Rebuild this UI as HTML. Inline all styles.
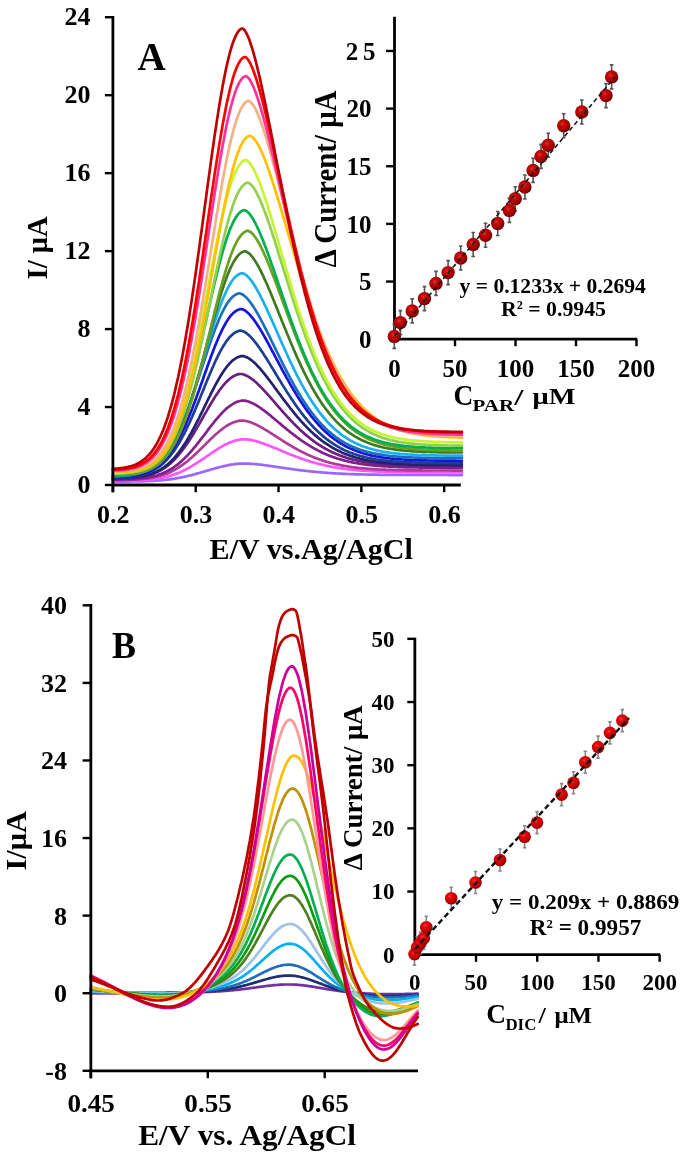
<!DOCTYPE html>
<html><head><meta charset="utf-8"><style>
html,body{margin:0;padding:0;background:#fff;}
svg{display:block;filter:blur(0.55px);}
text{font-family:"Liberation Serif", serif;font-weight:bold;fill:#000;}
</style></head><body>
<svg width="685" height="1156" viewBox="0 0 685 1156">
<defs>
<radialGradient id="sph" cx="0.4" cy="0.36" r="0.64">
<stop offset="0" stop-color="#E23232"/><stop offset="0.3" stop-color="#C40808"/><stop offset="0.75" stop-color="#A00000"/><stop offset="1" stop-color="#680000"/></radialGradient>
<radialGradient id="sph2" cx="0.4" cy="0.36" r="0.64">
<stop offset="0" stop-color="#FF3434"/><stop offset="0.3" stop-color="#E00808"/><stop offset="0.75" stop-color="#C00000"/><stop offset="1" stop-color="#800000"/></radialGradient>
</defs>
<rect width="685" height="1156" fill="#fff"/>
<polyline points="112.9,481.7 114.1,481.7 115.2,481.6 116.4,481.6 117.6,481.6 118.7,481.6 119.9,481.6 121.1,481.6 122.2,481.6 123.4,481.6 124.6,481.6 125.7,481.6 126.9,481.6 128.1,481.6 129.2,481.6 130.4,481.5 131.6,481.5 132.7,481.5 133.9,481.5 135.1,481.5 136.2,481.4 137.4,481.4 138.6,481.4 139.7,481.4 140.9,481.3 142.1,481.3 143.2,481.3 144.4,481.2 145.6,481.2 146.7,481.1 147.9,481.1 149.1,481.0 150.3,481.0 151.4,480.9 152.6,480.9 153.8,480.8 154.9,480.7 156.1,480.7 157.3,480.6 158.4,480.5 159.6,480.4 160.8,480.3 161.9,480.2 163.1,480.1 164.3,480.0 165.4,479.8 166.6,479.7 167.8,479.6 168.9,479.4 170.1,479.3 171.3,479.1 172.4,478.9 173.6,478.8 174.8,478.6 175.9,478.4 177.1,478.2 178.3,478.0 179.4,477.8 180.6,477.5 181.8,477.3 182.9,477.1 184.1,476.8 185.3,476.6 186.4,476.3 187.6,476.0 188.8,475.7 189.9,475.5 191.1,475.2 192.3,474.9 193.4,474.6 194.6,474.3 195.8,473.9 196.9,473.6 198.1,473.3 199.3,473.0 200.4,472.6 201.6,472.3 202.8,472.0 203.9,471.6 205.1,471.3 206.3,470.9 207.4,470.6 208.6,470.2 209.8,469.9 210.9,469.5 212.1,469.2 213.3,468.9 214.4,468.5 215.6,468.2 216.8,467.9 218.0,467.6 219.1,467.3 220.3,467.0 221.5,466.7 222.6,466.4 223.8,466.1 225.0,465.9 226.1,465.6 227.3,465.4 228.5,465.1 229.6,464.9 230.8,464.7 232.0,464.5 233.1,464.4 234.3,464.2 235.5,464.1 236.6,463.9 237.8,463.8 239.0,463.7 240.1,463.6 241.3,463.6 242.5,463.6 243.6,463.6 244.8,463.6 246.0,463.6 247.1,463.6 248.3,463.7 249.5,463.7 250.6,463.8 251.8,463.9 253.0,463.9 254.1,464.0 255.3,464.1 256.5,464.2 257.6,464.4 258.8,464.5 260.0,464.6 261.1,464.7 262.3,464.9 263.5,465.0 264.6,465.2 265.8,465.3 267.0,465.5 268.1,465.7 269.3,465.8 270.5,466.0 271.6,466.1 272.8,466.3 274.0,466.5 275.1,466.7 276.3,466.8 277.5,467.0 278.6,467.2 279.8,467.3 281.0,467.5 282.1,467.7 283.3,467.9 284.5,468.0 285.7,468.2 286.8,468.4 288.0,468.5 289.2,468.7 290.3,468.9 291.5,469.0 292.7,469.2 293.8,469.4 295.0,469.5 296.2,469.7 297.3,469.8 298.5,470.0 299.7,470.1 300.8,470.3 302.0,470.4 303.2,470.5 304.3,470.7 305.5,470.8 306.7,471.0 307.8,471.1 309.0,471.2 310.2,471.3 311.3,471.5 312.5,471.6 313.7,471.7 314.8,471.8 316.0,471.9 317.2,472.0 318.3,472.1 319.5,472.2 320.7,472.3 321.8,472.4 323.0,472.5 324.2,472.6 325.3,472.7 326.5,472.8 327.7,472.9 328.8,473.0 330.0,473.0 331.2,473.1 332.3,473.2 333.5,473.3 334.7,473.3 335.8,473.4 337.0,473.5 338.2,473.5 339.3,473.6 340.5,473.6 341.7,473.7 342.8,473.8 344.0,473.8 345.2,473.9 346.3,473.9 347.5,474.0 348.7,474.0 349.8,474.1 351.0,474.1 352.2,474.1 353.4,474.2 354.5,474.2 355.7,474.3 356.9,474.3 358.0,474.3 359.2,474.4 360.4,474.4 361.5,474.4 362.7,474.4 363.9,474.5 365.0,474.5 366.2,474.5 367.4,474.6 368.5,474.6 369.7,474.6 370.9,474.6 372.0,474.6 373.2,474.7 374.4,474.7 375.5,474.7 376.7,474.7 377.9,474.7 379.0,474.7 380.2,474.8 381.4,474.8 382.5,474.8 383.7,474.8 384.9,474.8 386.0,474.8 387.2,474.8 388.4,474.9 389.5,474.9 390.7,474.9 391.9,474.9 393.0,474.9 394.2,474.9 395.4,474.9 396.5,474.9 397.7,474.9 398.9,474.9 400.0,474.9 401.2,474.9 402.4,475.0 403.5,475.0 404.7,475.0 405.9,475.0 407.0,475.0 408.2,475.0 409.4,475.0 410.5,475.0 411.7,475.0 412.9,475.0 414.0,475.0 415.2,475.0 416.4,475.0 417.5,475.0 418.7,475.0 419.9,475.0 421.1,475.0 422.2,475.0 423.4,475.0 424.6,475.0 425.7,475.0 426.9,475.0 428.1,475.0 429.2,475.0 430.4,475.0 431.6,475.0 432.7,475.0 433.9,475.0 435.1,475.0 436.2,475.0 437.4,475.0 438.6,475.0 439.7,475.0 440.9,475.0 442.1,475.0 443.2,475.0 444.4,475.0 445.6,475.0 446.7,475.0 447.9,475.0 449.1,475.1 450.2,475.1 451.4,475.1 452.6,475.1 453.7,475.1 454.9,475.1 456.1,475.1 457.2,475.1 458.4,475.1 459.6,475.1 460.7,475.1 461.9,475.1" fill="none" stroke="#9966FF" stroke-width="2.7" stroke-linejoin="round" stroke-linecap="round"/>
<polyline points="112.9,480.9 114.1,480.9 115.2,480.8 116.4,480.8 117.6,480.8 118.7,480.8 119.9,480.8 121.1,480.8 122.2,480.8 123.4,480.8 124.6,480.8 125.7,480.7 126.9,480.7 128.1,480.7 129.2,480.7 130.4,480.6 131.6,480.6 132.7,480.6 133.9,480.5 135.1,480.5 136.2,480.5 137.4,480.4 138.6,480.4 139.7,480.3 140.9,480.2 142.1,480.2 143.2,480.1 144.4,480.0 145.6,479.9 146.7,479.9 147.9,479.8 149.1,479.6 150.3,479.5 151.4,479.4 152.6,479.3 153.8,479.1 154.9,479.0 156.1,478.8 157.3,478.6 158.4,478.5 159.6,478.2 160.8,478.0 161.9,477.8 163.1,477.6 164.3,477.3 165.4,477.0 166.6,476.8 167.8,476.4 168.9,476.1 170.1,475.8 171.3,475.4 172.4,475.1 173.6,474.7 174.8,474.3 175.9,473.8 177.1,473.4 178.3,472.9 179.4,472.4 180.6,471.9 181.8,471.4 182.9,470.9 184.1,470.3 185.3,469.7 186.4,469.1 187.6,468.5 188.8,467.9 189.9,467.2 191.1,466.5 192.3,465.9 193.4,465.2 194.6,464.4 195.8,463.7 196.9,463.0 198.1,462.2 199.3,461.4 200.4,460.7 201.6,459.9 202.8,459.1 203.9,458.3 205.1,457.5 206.3,456.7 207.4,455.9 208.6,455.1 209.8,454.3 210.9,453.5 212.1,452.7 213.3,451.9 214.4,451.1 215.6,450.3 216.8,449.6 218.0,448.8 219.1,448.1 220.3,447.4 221.5,446.7 222.6,446.1 223.8,445.4 225.0,444.8 226.1,444.2 227.3,443.7 228.5,443.1 229.6,442.6 230.8,442.2 232.0,441.7 233.1,441.3 234.3,440.9 235.5,440.6 236.6,440.3 237.8,440.0 239.0,439.8 240.1,439.6 241.3,439.4 242.5,439.3 243.6,439.3 244.8,439.3 246.0,439.3 247.1,439.4 248.3,439.6 249.5,439.7 250.6,439.9 251.8,440.1 253.0,440.4 254.1,440.7 255.3,441.0 256.5,441.3 257.6,441.6 258.8,442.0 260.0,442.4 261.1,442.7 262.3,443.1 263.5,443.5 264.6,444.0 265.8,444.4 267.0,444.9 268.1,445.3 269.3,445.8 270.5,446.2 271.6,446.7 272.8,447.2 274.0,447.7 275.1,448.1 276.3,448.6 277.5,449.1 278.6,449.6 279.8,450.1 281.0,450.6 282.1,451.1 283.3,451.6 284.5,452.0 285.7,452.5 286.8,453.0 288.0,453.5 289.2,454.0 290.3,454.4 291.5,454.9 292.7,455.3 293.8,455.8 295.0,456.2 296.2,456.7 297.3,457.1 298.5,457.6 299.7,458.0 300.8,458.4 302.0,458.8 303.2,459.2 304.3,459.6 305.5,460.0 306.7,460.4 307.8,460.7 309.0,461.1 310.2,461.5 311.3,461.8 312.5,462.2 313.7,462.5 314.8,462.8 316.0,463.2 317.2,463.5 318.3,463.8 319.5,464.1 320.7,464.4 321.8,464.7 323.0,464.9 324.2,465.2 325.3,465.5 326.5,465.7 327.7,466.0 328.8,466.2 330.0,466.4 331.2,466.7 332.3,466.9 333.5,467.1 334.7,467.3 335.8,467.5 337.0,467.7 338.2,467.9 339.3,468.1 340.5,468.2 341.7,468.4 342.8,468.6 344.0,468.7 345.2,468.9 346.3,469.0 347.5,469.2 348.7,469.3 349.8,469.5 351.0,469.6 352.2,469.7 353.4,469.8 354.5,469.9 355.7,470.1 356.9,470.2 358.0,470.3 359.2,470.4 360.4,470.5 361.5,470.6 362.7,470.6 363.9,470.7 365.0,470.8 366.2,470.9 367.4,471.0 368.5,471.0 369.7,471.1 370.9,471.2 372.0,471.2 373.2,471.3 374.4,471.4 375.5,471.4 376.7,471.5 377.9,471.5 379.0,471.6 380.2,471.6 381.4,471.7 382.5,471.7 383.7,471.7 384.9,471.8 386.0,471.8 387.2,471.8 388.4,471.9 389.5,471.9 390.7,471.9 391.9,472.0 393.0,472.0 394.2,472.0 395.4,472.1 396.5,472.1 397.7,472.1 398.9,472.1 400.0,472.1 401.2,472.2 402.4,472.2 403.5,472.2 404.7,472.2 405.9,472.2 407.0,472.3 408.2,472.3 409.4,472.3 410.5,472.3 411.7,472.3 412.9,472.3 414.0,472.3 415.2,472.3 416.4,472.4 417.5,472.4 418.7,472.4 419.9,472.4 421.1,472.4 422.2,472.4 423.4,472.4 424.6,472.4 425.7,472.4 426.9,472.4 428.1,472.4 429.2,472.4 430.4,472.4 431.6,472.4 432.7,472.5 433.9,472.5 435.1,472.5 436.2,472.5 437.4,472.5 438.6,472.5 439.7,472.5 440.9,472.5 442.1,472.5 443.2,472.5 444.4,472.5 445.6,472.5 446.7,472.5 447.9,472.5 449.1,472.5 450.2,472.5 451.4,472.5 452.6,472.5 453.7,472.5 454.9,472.5 456.1,472.5 457.2,472.5 458.4,472.5 459.6,472.5 460.7,472.5 461.9,472.5" fill="none" stroke="#FF55FF" stroke-width="2.7" stroke-linejoin="round" stroke-linecap="round"/>
<polyline points="112.9,480.2 114.1,480.2 115.2,480.2 116.4,480.2 117.6,480.2 118.7,480.2 119.9,480.2 121.1,480.1 122.2,480.1 123.4,480.1 124.6,480.1 125.7,480.0 126.9,480.0 128.1,480.0 129.2,479.9 130.4,479.9 131.6,479.8 132.7,479.8 133.9,479.7 135.1,479.7 136.2,479.6 137.4,479.5 138.6,479.4 139.7,479.3 140.9,479.2 142.1,479.1 143.2,479.0 144.4,478.9 145.6,478.7 146.7,478.6 147.9,478.4 149.1,478.3 150.3,478.1 151.4,477.9 152.6,477.7 153.8,477.4 154.9,477.2 156.1,476.9 157.3,476.6 158.4,476.3 159.6,476.0 160.8,475.7 161.9,475.3 163.1,474.9 164.3,474.5 165.4,474.1 166.6,473.7 167.8,473.2 168.9,472.7 170.1,472.2 171.3,471.6 172.4,471.0 173.6,470.4 174.8,469.8 175.9,469.1 177.1,468.4 178.3,467.7 179.4,467.0 180.6,466.2 181.8,465.4 182.9,464.6 184.1,463.7 185.3,462.8 186.4,461.9 187.6,461.0 188.8,460.0 189.9,459.0 191.1,458.0 192.3,457.0 193.4,455.9 194.6,454.9 195.8,453.8 196.9,452.7 198.1,451.6 199.3,450.4 200.4,449.3 201.6,448.1 202.8,447.0 203.9,445.8 205.1,444.7 206.3,443.5 207.4,442.3 208.6,441.2 209.8,440.0 210.9,438.9 212.1,437.8 213.3,436.7 214.4,435.6 215.6,434.5 216.8,433.5 218.0,432.5 219.1,431.5 220.3,430.5 221.5,429.6 222.6,428.7 223.8,427.8 225.0,427.0 226.1,426.2 227.3,425.5 228.5,424.8 229.6,424.2 230.8,423.6 232.0,423.1 233.1,422.6 234.3,422.1 235.5,421.7 236.6,421.4 237.8,421.1 239.0,420.9 240.1,420.7 241.3,420.6 242.5,420.6 243.6,420.6 244.8,420.8 246.0,421.0 247.1,421.3 248.3,421.6 249.5,421.9 250.6,422.3 251.8,422.8 253.0,423.2 254.1,423.7 255.3,424.3 256.5,424.8 257.6,425.4 258.8,426.0 260.0,426.6 261.1,427.3 262.3,427.9 263.5,428.6 264.6,429.3 265.8,430.0 267.0,430.7 268.1,431.4 269.3,432.2 270.5,432.9 271.6,433.6 272.8,434.4 274.0,435.1 275.1,435.9 276.3,436.7 277.5,437.4 278.6,438.2 279.8,438.9 281.0,439.7 282.1,440.4 283.3,441.1 284.5,441.9 285.7,442.6 286.8,443.3 288.0,444.0 289.2,444.8 290.3,445.4 291.5,446.1 292.7,446.8 293.8,447.5 295.0,448.2 296.2,448.8 297.3,449.4 298.5,450.1 299.7,450.7 300.8,451.3 302.0,451.9 303.2,452.5 304.3,453.1 305.5,453.6 306.7,454.2 307.8,454.7 309.0,455.2 310.2,455.8 311.3,456.3 312.5,456.7 313.7,457.2 314.8,457.7 316.0,458.1 317.2,458.6 318.3,459.0 319.5,459.4 320.7,459.8 321.8,460.2 323.0,460.6 324.2,461.0 325.3,461.4 326.5,461.7 327.7,462.0 328.8,462.4 330.0,462.7 331.2,463.0 332.3,463.3 333.5,463.6 334.7,463.9 335.8,464.2 337.0,464.4 338.2,464.7 339.3,464.9 340.5,465.2 341.7,465.4 342.8,465.6 344.0,465.8 345.2,466.0 346.3,466.2 347.5,466.4 348.7,466.6 349.8,466.8 351.0,466.9 352.2,467.1 353.4,467.3 354.5,467.4 355.7,467.6 356.9,467.7 358.0,467.8 359.2,468.0 360.4,468.1 361.5,468.2 362.7,468.3 363.9,468.4 365.0,468.5 366.2,468.6 367.4,468.7 368.5,468.8 369.7,468.9 370.9,469.0 372.0,469.0 373.2,469.1 374.4,469.2 375.5,469.3 376.7,469.3 377.9,469.4 379.0,469.5 380.2,469.5 381.4,469.6 382.5,469.6 383.7,469.7 384.9,469.7 386.0,469.8 387.2,469.8 388.4,469.8 389.5,469.9 390.7,469.9 391.9,470.0 393.0,470.0 394.2,470.0 395.4,470.1 396.5,470.1 397.7,470.1 398.9,470.1 400.0,470.2 401.2,470.2 402.4,470.2 403.5,470.2 404.7,470.2 405.9,470.3 407.0,470.3 408.2,470.3 409.4,470.3 410.5,470.3 411.7,470.3 412.9,470.4 414.0,470.4 415.2,470.4 416.4,470.4 417.5,470.4 418.7,470.4 419.9,470.4 421.1,470.4 422.2,470.4 423.4,470.5 424.6,470.5 425.7,470.5 426.9,470.5 428.1,470.5 429.2,470.5 430.4,470.5 431.6,470.5 432.7,470.5 433.9,470.5 435.1,470.5 436.2,470.5 437.4,470.5 438.6,470.5 439.7,470.5 440.9,470.5 442.1,470.5 443.2,470.5 444.4,470.5 445.6,470.5 446.7,470.5 447.9,470.5 449.1,470.5 450.2,470.5 451.4,470.6 452.6,470.6 453.7,470.6 454.9,470.6 456.1,470.6 457.2,470.6 458.4,470.6 459.6,470.6 460.7,470.6 461.9,470.6" fill="none" stroke="#B03A98" stroke-width="2.7" stroke-linejoin="round" stroke-linecap="round"/>
<polyline points="112.9,479.6 114.1,479.6 115.2,479.6 116.4,479.6 117.6,479.6 118.7,479.6 119.9,479.5 121.1,479.5 122.2,479.5 123.4,479.5 124.6,479.4 125.7,479.4 126.9,479.4 128.1,479.3 129.2,479.3 130.4,479.2 131.6,479.1 132.7,479.1 133.9,479.0 135.1,478.9 136.2,478.8 137.4,478.8 138.6,478.7 139.7,478.5 140.9,478.4 142.1,478.3 143.2,478.1 144.4,478.0 145.6,477.8 146.7,477.6 147.9,477.4 149.1,477.2 150.3,477.0 151.4,476.7 152.6,476.5 153.8,476.2 154.9,475.9 156.1,475.6 157.3,475.2 158.4,474.8 159.6,474.4 160.8,474.0 161.9,473.5 163.1,473.1 164.3,472.6 165.4,472.0 166.6,471.4 167.8,470.8 168.9,470.2 170.1,469.5 171.3,468.8 172.4,468.1 173.6,467.3 174.8,466.5 175.9,465.7 177.1,464.8 178.3,463.9 179.4,462.9 180.6,461.9 181.8,460.9 182.9,459.8 184.1,458.7 185.3,457.6 186.4,456.4 187.6,455.2 188.8,453.9 189.9,452.7 191.1,451.3 192.3,450.0 193.4,448.6 194.6,447.2 195.8,445.8 196.9,444.4 198.1,442.9 199.3,441.4 200.4,439.9 201.6,438.4 202.8,436.9 203.9,435.3 205.1,433.8 206.3,432.3 207.4,430.7 208.6,429.2 209.8,427.7 210.9,426.1 212.1,424.6 213.3,423.2 214.4,421.7 215.6,420.2 216.8,418.8 218.0,417.5 219.1,416.1 220.3,414.8 221.5,413.5 222.6,412.3 223.8,411.1 225.0,410.0 226.1,408.9 227.3,407.9 228.5,407.0 229.6,406.1 230.8,405.3 232.0,404.5 233.1,403.8 234.3,403.1 235.5,402.6 236.6,402.1 237.8,401.6 239.0,401.3 240.1,401.0 241.3,400.7 242.5,400.6 243.6,400.6 244.8,400.7 246.0,400.9 247.1,401.2 248.3,401.5 249.5,401.9 250.6,402.4 251.8,402.9 253.0,403.4 254.1,404.1 255.3,404.7 256.5,405.4 257.6,406.1 258.8,406.9 260.0,407.6 261.1,408.4 262.3,409.3 263.5,410.1 264.6,411.0 265.8,411.9 267.0,412.8 268.1,413.7 269.3,414.7 270.5,415.6 271.6,416.6 272.8,417.6 274.0,418.5 275.1,419.5 276.3,420.5 277.5,421.5 278.6,422.5 279.8,423.4 281.0,424.4 282.1,425.4 283.3,426.4 284.5,427.3 285.7,428.3 286.8,429.3 288.0,430.2 289.2,431.2 290.3,432.1 291.5,433.0 292.7,433.9 293.8,434.8 295.0,435.7 296.2,436.6 297.3,437.5 298.5,438.3 299.7,439.2 300.8,440.0 302.0,440.8 303.2,441.6 304.3,442.4 305.5,443.2 306.7,443.9 307.8,444.7 309.0,445.4 310.2,446.1 311.3,446.8 312.5,447.5 313.7,448.1 314.8,448.8 316.0,449.4 317.2,450.0 318.3,450.6 319.5,451.2 320.7,451.8 321.8,452.4 323.0,452.9 324.2,453.4 325.3,454.0 326.5,454.5 327.7,454.9 328.8,455.4 330.0,455.9 331.2,456.3 332.3,456.8 333.5,457.2 334.7,457.6 335.8,458.0 337.0,458.4 338.2,458.7 339.3,459.1 340.5,459.4 341.7,459.8 342.8,460.1 344.0,460.4 345.2,460.7 346.3,461.0 347.5,461.3 348.7,461.6 349.8,461.8 351.0,462.1 352.2,462.3 353.4,462.6 354.5,462.8 355.7,463.0 356.9,463.2 358.0,463.4 359.2,463.6 360.4,463.8 361.5,464.0 362.7,464.2 363.9,464.3 365.0,464.5 366.2,464.6 367.4,464.8 368.5,464.9 369.7,465.1 370.9,465.2 372.0,465.3 373.2,465.4 374.4,465.6 375.5,465.7 376.7,465.8 377.9,465.9 379.0,466.0 380.2,466.1 381.4,466.1 382.5,466.2 383.7,466.3 384.9,466.4 386.0,466.5 387.2,466.5 388.4,466.6 389.5,466.7 390.7,466.7 391.9,466.8 393.0,466.8 394.2,466.9 395.4,466.9 396.5,467.0 397.7,467.0 398.9,467.1 400.0,467.1 401.2,467.1 402.4,467.2 403.5,467.2 404.7,467.3 405.9,467.3 407.0,467.3 408.2,467.3 409.4,467.4 410.5,467.4 411.7,467.4 412.9,467.4 414.0,467.5 415.2,467.5 416.4,467.5 417.5,467.5 418.7,467.5 419.9,467.6 421.1,467.6 422.2,467.6 423.4,467.6 424.6,467.6 425.7,467.6 426.9,467.6 428.1,467.7 429.2,467.7 430.4,467.7 431.6,467.7 432.7,467.7 433.9,467.7 435.1,467.7 436.2,467.7 437.4,467.7 438.6,467.7 439.7,467.7 440.9,467.8 442.1,467.8 443.2,467.8 444.4,467.8 445.6,467.8 446.7,467.8 447.9,467.8 449.1,467.8 450.2,467.8 451.4,467.8 452.6,467.8 453.7,467.8 454.9,467.8 456.1,467.8 457.2,467.8 458.4,467.8 459.6,467.8 460.7,467.8 461.9,467.8" fill="none" stroke="#82208E" stroke-width="2.7" stroke-linejoin="round" stroke-linecap="round"/>
<polyline points="112.9,479.0 114.1,479.0 115.2,479.0 116.4,478.9 117.6,478.9 118.7,478.9 119.9,478.8 121.1,478.8 122.2,478.7 123.4,478.7 124.6,478.6 125.7,478.6 126.9,478.5 128.1,478.5 129.2,478.4 130.4,478.3 131.6,478.2 132.7,478.1 133.9,478.0 135.1,477.9 136.2,477.7 137.4,477.6 138.6,477.4 139.7,477.2 140.9,477.0 142.1,476.8 143.2,476.6 144.4,476.4 145.6,476.1 146.7,475.8 147.9,475.5 149.1,475.2 150.3,474.8 151.4,474.4 152.6,474.0 153.8,473.6 154.9,473.1 156.1,472.6 157.3,472.1 158.4,471.5 159.6,470.9 160.8,470.3 161.9,469.6 163.1,468.9 164.3,468.1 165.4,467.3 166.6,466.4 167.8,465.5 168.9,464.6 170.1,463.6 171.3,462.6 172.4,461.5 173.6,460.4 174.8,459.2 175.9,457.9 177.1,456.7 178.3,455.3 179.4,454.0 180.6,452.5 181.8,451.0 182.9,449.5 184.1,447.9 185.3,446.3 186.4,444.6 187.6,442.9 188.8,441.2 189.9,439.4 191.1,437.6 192.3,435.7 193.4,433.8 194.6,431.8 195.8,429.9 196.9,427.9 198.1,425.9 199.3,423.9 200.4,421.8 201.6,419.8 202.8,417.7 203.9,415.7 205.1,413.6 206.3,411.6 207.4,409.6 208.6,407.5 209.8,405.5 210.9,403.6 212.1,401.6 213.3,399.7 214.4,397.8 215.6,396.0 216.8,394.2 218.0,392.5 219.1,390.8 220.3,389.2 221.5,387.7 222.6,386.2 223.8,384.8 225.0,383.4 226.1,382.2 227.3,381.0 228.5,379.9 229.6,378.9 230.8,378.0 232.0,377.2 233.1,376.5 234.3,375.8 235.5,375.3 236.6,374.8 237.8,374.4 239.0,374.2 240.1,374.0 241.3,374.0 242.5,374.2 243.6,374.5 244.8,374.9 246.0,375.4 247.1,375.9 248.3,376.6 249.5,377.3 250.6,378.1 251.8,378.9 253.0,379.8 254.1,380.8 255.3,381.8 256.5,382.8 257.6,383.9 258.8,385.0 260.0,386.2 261.1,387.4 262.3,388.6 263.5,389.8 264.6,391.1 265.8,392.3 267.0,393.6 268.1,394.9 269.3,396.2 270.5,397.6 271.6,398.9 272.8,400.2 274.0,401.6 275.1,402.9 276.3,404.3 277.5,405.6 278.6,407.0 279.8,408.3 281.0,409.6 282.1,411.0 283.3,412.3 284.5,413.6 285.7,414.9 286.8,416.2 288.0,417.5 289.2,418.7 290.3,420.0 291.5,421.2 292.7,422.4 293.8,423.6 295.0,424.8 296.2,426.0 297.3,427.1 298.5,428.2 299.7,429.4 300.8,430.4 302.0,431.5 303.2,432.6 304.3,433.6 305.5,434.6 306.7,435.6 307.8,436.6 309.0,437.5 310.2,438.4 311.3,439.4 312.5,440.2 313.7,441.1 314.8,442.0 316.0,442.8 317.2,443.6 318.3,444.4 319.5,445.1 320.7,445.9 321.8,446.6 323.0,447.3 324.2,448.0 325.3,448.7 326.5,449.3 327.7,449.9 328.8,450.5 330.0,451.1 331.2,451.7 332.3,452.3 333.5,452.8 334.7,453.3 335.8,453.8 337.0,454.3 338.2,454.8 339.3,455.3 340.5,455.7 341.7,456.1 342.8,456.5 344.0,456.9 345.2,457.3 346.3,457.7 347.5,458.1 348.7,458.4 349.8,458.7 351.0,459.1 352.2,459.4 353.4,459.7 354.5,460.0 355.7,460.2 356.9,460.5 358.0,460.8 359.2,461.0 360.4,461.2 361.5,461.5 362.7,461.7 363.9,461.9 365.0,462.1 366.2,462.3 367.4,462.5 368.5,462.7 369.7,462.8 370.9,463.0 372.0,463.1 373.2,463.3 374.4,463.4 375.5,463.6 376.7,463.7 377.9,463.8 379.0,464.0 380.2,464.1 381.4,464.2 382.5,464.3 383.7,464.4 384.9,464.5 386.0,464.6 387.2,464.7 388.4,464.7 389.5,464.8 390.7,464.9 391.9,465.0 393.0,465.0 394.2,465.1 395.4,465.2 396.5,465.2 397.7,465.3 398.9,465.3 400.0,465.4 401.2,465.4 402.4,465.5 403.5,465.5 404.7,465.6 405.9,465.6 407.0,465.6 408.2,465.7 409.4,465.7 410.5,465.7 411.7,465.8 412.9,465.8 414.0,465.8 415.2,465.9 416.4,465.9 417.5,465.9 418.7,465.9 419.9,465.9 421.1,466.0 422.2,466.0 423.4,466.0 424.6,466.0 425.7,466.0 426.9,466.0 428.1,466.1 429.2,466.1 430.4,466.1 431.6,466.1 432.7,466.1 433.9,466.1 435.1,466.1 436.2,466.1 437.4,466.2 438.6,466.2 439.7,466.2 440.9,466.2 442.1,466.2 443.2,466.2 444.4,466.2 445.6,466.2 446.7,466.2 447.9,466.2 449.1,466.2 450.2,466.2 451.4,466.2 452.6,466.2 453.7,466.2 454.9,466.2 456.1,466.2 457.2,466.2 458.4,466.2 459.6,466.2 460.7,466.3 461.9,466.3" fill="none" stroke="#6C1E80" stroke-width="2.7" stroke-linejoin="round" stroke-linecap="round"/>
<polyline points="112.9,478.4 114.1,478.4 115.2,478.4 116.4,478.3 117.6,478.3 118.7,478.3 119.9,478.3 121.1,478.2 122.2,478.2 123.4,478.1 124.6,478.1 125.7,478.0 126.9,478.0 128.1,477.9 129.2,477.8 130.4,477.7 131.6,477.6 132.7,477.5 133.9,477.4 135.1,477.3 136.2,477.1 137.4,477.0 138.6,476.8 139.7,476.6 140.9,476.4 142.1,476.2 143.2,476.0 144.4,475.7 145.6,475.5 146.7,475.2 147.9,474.8 149.1,474.5 150.3,474.1 151.4,473.7 152.6,473.3 153.8,472.8 154.9,472.3 156.1,471.8 157.3,471.2 158.4,470.6 159.6,470.0 160.8,469.3 161.9,468.6 163.1,467.8 164.3,467.0 165.4,466.1 166.6,465.2 167.8,464.2 168.9,463.2 170.1,462.1 171.3,461.0 172.4,459.8 173.6,458.6 174.8,457.3 175.9,455.9 177.1,454.5 178.3,453.1 179.4,451.5 180.6,449.9 181.8,448.3 182.9,446.6 184.1,444.8 185.3,443.0 186.4,441.2 187.6,439.2 188.8,437.3 189.9,435.2 191.1,433.2 192.3,431.0 193.4,428.9 194.6,426.7 195.8,424.4 196.9,422.2 198.1,419.8 199.3,417.5 200.4,415.2 201.6,412.8 202.8,410.4 203.9,408.0 205.1,405.6 206.3,403.2 207.4,400.8 208.6,398.4 209.8,396.1 210.9,393.7 212.1,391.4 213.3,389.1 214.4,386.9 215.6,384.7 216.8,382.5 218.0,380.4 219.1,378.4 220.3,376.4 221.5,374.5 222.6,372.7 223.8,370.9 225.0,369.2 226.1,367.7 227.3,366.2 228.5,364.8 229.6,363.4 230.8,362.2 232.0,361.1 233.1,360.1 234.3,359.3 235.5,358.5 236.6,357.8 237.8,357.2 239.0,356.7 240.1,356.4 241.3,356.1 242.5,356.0 243.6,356.1 244.8,356.4 246.0,356.9 247.1,357.4 248.3,358.0 249.5,358.8 250.6,359.6 251.8,360.5 253.0,361.5 254.1,362.5 255.3,363.6 256.5,364.8 257.6,366.0 258.8,367.2 260.0,368.5 261.1,369.9 262.3,371.3 263.5,372.7 264.6,374.1 265.8,375.6 267.0,377.1 268.1,378.6 269.3,380.1 270.5,381.7 271.6,383.2 272.8,384.8 274.0,386.4 275.1,388.0 276.3,389.6 277.5,391.2 278.6,392.8 279.8,394.3 281.0,395.9 282.1,397.5 283.3,399.1 284.5,400.6 285.7,402.2 286.8,403.7 288.0,405.2 289.2,406.8 290.3,408.3 291.5,409.7 292.7,411.2 293.8,412.6 295.0,414.1 296.2,415.5 297.3,416.9 298.5,418.2 299.7,419.6 300.8,420.9 302.0,422.2 303.2,423.5 304.3,424.7 305.5,425.9 306.7,427.2 307.8,428.3 309.0,429.5 310.2,430.6 311.3,431.7 312.5,432.8 313.7,433.9 314.8,434.9 316.0,435.9 317.2,436.9 318.3,437.9 319.5,438.8 320.7,439.7 321.8,440.6 323.0,441.5 324.2,442.3 325.3,443.1 326.5,443.9 327.7,444.7 328.8,445.4 330.0,446.2 331.2,446.9 332.3,447.6 333.5,448.2 334.7,448.9 335.8,449.5 337.0,450.1 338.2,450.7 339.3,451.3 340.5,451.8 341.7,452.4 342.8,452.9 344.0,453.4 345.2,453.9 346.3,454.3 347.5,454.8 348.7,455.2 349.8,455.6 351.0,456.0 352.2,456.4 353.4,456.8 354.5,457.1 355.7,457.5 356.9,457.8 358.0,458.1 359.2,458.4 360.4,458.7 361.5,459.0 362.7,459.3 363.9,459.6 365.0,459.8 366.2,460.1 367.4,460.3 368.5,460.5 369.7,460.7 370.9,460.9 372.0,461.1 373.2,461.3 374.4,461.5 375.5,461.7 376.7,461.8 377.9,462.0 379.0,462.1 380.2,462.3 381.4,462.4 382.5,462.6 383.7,462.7 384.9,462.8 386.0,462.9 387.2,463.0 388.4,463.1 389.5,463.2 390.7,463.3 391.9,463.4 393.0,463.5 394.2,463.6 395.4,463.7 396.5,463.8 397.7,463.8 398.9,463.9 400.0,464.0 401.2,464.0 402.4,464.1 403.5,464.1 404.7,464.2 405.9,464.2 407.0,464.3 408.2,464.3 409.4,464.4 410.5,464.4 411.7,464.5 412.9,464.5 414.0,464.5 415.2,464.6 416.4,464.6 417.5,464.6 418.7,464.6 419.9,464.7 421.1,464.7 422.2,464.7 423.4,464.7 424.6,464.8 425.7,464.8 426.9,464.8 428.1,464.8 429.2,464.8 430.4,464.9 431.6,464.9 432.7,464.9 433.9,464.9 435.1,464.9 436.2,464.9 437.4,464.9 438.6,465.0 439.7,465.0 440.9,465.0 442.1,465.0 443.2,465.0 444.4,465.0 445.6,465.0 446.7,465.0 447.9,465.0 449.1,465.0 450.2,465.0 451.4,465.0 452.6,465.0 453.7,465.0 454.9,465.1 456.1,465.1 457.2,465.1 458.4,465.1 459.6,465.1 460.7,465.1 461.9,465.1" fill="none" stroke="#222270" stroke-width="2.7" stroke-linejoin="round" stroke-linecap="round"/>
<polyline points="112.9,477.8 114.1,477.7 115.2,477.7 116.4,477.7 117.6,477.6 118.7,477.6 119.9,477.5 121.1,477.5 122.2,477.4 123.4,477.3 124.6,477.3 125.7,477.2 126.9,477.1 128.1,477.0 129.2,476.9 130.4,476.8 131.6,476.6 132.7,476.5 133.9,476.3 135.1,476.1 136.2,476.0 137.4,475.7 138.6,475.5 139.7,475.3 140.9,475.0 142.1,474.7 143.2,474.4 144.4,474.0 145.6,473.7 146.7,473.3 147.9,472.8 149.1,472.3 150.3,471.8 151.4,471.3 152.6,470.7 153.8,470.1 154.9,469.4 156.1,468.7 157.3,468.0 158.4,467.2 159.6,466.3 160.8,465.4 161.9,464.4 163.1,463.4 164.3,462.3 165.4,461.2 166.6,460.0 167.8,458.7 168.9,457.4 170.1,456.0 171.3,454.5 172.4,453.0 173.6,451.4 174.8,449.7 175.9,448.0 177.1,446.1 178.3,444.3 179.4,442.3 180.6,440.3 181.8,438.2 182.9,436.0 184.1,433.8 185.3,431.5 186.4,429.1 187.6,426.7 188.8,424.2 189.9,421.7 191.1,419.1 192.3,416.5 193.4,413.8 194.6,411.1 195.8,408.3 196.9,405.5 198.1,402.7 199.3,399.9 200.4,397.0 201.6,394.1 202.8,391.2 203.9,388.4 205.1,385.5 206.3,382.6 207.4,379.7 208.6,376.9 209.8,374.1 210.9,371.4 212.1,368.6 213.3,366.0 214.4,363.4 215.6,360.8 216.8,358.3 218.0,355.9 219.1,353.6 220.3,351.4 221.5,349.2 222.6,347.2 223.8,345.2 225.0,343.4 226.1,341.7 227.3,340.1 228.5,338.6 229.6,337.2 230.8,336.0 232.0,334.9 233.1,333.9 234.3,333.0 235.5,332.3 236.6,331.7 237.8,331.2 239.0,330.9 240.1,330.7 241.3,330.7 242.5,331.0 243.6,331.5 244.8,332.1 246.0,332.9 247.1,333.7 248.3,334.7 249.5,335.8 250.6,336.9 251.8,338.2 253.0,339.5 254.1,340.9 255.3,342.3 256.5,343.8 257.6,345.4 258.8,347.0 260.0,348.7 261.1,350.4 262.3,352.1 263.5,353.9 264.6,355.7 265.8,357.5 267.0,359.4 268.1,361.3 269.3,363.1 270.5,365.1 271.6,367.0 272.8,368.9 274.0,370.8 275.1,372.7 276.3,374.7 277.5,376.6 278.6,378.5 279.8,380.4 281.0,382.3 282.1,384.2 283.3,386.1 284.5,388.0 285.7,389.9 286.8,391.7 288.0,393.5 289.2,395.3 290.3,397.1 291.5,398.9 292.7,400.6 293.8,402.3 295.0,404.0 296.2,405.7 297.3,407.3 298.5,408.9 299.7,410.5 300.8,412.1 302.0,413.6 303.2,415.1 304.3,416.6 305.5,418.0 306.7,419.4 307.8,420.8 309.0,422.2 310.2,423.5 311.3,424.8 312.5,426.0 313.7,427.3 314.8,428.5 316.0,429.7 317.2,430.8 318.3,431.9 319.5,433.0 320.7,434.1 321.8,435.1 323.0,436.1 324.2,437.1 325.3,438.0 326.5,439.0 327.7,439.9 328.8,440.7 330.0,441.6 331.2,442.4 332.3,443.2 333.5,444.0 334.7,444.7 335.8,445.4 337.0,446.1 338.2,446.8 339.3,447.4 340.5,448.1 341.7,448.7 342.8,449.3 344.0,449.9 345.2,450.4 346.3,450.9 347.5,451.4 348.7,451.9 349.8,452.4 351.0,452.9 352.2,453.3 353.4,453.7 354.5,454.2 355.7,454.5 356.9,454.9 358.0,455.3 359.2,455.6 360.4,456.0 361.5,456.3 362.7,456.6 363.9,456.9 365.0,457.2 366.2,457.5 367.4,457.7 368.5,458.0 369.7,458.2 370.9,458.5 372.0,458.7 373.2,458.9 374.4,459.1 375.5,459.3 376.7,459.5 377.9,459.7 379.0,459.8 380.2,460.0 381.4,460.2 382.5,460.3 383.7,460.5 384.9,460.6 386.0,460.7 387.2,460.8 388.4,461.0 389.5,461.1 390.7,461.2 391.9,461.3 393.0,461.4 394.2,461.5 395.4,461.6 396.5,461.6 397.7,461.7 398.9,461.8 400.0,461.9 401.2,461.9 402.4,462.0 403.5,462.1 404.7,462.1 405.9,462.2 407.0,462.2 408.2,462.3 409.4,462.3 410.5,462.4 411.7,462.4 412.9,462.5 414.0,462.5 415.2,462.5 416.4,462.6 417.5,462.6 418.7,462.6 419.9,462.7 421.1,462.7 422.2,462.7 423.4,462.8 424.6,462.8 425.7,462.8 426.9,462.8 428.1,462.8 429.2,462.9 430.4,462.9 431.6,462.9 432.7,462.9 433.9,462.9 435.1,462.9 436.2,463.0 437.4,463.0 438.6,463.0 439.7,463.0 440.9,463.0 442.1,463.0 443.2,463.0 444.4,463.0 445.6,463.0 446.7,463.1 447.9,463.1 449.1,463.1 450.2,463.1 451.4,463.1 452.6,463.1 453.7,463.1 454.9,463.1 456.1,463.1 457.2,463.1 458.4,463.1 459.6,463.1 460.7,463.1 461.9,463.1" fill="none" stroke="#1C3F94" stroke-width="2.7" stroke-linejoin="round" stroke-linecap="round"/>
<polyline points="112.9,477.2 114.1,477.1 115.2,477.1 116.4,477.1 117.6,477.0 118.7,477.0 119.9,476.9 121.1,476.8 122.2,476.8 123.4,476.7 124.6,476.6 125.7,476.5 126.9,476.4 128.1,476.3 129.2,476.2 130.4,476.1 131.6,475.9 132.7,475.8 133.9,475.6 135.1,475.4 136.2,475.2 137.4,474.9 138.6,474.7 139.7,474.4 140.9,474.1 142.1,473.8 143.2,473.4 144.4,473.0 145.6,472.6 146.7,472.2 147.9,471.7 149.1,471.2 150.3,470.6 151.4,470.0 152.6,469.4 153.8,468.7 154.9,467.9 156.1,467.2 157.3,466.3 158.4,465.4 159.6,464.5 160.8,463.4 161.9,462.4 163.1,461.2 164.3,460.0 165.4,458.7 166.6,457.4 167.8,456.0 168.9,454.5 170.1,452.9 171.3,451.3 172.4,449.6 173.6,447.8 174.8,445.9 175.9,443.9 177.1,441.9 178.3,439.8 179.4,437.5 180.6,435.3 181.8,432.9 182.9,430.5 184.1,428.0 185.3,425.4 186.4,422.7 187.6,420.0 188.8,417.2 189.9,414.3 191.1,411.4 192.3,408.4 193.4,405.3 194.6,402.2 195.8,399.1 196.9,395.9 198.1,392.7 199.3,389.5 200.4,386.2 201.6,382.9 202.8,379.6 203.9,376.3 205.1,373.0 206.3,369.7 207.4,366.5 208.6,363.2 209.8,360.0 210.9,356.8 212.1,353.7 213.3,350.6 214.4,347.6 215.6,344.7 216.8,341.8 218.0,339.0 219.1,336.3 220.3,333.7 221.5,331.2 222.6,328.9 223.8,326.6 225.0,324.5 226.1,322.4 227.3,320.5 228.5,318.8 229.6,317.2 230.8,315.7 232.0,314.4 233.1,313.2 234.3,312.2 235.5,311.3 236.6,310.5 237.8,309.9 239.0,309.5 240.1,309.1 241.3,309.1 242.5,309.3 243.6,309.8 244.8,310.4 246.0,311.2 247.1,312.2 248.3,313.2 249.5,314.4 250.6,315.7 251.8,317.1 253.0,318.6 254.1,320.1 255.3,321.7 256.5,323.5 257.6,325.2 258.8,327.0 260.0,328.9 261.1,330.9 262.3,332.8 263.5,334.9 264.6,336.9 265.8,339.0 267.0,341.1 268.1,343.2 269.3,345.4 270.5,347.6 271.6,349.8 272.8,352.0 274.0,354.2 275.1,356.4 276.3,358.6 277.5,360.8 278.6,363.0 279.8,365.2 281.0,367.4 282.1,369.6 283.3,371.7 284.5,373.9 285.7,376.0 286.8,378.1 288.0,380.2 289.2,382.3 290.3,384.3 291.5,386.4 292.7,388.4 293.8,390.3 295.0,392.3 296.2,394.2 297.3,396.1 298.5,398.0 299.7,399.8 300.8,401.6 302.0,403.3 303.2,405.1 304.3,406.8 305.5,408.4 306.7,410.1 307.8,411.7 309.0,413.2 310.2,414.8 311.3,416.3 312.5,417.7 313.7,419.2 314.8,420.5 316.0,421.9 317.2,423.2 318.3,424.5 319.5,425.8 320.7,427.0 321.8,428.2 323.0,429.4 324.2,430.5 325.3,431.6 326.5,432.7 327.7,433.7 328.8,434.7 330.0,435.7 331.2,436.7 332.3,437.6 333.5,438.5 334.7,439.3 335.8,440.2 337.0,441.0 338.2,441.8 339.3,442.5 340.5,443.3 341.7,444.0 342.8,444.6 344.0,445.3 345.2,446.0 346.3,446.6 347.5,447.2 348.7,447.7 349.8,448.3 351.0,448.8 352.2,449.3 353.4,449.8 354.5,450.3 355.7,450.8 356.9,451.2 358.0,451.6 359.2,452.0 360.4,452.4 361.5,452.8 362.7,453.2 363.9,453.5 365.0,453.9 366.2,454.2 367.4,454.5 368.5,454.8 369.7,455.1 370.9,455.3 372.0,455.6 373.2,455.8 374.4,456.1 375.5,456.3 376.7,456.5 377.9,456.7 379.0,456.9 380.2,457.1 381.4,457.3 382.5,457.5 383.7,457.7 384.9,457.8 386.0,458.0 387.2,458.1 388.4,458.2 389.5,458.4 390.7,458.5 391.9,458.6 393.0,458.7 394.2,458.8 395.4,459.0 396.5,459.0 397.7,459.1 398.9,459.2 400.0,459.3 401.2,459.4 402.4,459.5 403.5,459.5 404.7,459.6 405.9,459.7 407.0,459.7 408.2,459.8 409.4,459.9 410.5,459.9 411.7,460.0 412.9,460.0 414.0,460.1 415.2,460.1 416.4,460.1 417.5,460.2 418.7,460.2 419.9,460.3 421.1,460.3 422.2,460.3 423.4,460.3 424.6,460.4 425.7,460.4 426.9,460.4 428.1,460.5 429.2,460.5 430.4,460.5 431.6,460.5 432.7,460.5 433.9,460.6 435.1,460.6 436.2,460.6 437.4,460.6 438.6,460.6 439.7,460.6 440.9,460.6 442.1,460.7 443.2,460.7 444.4,460.7 445.6,460.7 446.7,460.7 447.9,460.7 449.1,460.7 450.2,460.7 451.4,460.7 452.6,460.7 453.7,460.7 454.9,460.7 456.1,460.7 457.2,460.8 458.4,460.8 459.6,460.8 460.7,460.8 461.9,460.8" fill="none" stroke="#1414DC" stroke-width="2.7" stroke-linejoin="round" stroke-linecap="round"/>
<polyline points="112.9,476.5 114.1,476.5 115.2,476.4 116.4,476.4 117.6,476.3 118.7,476.3 119.9,476.2 121.1,476.1 122.2,476.0 123.4,475.9 124.6,475.8 125.7,475.7 126.9,475.6 128.1,475.5 129.2,475.3 130.4,475.1 131.6,474.9 132.7,474.7 133.9,474.5 135.1,474.3 136.2,474.0 137.4,473.7 138.6,473.4 139.7,473.1 140.9,472.7 142.1,472.3 143.2,471.9 144.4,471.4 145.6,470.9 146.7,470.4 147.9,469.8 149.1,469.2 150.3,468.5 151.4,467.8 152.6,467.0 153.8,466.2 154.9,465.3 156.1,464.3 157.3,463.3 158.4,462.3 159.6,461.1 160.8,459.9 161.9,458.7 163.1,457.3 164.3,455.9 165.4,454.4 166.6,452.8 167.8,451.2 168.9,449.4 170.1,447.6 171.3,445.7 172.4,443.7 173.6,441.6 174.8,439.4 175.9,437.2 177.1,434.8 178.3,432.4 179.4,429.9 180.6,427.3 181.8,424.6 182.9,421.8 184.1,419.0 185.3,416.0 186.4,413.0 187.6,409.9 188.8,406.8 189.9,403.6 191.1,400.3 192.3,397.0 193.4,393.6 194.6,390.1 195.8,386.7 196.9,383.1 198.1,379.6 199.3,376.0 200.4,372.4 201.6,368.9 202.8,365.3 203.9,361.7 205.1,358.1 206.3,354.6 207.4,351.0 208.6,347.5 209.8,344.1 210.9,340.7 212.1,337.4 213.3,334.1 214.4,331.0 215.6,327.9 216.8,324.9 218.0,322.0 219.1,319.2 220.3,316.5 221.5,314.0 222.6,311.6 223.8,309.3 225.0,307.2 226.1,305.2 227.3,303.3 228.5,301.6 229.6,300.1 230.8,298.7 232.0,297.5 233.1,296.4 234.3,295.5 235.5,294.7 236.6,294.1 237.8,293.7 239.0,293.4 240.1,293.5 241.3,293.9 242.5,294.5 243.6,295.2 244.8,296.2 246.0,297.2 247.1,298.4 248.3,299.8 249.5,301.2 250.6,302.7 251.8,304.4 253.0,306.1 254.1,307.9 255.3,309.8 256.5,311.7 257.6,313.7 258.8,315.8 260.0,317.9 261.1,320.1 262.3,322.3 263.5,324.6 264.6,326.8 265.8,329.1 267.0,331.5 268.1,333.8 269.3,336.2 270.5,338.6 271.6,341.0 272.8,343.4 274.0,345.8 275.1,348.2 276.3,350.6 277.5,353.0 278.6,355.3 279.8,357.7 281.0,360.1 282.1,362.4 283.3,364.8 284.5,367.1 285.7,369.4 286.8,371.6 288.0,373.9 289.2,376.1 290.3,378.3 291.5,380.4 292.7,382.6 293.8,384.7 295.0,386.7 296.2,388.8 297.3,390.8 298.5,392.8 299.7,394.7 300.8,396.6 302.0,398.5 303.2,400.3 304.3,402.1 305.5,403.9 306.7,405.6 307.8,407.3 309.0,408.9 310.2,410.5 311.3,412.1 312.5,413.6 313.7,415.1 314.8,416.6 316.0,418.0 317.2,419.4 318.3,420.8 319.5,422.1 320.7,423.4 321.8,424.6 323.0,425.8 324.2,427.0 325.3,428.2 326.5,429.3 327.7,430.4 328.8,431.4 330.0,432.4 331.2,433.4 332.3,434.4 333.5,435.3 334.7,436.2 335.8,437.1 337.0,437.9 338.2,438.7 339.3,439.5 340.5,440.3 341.7,441.0 342.8,441.7 344.0,442.4 345.2,443.1 346.3,443.7 347.5,444.3 348.7,444.9 349.8,445.5 351.0,446.0 352.2,446.6 353.4,447.1 354.5,447.6 355.7,448.0 356.9,448.5 358.0,448.9 359.2,449.4 360.4,449.8 361.5,450.1 362.7,450.5 363.9,450.9 365.0,451.2 366.2,451.5 367.4,451.9 368.5,452.2 369.7,452.4 370.9,452.7 372.0,453.0 373.2,453.2 374.4,453.5 375.5,453.7 376.7,453.9 377.9,454.2 379.0,454.4 380.2,454.6 381.4,454.7 382.5,454.9 383.7,455.1 384.9,455.2 386.0,455.4 387.2,455.5 388.4,455.7 389.5,455.8 390.7,456.0 391.9,456.1 393.0,456.2 394.2,456.3 395.4,456.4 396.5,456.5 397.7,456.6 398.9,456.7 400.0,456.8 401.2,456.9 402.4,456.9 403.5,457.0 404.7,457.1 405.9,457.1 407.0,457.2 408.2,457.3 409.4,457.3 410.5,457.4 411.7,457.4 412.9,457.5 414.0,457.5 415.2,457.6 416.4,457.6 417.5,457.6 418.7,457.7 419.9,457.7 421.1,457.8 422.2,457.8 423.4,457.8 424.6,457.8 425.7,457.9 426.9,457.9 428.1,457.9 429.2,457.9 430.4,458.0 431.6,458.0 432.7,458.0 433.9,458.0 435.1,458.0 436.2,458.1 437.4,458.1 438.6,458.1 439.7,458.1 440.9,458.1 442.1,458.1 443.2,458.1 444.4,458.1 445.6,458.1 446.7,458.2 447.9,458.2 449.1,458.2 450.2,458.2 451.4,458.2 452.6,458.2 453.7,458.2 454.9,458.2 456.1,458.2 457.2,458.2 458.4,458.2 459.6,458.2 460.7,458.2 461.9,458.2" fill="none" stroke="#1A6EC0" stroke-width="2.7" stroke-linejoin="round" stroke-linecap="round"/>
<polyline points="112.9,476.0 114.1,475.9 115.2,475.9 116.4,475.9 117.6,475.8 118.7,475.8 119.9,475.7 121.1,475.6 122.2,475.6 123.4,475.5 124.6,475.4 125.7,475.3 126.9,475.2 128.1,475.0 129.2,474.9 130.4,474.8 131.6,474.6 132.7,474.4 133.9,474.2 135.1,474.0 136.2,473.8 137.4,473.5 138.6,473.2 139.7,472.9 140.9,472.6 142.1,472.2 143.2,471.8 144.4,471.4 145.6,470.9 146.7,470.4 147.9,469.9 149.1,469.3 150.3,468.6 151.4,468.0 152.6,467.2 153.8,466.4 154.9,465.6 156.1,464.7 157.3,463.7 158.4,462.7 159.6,461.6 160.8,460.5 161.9,459.2 163.1,457.9 164.3,456.5 165.4,455.1 166.6,453.5 167.8,451.9 168.9,450.2 170.1,448.4 171.3,446.5 172.4,444.5 173.6,442.4 174.8,440.2 175.9,437.9 177.1,435.5 178.3,433.1 179.4,430.5 180.6,427.8 181.8,425.1 182.9,422.2 184.1,419.3 185.3,416.2 186.4,413.1 187.6,409.9 188.8,406.6 189.9,403.2 191.1,399.7 192.3,396.1 193.4,392.5 194.6,388.9 195.8,385.1 196.9,381.3 198.1,377.5 199.3,373.6 200.4,369.7 201.6,365.8 202.8,361.8 203.9,357.8 205.1,353.9 206.3,349.9 207.4,345.9 208.6,342.0 209.8,338.1 210.9,334.2 212.1,330.4 213.3,326.6 214.4,322.9 215.6,319.3 216.8,315.8 218.0,312.3 219.1,309.0 220.3,305.7 221.5,302.6 222.6,299.6 223.8,296.8 225.0,294.1 226.1,291.5 227.3,289.1 228.5,286.8 229.6,284.7 230.8,282.8 232.0,281.0 233.1,279.5 234.3,278.0 235.5,276.8 236.6,275.8 237.8,274.9 239.0,274.2 240.1,273.7 241.3,273.3 242.5,273.3 243.6,273.6 244.8,274.2 246.0,275.0 247.1,276.0 248.3,277.1 249.5,278.4 250.6,279.8 251.8,281.4 253.0,283.1 254.1,284.8 255.3,286.7 256.5,288.7 257.6,290.8 258.8,292.9 260.0,295.1 261.1,297.4 262.3,299.7 263.5,302.1 264.6,304.5 265.8,307.0 267.0,309.5 268.1,312.1 269.3,314.6 270.5,317.2 271.6,319.8 272.8,322.5 274.0,325.1 275.1,327.8 276.3,330.4 277.5,333.1 278.6,335.7 279.8,338.4 281.0,341.0 282.1,343.7 283.3,346.3 284.5,348.9 285.7,351.5 286.8,354.0 288.0,356.6 289.2,359.1 290.3,361.6 291.5,364.1 292.7,366.5 293.8,368.9 295.0,371.3 296.2,373.6 297.3,375.9 298.5,378.2 299.7,380.4 300.8,382.6 302.0,384.8 303.2,386.9 304.3,389.0 305.5,391.0 306.7,393.0 307.8,395.0 309.0,396.9 310.2,398.7 311.3,400.6 312.5,402.4 313.7,404.1 314.8,405.8 316.0,407.5 317.2,409.1 318.3,410.7 319.5,412.3 320.7,413.8 321.8,415.3 323.0,416.7 324.2,418.1 325.3,419.5 326.5,420.8 327.7,422.1 328.8,423.3 330.0,424.5 331.2,425.7 332.3,426.8 333.5,427.9 334.7,429.0 335.8,430.0 337.0,431.0 338.2,432.0 339.3,432.9 340.5,433.9 341.7,434.7 342.8,435.6 344.0,436.4 345.2,437.2 346.3,438.0 347.5,438.7 348.7,439.4 349.8,440.1 351.0,440.8 352.2,441.4 353.4,442.0 354.5,442.6 355.7,443.2 356.9,443.7 358.0,444.3 359.2,444.8 360.4,445.3 361.5,445.7 362.7,446.2 363.9,446.6 365.0,447.0 366.2,447.4 367.4,447.8 368.5,448.2 369.7,448.5 370.9,448.9 372.0,449.2 373.2,449.5 374.4,449.8 375.5,450.1 376.7,450.4 377.9,450.6 379.0,450.9 380.2,451.1 381.4,451.3 382.5,451.6 383.7,451.8 384.9,452.0 386.0,452.2 387.2,452.3 388.4,452.5 389.5,452.7 390.7,452.8 391.9,453.0 393.0,453.1 394.2,453.3 395.4,453.4 396.5,453.5 397.7,453.6 398.9,453.7 400.0,453.9 401.2,454.0 402.4,454.1 403.5,454.1 404.7,454.2 405.9,454.3 407.0,454.4 408.2,454.5 409.4,454.5 410.5,454.6 411.7,454.7 412.9,454.7 414.0,454.8 415.2,454.8 416.4,454.9 417.5,454.9 418.7,455.0 419.9,455.0 421.1,455.1 422.2,455.1 423.4,455.2 424.6,455.2 425.7,455.2 426.9,455.3 428.1,455.3 429.2,455.3 430.4,455.3 431.6,455.4 432.7,455.4 433.9,455.4 435.1,455.4 436.2,455.4 437.4,455.5 438.6,455.5 439.7,455.5 440.9,455.5 442.1,455.5 443.2,455.5 444.4,455.6 445.6,455.6 446.7,455.6 447.9,455.6 449.1,455.6 450.2,455.6 451.4,455.6 452.6,455.6 453.7,455.6 454.9,455.7 456.1,455.7 457.2,455.7 458.4,455.7 459.6,455.7 460.7,455.7 461.9,455.7" fill="none" stroke="#19B0F0" stroke-width="2.7" stroke-linejoin="round" stroke-linecap="round"/>
<polyline points="112.9,475.4 114.1,475.4 115.2,475.4 116.4,475.3 117.6,475.3 118.7,475.2 119.9,475.2 121.1,475.1 122.2,475.1 123.4,475.0 124.6,474.9 125.7,474.8 126.9,474.8 128.1,474.6 129.2,474.5 130.4,474.4 131.6,474.3 132.7,474.1 133.9,473.9 135.1,473.7 136.2,473.5 137.4,473.3 138.6,473.0 139.7,472.8 140.9,472.5 142.1,472.1 143.2,471.8 144.4,471.4 145.6,471.0 146.7,470.5 147.9,470.0 149.1,469.5 150.3,468.9 151.4,468.3 152.6,467.6 153.8,466.8 154.9,466.1 156.1,465.2 157.3,464.3 158.4,463.3 159.6,462.3 160.8,461.2 161.9,460.0 163.1,458.8 164.3,457.5 165.4,456.1 166.6,454.6 167.8,453.0 168.9,451.3 170.1,449.5 171.3,447.7 172.4,445.7 173.6,443.7 174.8,441.5 175.9,439.2 177.1,436.9 178.3,434.4 179.4,431.8 180.6,429.1 181.8,426.4 182.9,423.5 184.1,420.4 185.3,417.3 186.4,414.1 187.6,410.8 188.8,407.4 189.9,403.9 191.1,400.2 192.3,396.5 193.4,392.7 194.6,388.9 195.8,384.9 196.9,380.9 198.1,376.8 199.3,372.6 200.4,368.4 201.6,364.1 202.8,359.8 203.9,355.5 205.1,351.1 206.3,346.7 207.4,342.3 208.6,337.9 209.8,333.6 210.9,329.2 212.1,324.9 213.3,320.6 214.4,316.3 215.6,312.1 216.8,308.0 218.0,304.0 219.1,300.0 220.3,296.2 221.5,292.4 222.6,288.8 223.8,285.3 225.0,281.9 226.1,278.7 227.3,275.6 228.5,272.7 229.6,270.0 230.8,267.4 232.0,265.0 233.1,262.8 234.3,260.7 235.5,258.9 236.6,257.3 237.8,255.8 239.0,254.6 240.1,253.5 241.3,252.7 242.5,252.0 243.6,251.5 244.8,251.2 246.0,251.5 247.1,252.0 248.3,252.8 249.5,253.8 250.6,254.9 251.8,256.3 253.0,257.8 254.1,259.4 255.3,261.2 256.5,263.1 257.6,265.1 258.8,267.2 260.0,269.4 261.1,271.7 262.3,274.1 263.5,276.6 264.6,279.1 265.8,281.7 267.0,284.3 268.1,287.0 269.3,289.8 270.5,292.5 271.6,295.3 272.8,298.2 274.0,301.1 275.1,303.9 276.3,306.8 277.5,309.7 278.6,312.7 279.8,315.6 281.0,318.5 282.1,321.4 283.3,324.3 284.5,327.2 285.7,330.1 286.8,333.0 288.0,335.8 289.2,338.7 290.3,341.5 291.5,344.2 292.7,347.0 293.8,349.7 295.0,352.4 296.2,355.1 297.3,357.7 298.5,360.3 299.7,362.8 300.8,365.4 302.0,367.8 303.2,370.3 304.3,372.7 305.5,375.0 306.7,377.3 307.8,379.6 309.0,381.8 310.2,384.0 311.3,386.2 312.5,388.3 313.7,390.3 314.8,392.3 316.0,394.3 317.2,396.2 318.3,398.0 319.5,399.9 320.7,401.7 321.8,403.4 323.0,405.1 324.2,406.7 325.3,408.3 326.5,409.9 327.7,411.4 328.8,412.9 330.0,414.3 331.2,415.7 332.3,417.1 333.5,418.4 334.7,419.7 335.8,420.9 337.0,422.1 338.2,423.3 339.3,424.4 340.5,425.5 341.7,426.6 342.8,427.6 344.0,428.6 345.2,429.6 346.3,430.5 347.5,431.4 348.7,432.3 349.8,433.1 351.0,433.9 352.2,434.7 353.4,435.5 354.5,436.2 355.7,436.9 356.9,437.5 358.0,438.2 359.2,438.8 360.4,439.4 361.5,440.0 362.7,440.6 363.9,441.1 365.0,441.6 366.2,442.1 367.4,442.6 368.5,443.0 369.7,443.5 370.9,443.9 372.0,444.3 373.2,444.7 374.4,445.1 375.5,445.4 376.7,445.8 377.9,446.1 379.0,446.4 380.2,446.7 381.4,447.0 382.5,447.3 383.7,447.5 384.9,447.8 386.0,448.0 387.2,448.2 388.4,448.5 389.5,448.7 390.7,448.9 391.9,449.0 393.0,449.2 394.2,449.4 395.4,449.6 396.5,449.7 397.7,449.9 398.9,450.0 400.0,450.2 401.2,450.3 402.4,450.4 403.5,450.5 404.7,450.6 405.9,450.7 407.0,450.8 408.2,450.9 409.4,451.0 410.5,451.1 411.7,451.2 412.9,451.3 414.0,451.4 415.2,451.4 416.4,451.5 417.5,451.6 418.7,451.6 419.9,451.7 421.1,451.7 422.2,451.8 423.4,451.8 424.6,451.9 425.7,451.9 426.9,452.0 428.1,452.0 429.2,452.0 430.4,452.1 431.6,452.1 432.7,452.1 433.9,452.2 435.1,452.2 436.2,452.2 437.4,452.2 438.6,452.3 439.7,452.3 440.9,452.3 442.1,452.3 443.2,452.4 444.4,452.4 445.6,452.4 446.7,452.4 447.9,452.4 449.1,452.4 450.2,452.4 451.4,452.5 452.6,452.5 453.7,452.5 454.9,452.5 456.1,452.5 457.2,452.5 458.4,452.5 459.6,452.5 460.7,452.5 461.9,452.5" fill="none" stroke="#3F7A1E" stroke-width="2.7" stroke-linejoin="round" stroke-linecap="round"/>
<polyline points="112.9,474.9 114.1,474.9 115.2,474.8 116.4,474.8 117.6,474.8 118.7,474.7 119.9,474.7 121.1,474.7 122.2,474.6 123.4,474.5 124.6,474.5 125.7,474.4 126.9,474.3 128.1,474.2 129.2,474.1 130.4,474.0 131.6,473.9 132.7,473.8 133.9,473.6 135.1,473.4 136.2,473.3 137.4,473.1 138.6,472.8 139.7,472.6 140.9,472.3 142.1,472.1 143.2,471.7 144.4,471.4 145.6,471.0 146.7,470.6 147.9,470.2 149.1,469.7 150.3,469.1 151.4,468.6 152.6,468.0 153.8,467.3 154.9,466.6 156.1,465.8 157.3,465.0 158.4,464.1 159.6,463.1 160.8,462.1 161.9,461.0 163.1,459.8 164.3,458.6 165.4,457.3 166.6,455.9 167.8,454.4 168.9,452.8 170.1,451.1 171.3,449.3 172.4,447.4 173.6,445.4 174.8,443.4 175.9,441.2 177.1,438.9 178.3,436.4 179.4,433.9 180.6,431.3 181.8,428.5 182.9,425.6 184.1,422.6 185.3,419.5 186.4,416.3 187.6,413.0 188.8,409.5 189.9,405.9 191.1,402.2 192.3,398.5 193.4,394.6 194.6,390.6 195.8,386.5 196.9,382.3 198.1,378.0 199.3,373.6 200.4,369.2 201.6,364.7 202.8,360.1 203.9,355.5 205.1,350.8 206.3,346.1 207.4,341.4 208.6,336.6 209.8,331.8 210.9,327.0 212.1,322.3 213.3,317.5 214.4,312.8 215.6,308.1 216.8,303.4 218.0,298.8 219.1,294.3 220.3,289.9 221.5,285.5 222.6,281.3 223.8,277.2 225.0,273.2 226.1,269.3 227.3,265.6 228.5,262.0 229.6,258.6 230.8,255.4 232.0,252.3 233.1,249.4 234.3,246.7 235.5,244.3 236.6,242.0 237.8,239.9 239.0,238.0 240.1,236.4 241.3,234.9 242.5,233.7 243.6,232.7 244.8,231.9 246.0,231.3 247.1,230.8 248.3,230.9 249.5,231.4 250.6,232.1 251.8,233.1 253.0,234.3 254.1,235.7 255.3,237.3 256.5,239.0 257.6,240.9 258.8,242.9 260.0,245.1 261.1,247.3 262.3,249.7 263.5,252.2 264.6,254.8 265.8,257.4 267.0,260.1 268.1,262.9 269.3,265.8 270.5,268.7 271.6,271.7 272.8,274.7 274.0,277.8 275.1,280.8 276.3,284.0 277.5,287.1 278.6,290.3 279.8,293.4 281.0,296.6 282.1,299.8 283.3,303.0 284.5,306.2 285.7,309.3 286.8,312.5 288.0,315.7 289.2,318.8 290.3,321.9 291.5,325.0 292.7,328.1 293.8,331.1 295.0,334.2 296.2,337.2 297.3,340.1 298.5,343.0 299.7,345.9 300.8,348.8 302.0,351.6 303.2,354.3 304.3,357.0 305.5,359.7 306.7,362.4 307.8,364.9 309.0,367.5 310.2,370.0 311.3,372.4 312.5,374.8 313.7,377.2 314.8,379.5 316.0,381.7 317.2,383.9 318.3,386.1 319.5,388.2 320.7,390.3 321.8,392.3 323.0,394.3 324.2,396.2 325.3,398.0 326.5,399.9 327.7,401.6 328.8,403.4 330.0,405.0 331.2,406.7 332.3,408.3 333.5,409.8 334.7,411.3 335.8,412.8 337.0,414.2 338.2,415.5 339.3,416.9 340.5,418.2 341.7,419.4 342.8,420.6 344.0,421.8 345.2,422.9 346.3,424.0 347.5,425.1 348.7,426.1 349.8,427.1 351.0,428.1 352.2,429.0 353.4,429.9 354.5,430.8 355.7,431.6 356.9,432.4 358.0,433.2 359.2,433.9 360.4,434.6 361.5,435.3 362.7,436.0 363.9,436.6 365.0,437.3 366.2,437.9 367.4,438.4 368.5,439.0 369.7,439.5 370.9,440.0 372.0,440.5 373.2,441.0 374.4,441.4 375.5,441.8 376.7,442.2 377.9,442.6 379.0,443.0 380.2,443.4 381.4,443.7 382.5,444.1 383.7,444.4 384.9,444.7 386.0,445.0 387.2,445.3 388.4,445.5 389.5,445.8 390.7,446.0 391.9,446.3 393.0,446.5 394.2,446.7 395.4,446.9 396.5,447.1 397.7,447.3 398.9,447.4 400.0,447.6 401.2,447.8 402.4,447.9 403.5,448.1 404.7,448.2 405.9,448.3 407.0,448.5 408.2,448.6 409.4,448.7 410.5,448.8 411.7,448.9 412.9,449.0 414.0,449.1 415.2,449.2 416.4,449.3 417.5,449.3 418.7,449.4 419.9,449.5 421.1,449.6 422.2,449.6 423.4,449.7 424.6,449.7 425.7,449.8 426.9,449.8 428.1,449.9 429.2,449.9 430.4,450.0 431.6,450.0 432.7,450.1 433.9,450.1 435.1,450.1 436.2,450.2 437.4,450.2 438.6,450.2 439.7,450.3 440.9,450.3 442.1,450.3 443.2,450.3 444.4,450.3 445.6,450.4 446.7,450.4 447.9,450.4 449.1,450.4 450.2,450.4 451.4,450.5 452.6,450.5 453.7,450.5 454.9,450.5 456.1,450.5 457.2,450.5 458.4,450.5 459.6,450.5 460.7,450.6 461.9,450.6" fill="none" stroke="#6AA121" stroke-width="2.7" stroke-linejoin="round" stroke-linecap="round"/>
<polyline points="112.9,474.2 114.1,474.2 115.2,474.1 116.4,474.1 117.6,474.0 118.7,474.0 119.9,473.9 121.1,473.8 122.2,473.8 123.4,473.7 124.6,473.6 125.7,473.5 126.9,473.4 128.1,473.2 129.2,473.1 130.4,472.9 131.6,472.7 132.7,472.5 133.9,472.3 135.1,472.1 136.2,471.8 137.4,471.5 138.6,471.2 139.7,470.9 140.9,470.5 142.1,470.1 143.2,469.7 144.4,469.2 145.6,468.6 146.7,468.1 147.9,467.5 149.1,466.8 150.3,466.1 151.4,465.3 152.6,464.5 153.8,463.6 154.9,462.6 156.1,461.6 157.3,460.5 158.4,459.3 159.6,458.0 160.8,456.7 161.9,455.2 163.1,453.7 164.3,452.1 165.4,450.4 166.6,448.5 167.8,446.6 168.9,444.6 170.1,442.4 171.3,440.2 172.4,437.8 173.6,435.3 174.8,432.7 175.9,429.9 177.1,427.1 178.3,424.1 179.4,421.0 180.6,417.7 181.8,414.4 182.9,410.9 184.1,407.3 185.3,403.5 186.4,399.7 187.6,395.7 188.8,391.6 189.9,387.4 191.1,383.0 192.3,378.6 193.4,374.1 194.6,369.4 195.8,364.7 196.9,359.9 198.1,355.0 199.3,350.1 200.4,345.1 201.6,340.0 202.8,334.9 203.9,329.8 205.1,324.6 206.3,319.4 207.4,314.3 208.6,309.1 209.8,303.9 210.9,298.8 212.1,293.7 213.3,288.7 214.4,283.7 215.6,278.9 216.8,274.1 218.0,269.4 219.1,264.8 220.3,260.3 221.5,256.0 222.6,251.8 223.8,247.8 225.0,243.9 226.1,240.2 227.3,236.7 228.5,233.4 229.6,230.3 230.8,227.4 232.0,224.7 233.1,222.2 234.3,220.0 235.5,218.0 236.6,216.2 237.8,214.6 239.0,213.3 240.1,212.2 241.3,211.3 242.5,210.6 243.6,210.2 244.8,210.3 246.0,210.7 247.1,211.5 248.3,212.6 249.5,213.9 250.6,215.4 251.8,217.1 253.0,219.0 254.1,221.0 255.3,223.2 256.5,225.5 257.6,227.9 258.8,230.5 260.0,233.1 261.1,235.9 262.3,238.8 263.5,241.7 264.6,244.7 265.8,247.8 267.0,250.9 268.1,254.1 269.3,257.4 270.5,260.7 271.6,264.0 272.8,267.3 274.0,270.7 275.1,274.1 276.3,277.5 277.5,281.0 278.6,284.4 279.8,287.8 281.0,291.3 282.1,294.7 283.3,298.1 284.5,301.5 285.7,304.9 286.8,308.3 288.0,311.6 289.2,314.9 290.3,318.2 291.5,321.5 292.7,324.7 293.8,327.9 295.0,331.1 296.2,334.2 297.3,337.3 298.5,340.3 299.7,343.3 300.8,346.2 302.0,349.1 303.2,352.0 304.3,354.8 305.5,357.5 306.7,360.2 307.8,362.9 309.0,365.5 310.2,368.0 311.3,370.5 312.5,373.0 313.7,375.4 314.8,377.7 316.0,380.0 317.2,382.2 318.3,384.4 319.5,386.6 320.7,388.6 321.8,390.7 323.0,392.6 324.2,394.6 325.3,396.5 326.5,398.3 327.7,400.1 328.8,401.8 330.0,403.5 331.2,405.1 332.3,406.7 333.5,408.2 334.7,409.7 335.8,411.2 337.0,412.6 338.2,414.0 339.3,415.3 340.5,416.6 341.7,417.8 342.8,419.0 344.0,420.2 345.2,421.3 346.3,422.4 347.5,423.4 348.7,424.4 349.8,425.4 351.0,426.4 352.2,427.3 353.4,428.1 354.5,429.0 355.7,429.8 356.9,430.6 358.0,431.4 359.2,432.1 360.4,432.8 361.5,433.5 362.7,434.1 363.9,434.8 365.0,435.4 366.2,435.9 367.4,436.5 368.5,437.0 369.7,437.5 370.9,438.0 372.0,438.5 373.2,439.0 374.4,439.4 375.5,439.8 376.7,440.2 377.9,440.6 379.0,441.0 380.2,441.3 381.4,441.7 382.5,442.0 383.7,442.3 384.9,442.6 386.0,442.9 387.2,443.1 388.4,443.4 389.5,443.6 390.7,443.9 391.9,444.1 393.0,444.3 394.2,444.5 395.4,444.7 396.5,444.9 397.7,445.1 398.9,445.2 400.0,445.4 401.2,445.6 402.4,445.7 403.5,445.8 404.7,446.0 405.9,446.1 407.0,446.2 408.2,446.3 409.4,446.4 410.5,446.5 411.7,446.6 412.9,446.7 414.0,446.8 415.2,446.9 416.4,447.0 417.5,447.1 418.7,447.1 419.9,447.2 421.1,447.3 422.2,447.3 423.4,447.4 424.6,447.4 425.7,447.5 426.9,447.5 428.1,447.6 429.2,447.6 430.4,447.7 431.6,447.7 432.7,447.8 433.9,447.8 435.1,447.8 436.2,447.9 437.4,447.9 438.6,447.9 439.7,447.9 440.9,448.0 442.1,448.0 443.2,448.0 444.4,448.0 445.6,448.0 446.7,448.1 447.9,448.1 449.1,448.1 450.2,448.1 451.4,448.1 452.6,448.1 453.7,448.2 454.9,448.2 456.1,448.2 457.2,448.2 458.4,448.2 459.6,448.2 460.7,448.2 461.9,448.2" fill="none" stroke="#00B050" stroke-width="2.7" stroke-linejoin="round" stroke-linecap="round"/>
<polyline points="112.9,473.7 114.1,473.7 115.2,473.6 116.4,473.6 117.6,473.6 118.7,473.5 119.9,473.5 121.1,473.4 122.2,473.3 123.4,473.3 124.6,473.2 125.7,473.1 126.9,473.0 128.1,472.9 129.2,472.8 130.4,472.7 131.6,472.5 132.7,472.3 133.9,472.2 135.1,472.0 136.2,471.8 137.4,471.5 138.6,471.3 139.7,471.0 140.9,470.6 142.1,470.3 143.2,469.9 144.4,469.5 145.6,469.1 146.7,468.6 147.9,468.0 149.1,467.5 150.3,466.8 151.4,466.2 152.6,465.4 153.8,464.6 154.9,463.8 156.1,462.8 157.3,461.9 158.4,460.8 159.6,459.7 160.8,458.4 161.9,457.1 163.1,455.7 164.3,454.2 165.4,452.7 166.6,451.0 167.8,449.2 168.9,447.3 170.1,445.3 171.3,443.1 172.4,440.9 173.6,438.5 174.8,436.0 175.9,433.4 177.1,430.7 178.3,427.8 179.4,424.7 180.6,421.6 181.8,418.3 182.9,414.9 184.1,411.3 185.3,407.6 186.4,403.7 187.6,399.7 188.8,395.6 189.9,391.3 191.1,386.9 192.3,382.4 193.4,377.8 194.6,373.0 195.8,368.1 196.9,363.1 198.1,358.0 199.3,352.8 200.4,347.5 201.6,342.1 202.8,336.7 203.9,331.2 205.1,325.6 206.3,320.0 207.4,314.3 208.6,308.6 209.8,302.9 210.9,297.2 212.1,291.5 213.3,285.8 214.4,280.2 215.6,274.6 216.8,269.0 218.0,263.6 219.1,258.2 220.3,252.9 221.5,247.7 222.6,242.7 223.8,237.8 225.0,233.0 226.1,228.4 227.3,224.0 228.5,219.7 229.6,215.7 230.8,211.8 232.0,208.2 233.1,204.7 234.3,201.6 235.5,198.6 236.6,195.9 237.8,193.4 239.0,191.2 240.1,189.3 241.3,187.5 242.5,186.1 243.6,184.9 244.8,183.9 246.0,183.2 247.1,182.7 248.3,182.8 249.5,183.4 250.6,184.3 251.8,185.5 253.0,186.9 254.1,188.6 255.3,190.4 256.5,192.5 257.6,194.8 258.8,197.2 260.0,199.7 261.1,202.4 262.3,205.3 263.5,208.2 264.6,211.3 265.8,214.4 267.0,217.7 268.1,221.0 269.3,224.4 270.5,227.9 271.6,231.4 272.8,235.0 274.0,238.6 275.1,242.3 276.3,246.0 277.5,249.7 278.6,253.5 279.8,257.3 281.0,261.1 282.1,264.8 283.3,268.6 284.5,272.4 285.7,276.2 286.8,280.0 288.0,283.7 289.2,287.5 290.3,291.2 291.5,294.9 292.7,298.6 293.8,302.2 295.0,305.8 296.2,309.4 297.3,312.9 298.5,316.4 299.7,319.8 300.8,323.2 302.0,326.6 303.2,329.9 304.3,333.1 305.5,336.3 306.7,339.4 307.8,342.5 309.0,345.6 310.2,348.6 311.3,351.5 312.5,354.4 313.7,357.2 314.8,359.9 316.0,362.6 317.2,365.3 318.3,367.9 319.5,370.4 320.7,372.9 321.8,375.3 323.0,377.6 324.2,379.9 325.3,382.2 326.5,384.3 327.7,386.5 328.8,388.5 330.0,390.6 331.2,392.5 332.3,394.4 333.5,396.3 334.7,398.1 335.8,399.8 337.0,401.5 338.2,403.2 339.3,404.8 340.5,406.4 341.7,407.9 342.8,409.3 344.0,410.7 345.2,412.1 346.3,413.4 347.5,414.7 348.7,415.9 349.8,417.1 351.0,418.3 352.2,419.4 353.4,420.5 354.5,421.5 355.7,422.6 356.9,423.5 358.0,424.5 359.2,425.4 360.4,426.2 361.5,427.1 362.7,427.9 363.9,428.7 365.0,429.4 366.2,430.1 367.4,430.8 368.5,431.5 369.7,432.1 370.9,432.7 372.0,433.3 373.2,433.9 374.4,434.4 375.5,435.0 376.7,435.5 377.9,435.9 379.0,436.4 380.2,436.8 381.4,437.3 382.5,437.7 383.7,438.1 384.9,438.4 386.0,438.8 387.2,439.1 388.4,439.5 389.5,439.8 390.7,440.1 391.9,440.3 393.0,440.6 394.2,440.9 395.4,441.1 396.5,441.4 397.7,441.6 398.9,441.8 400.0,442.0 401.2,442.2 402.4,442.4 403.5,442.6 404.7,442.7 405.9,442.9 407.0,443.1 408.2,443.2 409.4,443.3 410.5,443.5 411.7,443.6 412.9,443.7 414.0,443.8 415.2,443.9 416.4,444.0 417.5,444.1 418.7,444.2 419.9,444.3 421.1,444.4 422.2,444.5 423.4,444.6 424.6,444.6 425.7,444.7 426.9,444.8 428.1,444.8 429.2,444.9 430.4,444.9 431.6,445.0 432.7,445.0 433.9,445.1 435.1,445.1 436.2,445.2 437.4,445.2 438.6,445.2 439.7,445.3 440.9,445.3 442.1,445.3 443.2,445.4 444.4,445.4 445.6,445.4 446.7,445.4 447.9,445.5 449.1,445.5 450.2,445.5 451.4,445.5 452.6,445.5 453.7,445.6 454.9,445.6 456.1,445.6 457.2,445.6 458.4,445.6 459.6,445.6 460.7,445.6 461.9,445.7" fill="none" stroke="#92D050" stroke-width="2.7" stroke-linejoin="round" stroke-linecap="round"/>
<polyline points="112.9,473.0 114.1,473.0 115.2,472.9 116.4,472.9 117.6,472.8 118.7,472.8 119.9,472.7 121.1,472.7 122.2,472.6 123.4,472.5 124.6,472.4 125.7,472.3 126.9,472.1 128.1,472.0 129.2,471.8 130.4,471.7 131.6,471.5 132.7,471.3 133.9,471.0 135.1,470.8 136.2,470.5 137.4,470.2 138.6,469.9 139.7,469.5 140.9,469.1 142.1,468.7 143.2,468.2 144.4,467.7 145.6,467.1 146.7,466.5 147.9,465.8 149.1,465.1 150.3,464.3 151.4,463.5 152.6,462.6 153.8,461.6 154.9,460.5 156.1,459.4 157.3,458.2 158.4,456.9 159.6,455.5 160.8,454.0 161.9,452.4 163.1,450.7 164.3,448.9 165.4,447.0 166.6,445.0 167.8,442.9 168.9,440.6 170.1,438.2 171.3,435.7 172.4,433.0 173.6,430.2 174.8,427.3 175.9,424.2 177.1,421.0 178.3,417.6 179.4,414.1 180.6,410.4 181.8,406.6 182.9,402.6 184.1,398.5 185.3,394.2 186.4,389.8 187.6,385.3 188.8,380.6 189.9,375.7 191.1,370.7 192.3,365.6 193.4,360.4 194.6,355.0 195.8,349.6 196.9,344.0 198.1,338.3 199.3,332.5 200.4,326.7 201.6,320.8 202.8,314.8 203.9,308.7 205.1,302.6 206.3,296.5 207.4,290.4 208.6,284.3 209.8,278.1 210.9,272.0 212.1,265.9 213.3,259.9 214.4,253.9 215.6,248.0 216.8,242.2 218.0,236.5 219.1,231.0 220.3,225.5 221.5,220.2 222.6,215.0 223.8,210.1 225.0,205.2 226.1,200.6 227.3,196.2 228.5,192.1 229.6,188.1 230.8,184.4 232.0,180.9 233.1,177.7 234.3,174.7 235.5,172.0 236.6,169.6 237.8,167.4 239.0,165.6 240.1,164.0 241.3,162.6 242.5,161.5 243.6,160.7 244.8,160.2 246.0,160.1 247.1,160.6 248.3,161.5 249.5,162.7 250.6,164.2 251.8,166.0 253.0,167.9 254.1,170.1 255.3,172.5 256.5,175.0 257.6,177.7 258.8,180.5 260.0,183.5 261.1,186.7 262.3,189.9 263.5,193.2 264.6,196.7 265.8,200.2 267.0,203.8 268.1,207.5 269.3,211.3 270.5,215.1 271.6,219.0 272.8,222.9 274.0,226.8 275.1,230.8 276.3,234.8 277.5,238.9 278.6,242.9 279.8,246.9 281.0,251.0 282.1,255.1 283.3,259.1 284.5,263.1 285.7,267.2 286.8,271.2 288.0,275.1 289.2,279.1 290.3,283.0 291.5,286.9 292.7,290.8 293.8,294.6 295.0,298.4 296.2,302.1 297.3,305.8 298.5,309.5 299.7,313.1 300.8,316.6 302.0,320.1 303.2,323.6 304.3,326.9 305.5,330.3 306.7,333.5 307.8,336.8 309.0,339.9 310.2,343.0 311.3,346.0 312.5,349.0 313.7,351.9 314.8,354.8 316.0,357.6 317.2,360.3 318.3,363.0 319.5,365.6 320.7,368.1 321.8,370.6 323.0,373.0 324.2,375.4 325.3,377.7 326.5,379.9 327.7,382.1 328.8,384.2 330.0,386.3 331.2,388.3 332.3,390.3 333.5,392.2 334.7,394.0 335.8,395.8 337.0,397.5 338.2,399.2 339.3,400.9 340.5,402.5 341.7,404.0 342.8,405.5 344.0,406.9 345.2,408.3 346.3,409.7 347.5,411.0 348.7,412.2 349.8,413.5 351.0,414.6 352.2,415.8 353.4,416.9 354.5,417.9 355.7,419.0 356.9,419.9 358.0,420.9 359.2,421.8 360.4,422.7 361.5,423.6 362.7,424.4 363.9,425.2 365.0,425.9 366.2,426.6 367.4,427.4 368.5,428.0 369.7,428.7 370.9,429.3 372.0,429.9 373.2,430.5 374.4,431.0 375.5,431.5 376.7,432.1 377.9,432.5 379.0,433.0 380.2,433.5 381.4,433.9 382.5,434.3 383.7,434.7 384.9,435.1 386.0,435.4 387.2,435.8 388.4,436.1 389.5,436.4 390.7,436.7 391.9,437.0 393.0,437.3 394.2,437.5 395.4,437.8 396.5,438.0 397.7,438.2 398.9,438.5 400.0,438.7 401.2,438.9 402.4,439.1 403.5,439.2 404.7,439.4 405.9,439.6 407.0,439.7 408.2,439.9 409.4,440.0 410.5,440.1 411.7,440.3 412.9,440.4 414.0,440.5 415.2,440.6 416.4,440.7 417.5,440.8 418.7,440.9 419.9,441.0 421.1,441.1 422.2,441.2 423.4,441.2 424.6,441.3 425.7,441.4 426.9,441.4 428.1,441.5 429.2,441.5 430.4,441.6 431.6,441.7 432.7,441.7 433.9,441.8 435.1,441.8 436.2,441.8 437.4,441.9 438.6,441.9 439.7,441.9 440.9,442.0 442.1,442.0 443.2,442.0 444.4,442.1 445.6,442.1 446.7,442.1 447.9,442.1 449.1,442.2 450.2,442.2 451.4,442.2 452.6,442.2 453.7,442.2 454.9,442.3 456.1,442.3 457.2,442.3 458.4,442.3 459.6,442.3 460.7,442.3 461.9,442.3" fill="none" stroke="#C8F532" stroke-width="2.7" stroke-linejoin="round" stroke-linecap="round"/>
<polyline points="112.9,472.3 114.1,472.3 115.2,472.3 116.4,472.2 117.6,472.2 118.7,472.2 119.9,472.1 121.1,472.1 122.2,472.0 123.4,471.9 124.6,471.9 125.7,471.8 126.9,471.7 128.1,471.6 129.2,471.5 130.4,471.3 131.6,471.2 132.7,471.0 133.9,470.8 135.1,470.7 136.2,470.4 137.4,470.2 138.6,469.9 139.7,469.7 140.9,469.3 142.1,469.0 143.2,468.6 144.4,468.2 145.6,467.7 146.7,467.3 147.9,466.7 149.1,466.1 150.3,465.5 151.4,464.8 152.6,464.1 153.8,463.2 154.9,462.4 156.1,461.4 157.3,460.4 158.4,459.3 159.6,458.1 160.8,456.9 161.9,455.5 163.1,454.1 164.3,452.5 165.4,450.8 166.6,449.1 167.8,447.2 168.9,445.2 170.1,443.1 171.3,440.8 172.4,438.5 173.6,436.0 174.8,433.3 175.9,430.5 177.1,427.6 178.3,424.5 179.4,421.2 180.6,417.8 181.8,414.3 182.9,410.6 184.1,406.7 185.3,402.7 186.4,398.5 187.6,394.1 188.8,389.6 189.9,385.0 191.1,380.1 192.3,375.1 193.4,370.0 194.6,364.7 195.8,359.3 196.9,353.7 198.1,348.0 199.3,342.2 200.4,336.3 201.6,330.2 202.8,324.1 203.9,317.8 205.1,311.5 206.3,305.1 207.4,298.6 208.6,292.1 209.8,285.5 210.9,278.9 212.1,272.4 213.3,265.8 214.4,259.2 215.6,252.6 216.8,246.1 218.0,239.7 219.1,233.3 220.3,227.0 221.5,220.8 222.6,214.8 223.8,208.9 225.0,203.1 226.1,197.5 227.3,192.0 228.5,186.8 229.6,181.7 230.8,176.9 232.0,172.3 233.1,167.9 234.3,163.8 235.5,159.9 236.6,156.3 237.8,153.0 239.0,150.0 240.1,147.2 241.3,144.8 242.5,142.6 243.6,140.7 244.8,139.2 246.0,137.9 247.1,136.9 248.3,136.1 249.5,135.8 250.6,136.0 251.8,136.6 253.0,137.6 254.1,138.8 255.3,140.3 256.5,142.0 257.6,143.9 258.8,146.1 260.0,148.3 261.1,150.8 262.3,153.4 263.5,156.2 264.6,159.1 265.8,162.1 267.0,165.2 268.1,168.5 269.3,171.8 270.5,175.2 271.6,178.7 272.8,182.3 274.0,186.0 275.1,189.7 276.3,193.5 277.5,197.3 278.6,201.2 279.8,205.1 281.0,209.0 282.1,213.0 283.3,216.9 284.5,220.9 285.7,225.0 286.8,229.0 288.0,233.0 289.2,237.0 290.3,241.0 291.5,245.1 292.7,249.0 293.8,253.0 295.0,257.0 296.2,260.9 297.3,264.8 298.5,268.7 299.7,272.6 300.8,276.4 302.0,280.2 303.2,283.9 304.3,287.6 305.5,291.3 306.7,294.9 307.8,298.5 309.0,302.1 310.2,305.5 311.3,309.0 312.5,312.4 313.7,315.7 314.8,319.0 316.0,322.2 317.2,325.4 318.3,328.5 319.5,331.6 320.7,334.6 321.8,337.5 323.0,340.4 324.2,343.3 325.3,346.1 326.5,348.8 327.7,351.5 328.8,354.1 330.0,356.7 331.2,359.2 332.3,361.6 333.5,364.0 334.7,366.3 335.8,368.6 337.0,370.9 338.2,373.0 339.3,375.2 340.5,377.2 341.7,379.2 342.8,381.2 344.0,383.1 345.2,385.0 346.3,386.8 347.5,388.6 348.7,390.3 349.8,391.9 351.0,393.6 352.2,395.1 353.4,396.7 354.5,398.2 355.7,399.6 356.9,401.0 358.0,402.4 359.2,403.7 360.4,405.0 361.5,406.2 362.7,407.4 363.9,408.5 365.0,409.7 366.2,410.8 367.4,411.8 368.5,412.8 369.7,413.8 370.9,414.8 372.0,415.7 373.2,416.6 374.4,417.4 375.5,418.3 376.7,419.1 377.9,419.8 379.0,420.6 380.2,421.3 381.4,422.0 382.5,422.7 383.7,423.3 384.9,423.9 386.0,424.5 387.2,425.1 388.4,425.7 389.5,426.2 390.7,426.7 391.9,427.2 393.0,427.7 394.2,428.1 395.4,428.6 396.5,429.0 397.7,429.4 398.9,429.8 400.0,430.2 401.2,430.5 402.4,430.9 403.5,431.2 404.7,431.5 405.9,431.8 407.0,432.1 408.2,432.4 409.4,432.7 410.5,432.9 411.7,433.2 412.9,433.4 414.0,433.6 415.2,433.8 416.4,434.1 417.5,434.3 418.7,434.4 419.9,434.6 421.1,434.8 422.2,435.0 423.4,435.1 424.6,435.3 425.7,435.4 426.9,435.6 428.1,435.7 429.2,435.8 430.4,435.9 431.6,436.0 432.7,436.2 433.9,436.3 435.1,436.4 436.2,436.4 437.4,436.5 438.6,436.6 439.7,436.7 440.9,436.8 442.1,436.9 443.2,436.9 444.4,437.0 445.6,437.1 446.7,437.1 447.9,437.2 449.1,437.2 450.2,437.3 451.4,437.3 452.6,437.4 453.7,437.4 454.9,437.5 456.1,437.5 457.2,437.5 458.4,437.6 459.6,437.6 460.7,437.7 461.9,437.7" fill="none" stroke="#FFC000" stroke-width="2.7" stroke-linejoin="round" stroke-linecap="round"/>
<polyline points="112.9,471.5 114.1,471.5 115.2,471.4 116.4,471.4 117.6,471.3 118.7,471.3 119.9,471.2 121.1,471.2 122.2,471.1 123.4,471.0 124.6,470.9 125.7,470.8 126.9,470.7 128.1,470.6 129.2,470.4 130.4,470.3 131.6,470.1 132.7,469.9 133.9,469.7 135.1,469.4 136.2,469.2 137.4,468.9 138.6,468.6 139.7,468.2 140.9,467.8 142.1,467.4 143.2,467.0 144.4,466.5 145.6,465.9 146.7,465.3 147.9,464.7 149.1,464.0 150.3,463.2 151.4,462.4 152.6,461.5 153.8,460.5 154.9,459.5 156.1,458.3 157.3,457.1 158.4,455.8 159.6,454.4 160.8,452.9 161.9,451.3 163.1,449.6 164.3,447.8 165.4,445.8 166.6,443.8 167.8,441.6 168.9,439.2 170.1,436.7 171.3,434.1 172.4,431.3 173.6,428.4 174.8,425.3 175.9,422.1 177.1,418.6 178.3,415.1 179.4,411.3 180.6,407.4 181.8,403.3 182.9,399.0 184.1,394.6 185.3,389.9 186.4,385.1 187.6,380.1 188.8,375.0 189.9,369.6 191.1,364.1 192.3,358.4 193.4,352.6 194.6,346.6 195.8,340.5 196.9,334.2 198.1,327.8 199.3,321.2 200.4,314.5 201.6,307.7 202.8,300.8 203.9,293.8 205.1,286.8 206.3,279.6 207.4,272.4 208.6,265.2 209.8,257.9 210.9,250.7 212.1,243.4 213.3,236.2 214.4,228.9 215.6,221.8 216.8,214.7 218.0,207.7 219.1,200.7 220.3,193.9 221.5,187.3 222.6,180.8 223.8,174.4 225.0,168.2 226.1,162.2 227.3,156.5 228.5,150.9 229.6,145.6 230.8,140.6 232.0,135.8 233.1,131.3 234.3,127.1 235.5,123.1 236.6,119.5 237.8,116.2 239.0,113.2 240.1,110.5 241.3,108.2 242.5,106.2 243.6,104.5 244.8,103.1 246.0,102.0 247.1,101.2 248.3,100.9 249.5,101.2 250.6,102.1 251.8,103.3 253.0,104.8 254.1,106.6 255.3,108.7 256.5,111.1 257.6,113.7 258.8,116.4 260.0,119.4 261.1,122.6 262.3,125.9 263.5,129.3 264.6,133.0 265.8,136.7 267.0,140.6 268.1,144.5 269.3,148.6 270.5,152.8 271.6,157.0 272.8,161.3 274.0,165.7 275.1,170.2 276.3,174.7 277.5,179.2 278.6,183.8 279.8,188.4 281.0,193.0 282.1,197.6 283.3,202.3 284.5,207.0 285.7,211.6 286.8,216.3 288.0,220.9 289.2,225.6 290.3,230.2 291.5,234.8 292.7,239.4 293.8,243.9 295.0,248.4 296.2,252.9 297.3,257.3 298.5,261.7 299.7,266.1 300.8,270.4 302.0,274.6 303.2,278.8 304.3,282.9 305.5,287.0 306.7,291.0 307.8,295.0 309.0,298.9 310.2,302.7 311.3,306.5 312.5,310.2 313.7,313.8 314.8,317.4 316.0,320.9 317.2,324.4 318.3,327.7 319.5,331.1 320.7,334.3 321.8,337.5 323.0,340.6 324.2,343.6 325.3,346.6 326.5,349.5 327.7,352.3 328.8,355.0 330.0,357.7 331.2,360.4 332.3,362.9 333.5,365.4 334.7,367.9 335.8,370.2 337.0,372.5 338.2,374.8 339.3,377.0 340.5,379.1 341.7,381.1 342.8,383.1 344.0,385.1 345.2,387.0 346.3,388.8 347.5,390.6 348.7,392.3 349.8,394.0 351.0,395.6 352.2,397.2 353.4,398.7 354.5,400.1 355.7,401.6 356.9,402.9 358.0,404.3 359.2,405.6 360.4,406.8 361.5,408.0 362.7,409.2 363.9,410.3 365.0,411.4 366.2,412.4 367.4,413.4 368.5,414.4 369.7,415.3 370.9,416.2 372.0,417.1 373.2,417.9 374.4,418.7 375.5,419.5 376.7,420.2 377.9,420.9 379.0,421.6 380.2,422.3 381.4,422.9 382.5,423.5 383.7,424.1 384.9,424.7 386.0,425.2 387.2,425.8 388.4,426.3 389.5,426.7 390.7,427.2 391.9,427.6 393.0,428.0 394.2,428.5 395.4,428.8 396.5,429.2 397.7,429.6 398.9,429.9 400.0,430.2 401.2,430.5 402.4,430.8 403.5,431.1 404.7,431.4 405.9,431.6 407.0,431.9 408.2,432.1 409.4,432.4 410.5,432.6 411.7,432.8 412.9,433.0 414.0,433.2 415.2,433.3 416.4,433.5 417.5,433.7 418.7,433.8 419.9,434.0 421.1,434.1 422.2,434.2 423.4,434.4 424.6,434.5 425.7,434.6 426.9,434.7 428.1,434.8 429.2,434.9 430.4,435.0 431.6,435.1 432.7,435.2 433.9,435.3 435.1,435.3 436.2,435.4 437.4,435.5 438.6,435.5 439.7,435.6 440.9,435.7 442.1,435.7 443.2,435.8 444.4,435.8 445.6,435.9 446.7,435.9 447.9,436.0 449.1,436.0 450.2,436.0 451.4,436.1 452.6,436.1 453.7,436.1 454.9,436.2 456.1,436.2 457.2,436.2 458.4,436.2 459.6,436.3 460.7,436.3 461.9,436.3" fill="none" stroke="#F4B183" stroke-width="2.7" stroke-linejoin="round" stroke-linecap="round"/>
<polyline points="112.9,470.6 114.1,470.6 115.2,470.5 116.4,470.5 117.6,470.4 118.7,470.3 119.9,470.2 121.1,470.2 122.2,470.1 123.4,469.9 124.6,469.8 125.7,469.7 126.9,469.5 128.1,469.3 129.2,469.1 130.4,468.9 131.6,468.7 132.7,468.4 133.9,468.2 135.1,467.8 136.2,467.5 137.4,467.1 138.6,466.7 139.7,466.2 140.9,465.7 142.1,465.2 143.2,464.6 144.4,463.9 145.6,463.2 146.7,462.5 147.9,461.6 149.1,460.7 150.3,459.7 151.4,458.7 152.6,457.6 153.8,456.3 154.9,455.0 156.1,453.6 157.3,452.1 158.4,450.4 159.6,448.7 160.8,446.8 161.9,444.9 163.1,442.7 164.3,440.5 165.4,438.1 166.6,435.6 167.8,432.9 168.9,430.0 170.1,427.0 171.3,423.8 172.4,420.5 173.6,417.0 174.8,413.3 175.9,409.4 177.1,405.4 178.3,401.1 179.4,396.7 180.6,392.1 181.8,387.3 182.9,382.3 184.1,377.1 185.3,371.8 186.4,366.2 187.6,360.5 188.8,354.5 189.9,348.4 191.1,342.2 192.3,335.7 193.4,329.1 194.6,322.4 195.8,315.5 196.9,308.5 198.1,301.3 199.3,294.1 200.4,286.7 201.6,279.2 202.8,271.7 203.9,264.0 205.1,256.4 206.3,248.7 207.4,240.9 208.6,233.2 209.8,225.4 210.9,217.7 212.1,210.1 213.3,202.5 214.4,194.9 215.6,187.5 216.8,180.1 218.0,172.9 219.1,165.9 220.3,159.0 221.5,152.3 222.6,145.8 223.8,139.5 225.0,133.4 226.1,127.6 227.3,122.0 228.5,116.8 229.6,111.8 230.8,107.0 232.0,102.7 233.1,98.6 234.3,94.8 235.5,91.4 236.6,88.3 237.8,85.6 239.0,83.2 240.1,81.2 241.3,79.5 242.5,78.1 243.6,77.1 244.8,76.4 246.0,76.2 247.1,76.8 248.3,77.9 249.5,79.4 250.6,81.3 251.8,83.5 253.0,85.9 254.1,88.6 255.3,91.6 256.5,94.8 257.6,98.2 258.8,101.8 260.0,105.5 261.1,109.5 262.3,113.5 263.5,117.7 264.6,122.1 265.8,126.5 267.0,131.1 268.1,135.7 269.3,140.5 270.5,145.3 271.6,150.2 272.8,155.1 274.0,160.1 275.1,165.1 276.3,170.2 277.5,175.3 278.6,180.4 279.8,185.5 281.0,190.6 282.1,195.7 283.3,200.8 284.5,205.9 285.7,211.0 286.8,216.1 288.0,221.1 289.2,226.1 290.3,231.1 291.5,236.0 292.7,240.9 293.8,245.8 295.0,250.6 296.2,255.3 297.3,260.0 298.5,264.6 299.7,269.2 300.8,273.7 302.0,278.1 303.2,282.5 304.3,286.8 305.5,291.0 306.7,295.2 307.8,299.2 309.0,303.3 310.2,307.2 311.3,311.1 312.5,314.8 313.7,318.5 314.8,322.2 316.0,325.7 317.2,329.2 318.3,332.6 319.5,335.9 320.7,339.2 321.8,342.3 323.0,345.4 324.2,348.4 325.3,351.4 326.5,354.2 327.7,357.0 328.8,359.8 330.0,362.4 331.2,365.0 332.3,367.5 333.5,369.9 334.7,372.3 335.8,374.6 337.0,376.8 338.2,379.0 339.3,381.1 340.5,383.1 341.7,385.1 342.8,387.0 344.0,388.8 345.2,390.6 346.3,392.3 347.5,394.0 348.7,395.7 349.8,397.2 351.0,398.7 352.2,400.2 353.4,401.6 354.5,403.0 355.7,404.3 356.9,405.6 358.0,406.8 359.2,408.0 360.4,409.1 361.5,410.2 362.7,411.3 363.9,412.3 365.0,413.3 366.2,414.2 367.4,415.1 368.5,416.0 369.7,416.8 370.9,417.7 372.0,418.4 373.2,419.2 374.4,419.9 375.5,420.6 376.7,421.2 377.9,421.9 379.0,422.5 380.2,423.0 381.4,423.6 382.5,424.1 383.7,424.6 384.9,425.1 386.0,425.6 387.2,426.0 388.4,426.5 389.5,426.9 390.7,427.3 391.9,427.6 393.0,428.0 394.2,428.3 395.4,428.7 396.5,429.0 397.7,429.3 398.9,429.6 400.0,429.8 401.2,430.1 402.4,430.3 403.5,430.6 404.7,430.8 405.9,431.0 407.0,431.2 408.2,431.4 409.4,431.6 410.5,431.8 411.7,431.9 412.9,432.1 414.0,432.2 415.2,432.4 416.4,432.5 417.5,432.6 418.7,432.8 419.9,432.9 421.1,433.0 422.2,433.1 423.4,433.2 424.6,433.3 425.7,433.4 426.9,433.5 428.1,433.5 429.2,433.6 430.4,433.7 431.6,433.8 432.7,433.8 433.9,433.9 435.1,434.0 436.2,434.0 437.4,434.1 438.6,434.1 439.7,434.2 440.9,434.2 442.1,434.2 443.2,434.3 444.4,434.3 445.6,434.4 446.7,434.4 447.9,434.4 449.1,434.4 450.2,434.5 451.4,434.5 452.6,434.5 453.7,434.5 454.9,434.6 456.1,434.6 457.2,434.6 458.4,434.6 459.6,434.6 460.7,434.7 461.9,434.7" fill="none" stroke="#FF3399" stroke-width="2.7" stroke-linejoin="round" stroke-linecap="round"/>
<polyline points="112.9,469.8 114.1,469.7 115.2,469.7 116.4,469.6 117.6,469.5 118.7,469.5 119.9,469.4 121.1,469.3 122.2,469.1 123.4,469.0 124.6,468.9 125.7,468.7 126.9,468.5 128.1,468.3 129.2,468.1 130.4,467.9 131.6,467.6 132.7,467.3 133.9,467.0 135.1,466.7 136.2,466.3 137.4,465.8 138.6,465.4 139.7,464.9 140.9,464.3 142.1,463.7 143.2,463.0 144.4,462.3 145.6,461.5 146.7,460.7 147.9,459.7 149.1,458.7 150.3,457.7 151.4,456.5 152.6,455.2 153.8,453.9 154.9,452.4 156.1,450.9 157.3,449.2 158.4,447.4 159.6,445.5 160.8,443.5 161.9,441.3 163.1,439.0 164.3,436.5 165.4,433.9 166.6,431.1 167.8,428.2 168.9,425.1 170.1,421.8 171.3,418.4 172.4,414.7 173.6,410.9 174.8,406.9 175.9,402.7 177.1,398.4 178.3,393.8 179.4,389.0 180.6,384.0 181.8,378.9 182.9,373.5 184.1,367.9 185.3,362.2 186.4,356.2 187.6,350.1 188.8,343.7 189.9,337.2 191.1,330.5 192.3,323.7 193.4,316.7 194.6,309.5 195.8,302.2 196.9,294.7 198.1,287.1 199.3,279.5 200.4,271.7 201.6,263.8 202.8,255.8 203.9,247.8 205.1,239.7 206.3,231.6 207.4,223.5 208.6,215.4 209.8,207.4 210.9,199.3 212.1,191.3 213.3,183.4 214.4,175.6 215.6,167.9 216.8,160.3 218.0,152.9 219.1,145.6 220.3,138.6 221.5,131.7 222.6,125.0 223.8,118.6 225.0,112.4 226.1,106.5 227.3,100.9 228.5,95.6 229.6,90.6 230.8,85.9 232.0,81.5 233.1,77.5 234.3,73.9 235.5,70.5 236.6,67.6 237.8,65.0 239.0,62.7 240.1,60.9 241.3,59.3 242.5,58.2 243.6,57.3 244.8,57.0 246.0,57.4 247.1,58.5 248.3,60.0 249.5,61.9 250.6,64.1 251.8,66.7 253.0,69.6 254.1,72.7 255.3,76.0 256.5,79.6 257.6,83.4 258.8,87.4 260.0,91.5 261.1,95.9 262.3,100.3 263.5,104.9 264.6,109.7 265.8,114.5 267.0,119.5 268.1,124.5 269.3,129.6 270.5,134.8 271.6,140.0 272.8,145.3 274.0,150.7 275.1,156.1 276.3,161.5 277.5,166.9 278.6,172.3 279.8,177.8 281.0,183.2 282.1,188.6 283.3,194.1 284.5,199.5 285.7,204.8 286.8,210.2 288.0,215.5 289.2,220.8 290.3,226.0 291.5,231.2 292.7,236.3 293.8,241.4 295.0,246.4 296.2,251.3 297.3,256.2 298.5,261.0 299.7,265.8 300.8,270.5 302.0,275.1 303.2,279.6 304.3,284.1 305.5,288.5 306.7,292.8 307.8,297.0 309.0,301.1 310.2,305.2 311.3,309.2 312.5,313.0 313.7,316.9 314.8,320.6 316.0,324.2 317.2,327.8 318.3,331.3 319.5,334.7 320.7,338.0 321.8,341.2 323.0,344.4 324.2,347.4 325.3,350.4 326.5,353.3 327.7,356.1 328.8,358.9 330.0,361.6 331.2,364.2 332.3,366.7 333.5,369.1 334.7,371.5 335.8,373.8 337.0,376.1 338.2,378.2 339.3,380.3 340.5,382.4 341.7,384.4 342.8,386.3 344.0,388.1 345.2,389.9 346.3,391.6 347.5,393.3 348.7,394.9 349.8,396.5 351.0,398.0 352.2,399.4 353.4,400.8 354.5,402.2 355.7,403.5 356.9,404.7 358.0,405.9 359.2,407.1 360.4,408.2 361.5,409.3 362.7,410.3 363.9,411.3 365.0,412.3 366.2,413.2 367.4,414.1 368.5,414.9 369.7,415.7 370.9,416.5 372.0,417.2 373.2,418.0 374.4,418.7 375.5,419.3 376.7,420.0 377.9,420.6 379.0,421.1 380.2,421.7 381.4,422.2 382.5,422.7 383.7,423.2 384.9,423.7 386.0,424.1 387.2,424.6 388.4,425.0 389.5,425.4 390.7,425.7 391.9,426.1 393.0,426.4 394.2,426.7 395.4,427.0 396.5,427.3 397.7,427.6 398.9,427.9 400.0,428.1 401.2,428.4 402.4,428.6 403.5,428.8 404.7,429.0 405.9,429.2 407.0,429.4 408.2,429.6 409.4,429.8 410.5,429.9 411.7,430.1 412.9,430.2 414.0,430.4 415.2,430.5 416.4,430.6 417.5,430.7 418.7,430.9 419.9,431.0 421.1,431.1 422.2,431.2 423.4,431.3 424.6,431.3 425.7,431.4 426.9,431.5 428.1,431.6 429.2,431.6 430.4,431.7 431.6,431.8 432.7,431.8 433.9,431.9 435.1,431.9 436.2,432.0 437.4,432.0 438.6,432.1 439.7,432.1 440.9,432.2 442.1,432.2 443.2,432.2 444.4,432.3 445.6,432.3 446.7,432.3 447.9,432.3 449.1,432.4 450.2,432.4 451.4,432.4 452.6,432.4 453.7,432.5 454.9,432.5 456.1,432.5 457.2,432.5 458.4,432.5 459.6,432.5 460.7,432.6 461.9,432.6" fill="none" stroke="#FF0000" stroke-width="2.7" stroke-linejoin="round" stroke-linecap="round"/>
<polyline points="112.9,468.9 114.1,468.8 115.2,468.7 116.4,468.6 117.6,468.5 118.7,468.4 119.9,468.3 121.1,468.1 122.2,468.0 123.4,467.8 124.6,467.6 125.7,467.4 126.9,467.2 128.1,466.9 129.2,466.6 130.4,466.3 131.6,466.0 132.7,465.6 133.9,465.2 135.1,464.7 136.2,464.2 137.4,463.6 138.6,463.0 139.7,462.4 140.9,461.6 142.1,460.9 143.2,460.0 144.4,459.1 145.6,458.1 146.7,457.0 147.9,455.8 149.1,454.6 150.3,453.2 151.4,451.8 152.6,450.2 153.8,448.5 154.9,446.7 156.1,444.8 157.3,442.7 158.4,440.5 159.6,438.1 160.8,435.6 161.9,433.0 163.1,430.2 164.3,427.2 165.4,424.0 166.6,420.7 167.8,417.1 168.9,413.4 170.1,409.5 171.3,405.4 172.4,401.1 173.6,396.6 174.8,391.9 175.9,386.9 177.1,381.8 178.3,376.5 179.4,370.9 180.6,365.1 181.8,359.1 182.9,352.9 184.1,346.6 185.3,340.0 186.4,333.2 187.6,326.2 188.8,319.0 189.9,311.6 191.1,304.1 192.3,296.4 193.4,288.6 194.6,280.6 195.8,272.5 196.9,264.2 198.1,255.9 199.3,247.4 200.4,238.9 201.6,230.4 202.8,221.7 203.9,213.1 205.1,204.4 206.3,195.8 207.4,187.2 208.6,178.6 209.8,170.1 210.9,161.6 212.1,153.3 213.3,145.1 214.4,137.1 215.6,129.2 216.8,121.4 218.0,113.9 219.1,106.6 220.3,99.6 221.5,92.8 222.6,86.3 223.8,80.0 225.0,74.1 226.1,68.5 227.3,63.2 228.5,58.3 229.6,53.7 230.8,49.5 232.0,45.7 233.1,42.2 234.3,39.1 235.5,36.4 236.6,34.1 237.8,32.2 239.0,30.7 240.1,29.5 241.3,28.7 242.5,28.5 243.6,29.2 244.8,30.5 246.0,32.4 247.1,34.7 248.3,37.3 249.5,40.3 250.6,43.6 251.8,47.2 253.0,51.1 254.1,55.2 255.3,59.6 256.5,64.1 257.6,68.9 258.8,73.8 260.0,78.9 261.1,84.1 262.3,89.5 263.5,95.0 264.6,100.5 265.8,106.2 267.0,112.0 268.1,117.8 269.3,123.7 270.5,129.6 271.6,135.6 272.8,141.6 274.0,147.6 275.1,153.7 276.3,159.7 277.5,165.7 278.6,171.8 279.8,177.8 281.0,183.8 282.1,189.7 283.3,195.6 284.5,201.5 285.7,207.3 286.8,213.1 288.0,218.8 289.2,224.5 290.3,230.1 291.5,235.6 292.7,241.0 293.8,246.4 295.0,251.7 296.2,256.9 297.3,262.1 298.5,267.1 299.7,272.1 300.8,276.9 302.0,281.7 303.2,286.4 304.3,291.0 305.5,295.5 306.7,299.9 307.8,304.2 309.0,308.4 310.2,312.5 311.3,316.5 312.5,320.5 313.7,324.3 314.8,328.0 316.0,331.7 317.2,335.2 318.3,338.7 319.5,342.0 320.7,345.3 321.8,348.5 323.0,351.6 324.2,354.6 325.3,357.5 326.5,360.3 327.7,363.1 328.8,365.7 330.0,368.3 331.2,370.8 332.3,373.2 333.5,375.6 334.7,377.8 335.8,380.0 337.0,382.1 338.2,384.2 339.3,386.2 340.5,388.1 341.7,389.9 342.8,391.7 344.0,393.4 345.2,395.1 346.3,396.7 347.5,398.2 348.7,399.7 349.8,401.1 351.0,402.5 352.2,403.8 353.4,405.0 354.5,406.3 355.7,407.4 356.9,408.5 358.0,409.6 359.2,410.7 360.4,411.6 361.5,412.6 362.7,413.5 363.9,414.4 365.0,415.2 366.2,416.0 367.4,416.8 368.5,417.5 369.7,418.2 370.9,418.9 372.0,419.6 373.2,420.2 374.4,420.8 375.5,421.3 376.7,421.9 377.9,422.4 379.0,422.9 380.2,423.3 381.4,423.8 382.5,424.2 383.7,424.6 384.9,425.0 386.0,425.3 387.2,425.7 388.4,426.0 389.5,426.3 390.7,426.6 391.9,426.9 393.0,427.2 394.2,427.5 395.4,427.7 396.5,427.9 397.7,428.2 398.9,428.4 400.0,428.6 401.2,428.8 402.4,428.9 403.5,429.1 404.7,429.3 405.9,429.4 407.0,429.6 408.2,429.7 409.4,429.8 410.5,430.0 411.7,430.1 412.9,430.2 414.0,430.3 415.2,430.4 416.4,430.5 417.5,430.6 418.7,430.7 419.9,430.7 421.1,430.8 422.2,430.9 423.4,430.9 424.6,431.0 425.7,431.1 426.9,431.1 428.1,431.2 429.2,431.2 430.4,431.3 431.6,431.3 432.7,431.4 433.9,431.4 435.1,431.4 436.2,431.5 437.4,431.5 438.6,431.5 439.7,431.6 440.9,431.6 442.1,431.6 443.2,431.6 444.4,431.7 445.6,431.7 446.7,431.7 447.9,431.7 449.1,431.7 450.2,431.8 451.4,431.8 452.6,431.8 453.7,431.8 454.9,431.8 456.1,431.8 457.2,431.8 458.4,431.8 459.6,431.9 460.7,431.9 461.9,431.9" fill="none" stroke="#C00000" stroke-width="2.7" stroke-linejoin="round" stroke-linecap="round"/>
<line x1="112.9" y1="15.9" x2="112.9" y2="492.2" stroke="#000" stroke-width="2.8"/>
<line x1="111.6" y1="485" x2="460.8" y2="485" stroke="#000" stroke-width="2.8"/>
<line x1="104.9" y1="485" x2="112.9" y2="485" stroke="#000" stroke-width="2.4"/>
<text x="90.6" y="493.1" font-size="26" text-anchor="end">0</text>
<line x1="104.9" y1="407.04" x2="112.9" y2="407.04" stroke="#000" stroke-width="2.4"/>
<text x="90.6" y="415.14" font-size="26" text-anchor="end">4</text>
<line x1="104.9" y1="329.08" x2="112.9" y2="329.08" stroke="#000" stroke-width="2.4"/>
<text x="90.6" y="337.18" font-size="26" text-anchor="end">8</text>
<line x1="104.9" y1="251.12" x2="112.9" y2="251.12" stroke="#000" stroke-width="2.4"/>
<text x="90.6" y="259.22" font-size="26" text-anchor="end">12</text>
<line x1="104.9" y1="173.16" x2="112.9" y2="173.16" stroke="#000" stroke-width="2.4"/>
<text x="90.6" y="181.26" font-size="26" text-anchor="end">16</text>
<line x1="104.9" y1="95.2" x2="112.9" y2="95.2" stroke="#000" stroke-width="2.4"/>
<text x="90.6" y="103.3" font-size="26" text-anchor="end">20</text>
<line x1="104.9" y1="17.24" x2="112.9" y2="17.24" stroke="#000" stroke-width="2.4"/>
<text x="90.6" y="25.34" font-size="26" text-anchor="end">24</text>
<line x1="112.9" y1="485" x2="112.9" y2="492.2" stroke="#000" stroke-width="2.4"/>
<text x="113.2" y="522.6" font-size="26" text-anchor="middle">0.2</text>
<line x1="195.72" y1="485" x2="195.72" y2="492.2" stroke="#000" stroke-width="2.4"/>
<text x="196.02" y="522.6" font-size="26" text-anchor="middle">0.3</text>
<line x1="278.54" y1="485" x2="278.54" y2="492.2" stroke="#000" stroke-width="2.4"/>
<text x="278.84" y="522.6" font-size="26" text-anchor="middle">0.4</text>
<line x1="361.36" y1="485" x2="361.36" y2="492.2" stroke="#000" stroke-width="2.4"/>
<text x="361.66" y="522.6" font-size="26" text-anchor="middle">0.5</text>
<line x1="444.18" y1="485" x2="444.18" y2="492.2" stroke="#000" stroke-width="2.4"/>
<text x="444.48" y="522.6" font-size="26" text-anchor="middle">0.6</text>
<text x="209.6" y="558.7" font-size="29" textLength="203.3" lengthAdjust="spacingAndGlyphs">E/V vs.Ag/AgCl</text>
<text x="47.4" y="279.4" font-size="29" textLength="63" lengthAdjust="spacingAndGlyphs" transform="rotate(-90 47.4 279.4)">I/ μA</text>
<text x="137.4" y="69.6" font-size="39.5" textLength="28.2" lengthAdjust="spacingAndGlyphs">A</text>
<line x1="394.5" y1="16.8" x2="394.5" y2="340.4" stroke="#000" stroke-width="2.8"/>
<line x1="393.2" y1="339.2" x2="637.2" y2="339.2" stroke="#000" stroke-width="2.8"/>
<text x="371.4" y="347.8" font-size="25" text-anchor="end">0</text>
<line x1="386.1" y1="281.55" x2="394.5" y2="281.55" stroke="#000" stroke-width="2.4"/>
<text x="371.4" y="290.15" font-size="25" text-anchor="end">5</text>
<line x1="386.1" y1="223.9" x2="394.5" y2="223.9" stroke="#000" stroke-width="2.4"/>
<text x="371.4" y="232.5" font-size="25" text-anchor="end">10</text>
<line x1="386.1" y1="166.25" x2="394.5" y2="166.25" stroke="#000" stroke-width="2.4"/>
<text x="371.4" y="174.85" font-size="25" text-anchor="end">15</text>
<line x1="386.1" y1="108.6" x2="394.5" y2="108.6" stroke="#000" stroke-width="2.4"/>
<text x="371.4" y="117.2" font-size="25" text-anchor="end">20</text>
<line x1="386.1" y1="50.95" x2="394.5" y2="50.95" stroke="#000" stroke-width="2.4"/>
<text x="358.2" y="59.55" font-size="25" text-anchor="end">2</text>
<text x="375.6" y="59.55" font-size="25" text-anchor="end">5</text>
<text x="394.5" y="376.8" font-size="25" text-anchor="middle">0</text>
<line x1="455" y1="339.2" x2="455" y2="346.2" stroke="#000" stroke-width="2.4"/>
<text x="455" y="376.8" font-size="25" text-anchor="middle">50</text>
<line x1="515.5" y1="339.2" x2="515.5" y2="346.2" stroke="#000" stroke-width="2.4"/>
<text x="515.5" y="376.8" font-size="25" text-anchor="middle">100</text>
<line x1="576" y1="339.2" x2="576" y2="346.2" stroke="#000" stroke-width="2.4"/>
<text x="576" y="376.8" font-size="25" text-anchor="middle">150</text>
<line x1="636.5" y1="339.2" x2="636.5" y2="346.2" stroke="#000" stroke-width="2.4"/>
<text x="636.5" y="376.8" font-size="25" text-anchor="middle">200</text>
<path d="M394.3 324.4V348.4M392.5 324.4h3.6M392.5 348.4h3.6" stroke="#555" stroke-width="1.6" fill="none"/>
<path d="M400.4 310.6V334.6M398.6 310.6h3.6M398.6 334.6h3.6" stroke="#555" stroke-width="1.6" fill="none"/>
<path d="M412.2 298.9V322.9M410.4 298.9h3.6M410.4 322.9h3.6" stroke="#555" stroke-width="1.6" fill="none"/>
<path d="M424.5 286.6V310.6M422.7 286.6h3.6M422.7 310.6h3.6" stroke="#555" stroke-width="1.6" fill="none"/>
<path d="M436.0 271.4V295.4M434.2 271.4h3.6M434.2 295.4h3.6" stroke="#555" stroke-width="1.6" fill="none"/>
<path d="M448.1 260.6V284.6M446.3 260.6h3.6M446.3 284.6h3.6" stroke="#555" stroke-width="1.6" fill="none"/>
<path d="M460.7 246.0V270.0M458.9 246.0h3.6M458.9 270.0h3.6" stroke="#555" stroke-width="1.6" fill="none"/>
<path d="M473.2 232.5V256.5M471.4 232.5h3.6M471.4 256.5h3.6" stroke="#555" stroke-width="1.6" fill="none"/>
<path d="M485.5 223.2V247.2M483.7 223.2h3.6M483.7 247.2h3.6" stroke="#555" stroke-width="1.6" fill="none"/>
<path d="M497.7 211.5V235.5M495.9 211.5h3.6M495.9 235.5h3.6" stroke="#555" stroke-width="1.6" fill="none"/>
<path d="M509.4 198.4V222.4M507.6 198.4h3.6M507.6 222.4h3.6" stroke="#555" stroke-width="1.6" fill="none"/>
<path d="M515.3 186.7V210.7M513.5 186.7h3.6M513.5 210.7h3.6" stroke="#555" stroke-width="1.6" fill="none"/>
<path d="M524.9 175.0V199.0M523.1 175.0h3.6M523.1 199.0h3.6" stroke="#555" stroke-width="1.6" fill="none"/>
<path d="M533.1 158.4V182.4M531.3 158.4h3.6M531.3 182.4h3.6" stroke="#555" stroke-width="1.6" fill="none"/>
<path d="M541.0 144.4V168.4M539.2 144.4h3.6M539.2 168.4h3.6" stroke="#555" stroke-width="1.6" fill="none"/>
<path d="M548.2 133.3V157.3M546.4 133.3h3.6M546.4 157.3h3.6" stroke="#555" stroke-width="1.6" fill="none"/>
<path d="M563.7 113.7V137.7M561.9 113.7h3.6M561.9 137.7h3.6" stroke="#555" stroke-width="1.6" fill="none"/>
<path d="M581.8 100.0V124.0M580.0 100.0h3.6M580.0 124.0h3.6" stroke="#555" stroke-width="1.6" fill="none"/>
<path d="M606.0 83.6V107.6M604.2 83.6h3.6M604.2 107.6h3.6" stroke="#555" stroke-width="1.6" fill="none"/>
<path d="M611.6 64.9V88.9M609.8 64.9h3.6M609.8 88.9h3.6" stroke="#555" stroke-width="1.6" fill="none"/>
<circle cx="394.3" cy="336.4" r="6.7" fill="url(#sph)"/>
<circle cx="400.4" cy="322.6" r="6.7" fill="url(#sph)"/>
<circle cx="412.2" cy="310.9" r="6.7" fill="url(#sph)"/>
<circle cx="424.5" cy="298.6" r="6.7" fill="url(#sph)"/>
<circle cx="436.0" cy="283.4" r="6.7" fill="url(#sph)"/>
<circle cx="448.1" cy="272.6" r="6.7" fill="url(#sph)"/>
<circle cx="460.7" cy="258.0" r="6.7" fill="url(#sph)"/>
<circle cx="473.2" cy="244.5" r="6.7" fill="url(#sph)"/>
<circle cx="485.5" cy="235.2" r="6.7" fill="url(#sph)"/>
<circle cx="497.7" cy="223.5" r="6.7" fill="url(#sph)"/>
<circle cx="509.4" cy="210.4" r="6.7" fill="url(#sph)"/>
<circle cx="515.3" cy="198.7" r="6.7" fill="url(#sph)"/>
<circle cx="524.9" cy="187.0" r="6.7" fill="url(#sph)"/>
<circle cx="533.1" cy="170.4" r="6.7" fill="url(#sph)"/>
<circle cx="541.0" cy="156.4" r="6.7" fill="url(#sph)"/>
<circle cx="548.2" cy="145.3" r="6.7" fill="url(#sph)"/>
<circle cx="563.7" cy="125.7" r="6.7" fill="url(#sph)"/>
<circle cx="581.8" cy="112.0" r="6.7" fill="url(#sph)"/>
<circle cx="606.0" cy="95.6" r="6.7" fill="url(#sph)"/>
<circle cx="611.6" cy="76.9" r="6.7" fill="url(#sph)"/>
<line x1="394.5" y1="336.09" x2="614.72" y2="77.35" stroke="#1a1a1a" stroke-width="1.6" stroke-dasharray="4.5 3"/>
<text x="459.6" y="292.6" font-size="20.5" textLength="186.2" lengthAdjust="spacingAndGlyphs">y = 0.1233x + 0.2694</text>
<text x="501" y="315.6" font-size="20.5" textLength="105" lengthAdjust="spacingAndGlyphs">R<tspan font-size="19" dy="-1.5">²</tspan><tspan dy="1.5"> = 0.9945</tspan></text>
<text x="453.4" y="405.2" font-size="28.5" textLength="19.8" lengthAdjust="spacingAndGlyphs">C</text>
<text x="472.6" y="411.4" font-size="17.5" textLength="41.6" lengthAdjust="spacingAndGlyphs">PAR</text>
<text x="514.2" y="404.6" font-size="22.5" textLength="9.2" lengthAdjust="spacingAndGlyphs">/</text>
<text x="532.6" y="404.4" font-size="22.5" textLength="43" lengthAdjust="spacingAndGlyphs">μM</text>
<text x="335.6" y="267.5" font-size="30.5" textLength="177" lengthAdjust="spacingAndGlyphs" transform="rotate(-90 335.6 267.5)">Δ Current/ μA</text>
<polyline points="90.8,993.0 91.7,993.0 92.5,993.0 93.3,993.1 94.1,993.1 94.9,993.1 95.8,993.1 96.6,993.1 97.4,993.1 98.2,993.1 99.0,993.1 99.9,993.1 100.7,993.1 101.5,993.1 102.3,993.1 103.1,993.1 104.0,993.1 104.8,993.1 105.6,993.1 106.4,993.1 107.2,993.1 108.1,993.1 108.9,993.1 109.7,993.1 110.5,993.1 111.3,993.1 112.1,993.1 113.0,993.1 113.8,993.1 114.6,993.1 115.4,993.1 116.2,993.1 117.1,993.1 117.9,993.1 118.7,993.1 119.5,993.1 120.3,993.1 121.2,993.1 122.0,993.1 122.8,993.1 123.6,993.1 124.4,993.1 125.3,993.1 126.1,993.1 126.9,993.1 127.7,993.1 128.5,993.1 129.3,993.1 130.2,993.1 131.0,993.1 131.8,993.1 132.6,993.1 133.4,993.1 134.3,993.1 135.1,993.1 135.9,993.1 136.7,993.1 137.5,993.1 138.4,993.1 139.2,993.1 140.0,993.1 140.8,993.1 141.6,993.1 142.5,993.1 143.3,993.1 144.1,993.1 144.9,993.1 145.7,993.1 146.5,993.1 147.4,993.1 148.2,993.1 149.0,993.1 149.8,993.1 150.6,993.1 151.5,993.1 152.3,993.1 153.1,993.1 153.9,993.1 154.7,993.0 155.6,993.0 156.4,993.0 157.2,993.0 158.0,993.0 158.8,993.0 159.7,993.0 160.5,993.0 161.3,993.0 162.1,993.0 162.9,993.0 163.7,993.0 164.6,993.0 165.4,993.0 166.2,992.9 167.0,992.9 167.8,992.9 168.7,992.9 169.5,992.9 170.3,992.9 171.1,992.9 171.9,992.9 172.8,992.9 173.6,992.9 174.4,992.8 175.2,992.8 176.0,992.8 176.9,992.8 177.7,992.8 178.5,992.8 179.3,992.8 180.1,992.7 181.0,992.7 181.8,992.7 182.6,992.7 183.4,992.7 184.2,992.7 185.0,992.7 185.9,992.6 186.7,992.6 187.5,992.6 188.3,992.6 189.1,992.6 190.0,992.5 190.8,992.5 191.6,992.5 192.4,992.5 193.2,992.5 194.1,992.4 194.9,992.4 195.7,992.4 196.5,992.4 197.3,992.3 198.2,992.3 199.0,992.3 199.8,992.3 200.6,992.2 201.4,992.2 202.2,992.2 203.1,992.1 203.9,992.1 204.7,992.1 205.5,992.0 206.3,992.0 207.2,992.0 208.0,991.9 208.8,991.9 209.6,991.9 210.4,991.8 211.3,991.8 212.1,991.7 212.9,991.7 213.7,991.7 214.5,991.6 215.4,991.6 216.2,991.5 217.0,991.5 217.8,991.4 218.6,991.4 219.4,991.3 220.3,991.3 221.1,991.2 221.9,991.1 222.7,991.1 223.5,991.0 224.4,991.0 225.2,990.9 226.0,990.8 226.8,990.8 227.6,990.7 228.5,990.6 229.3,990.6 230.1,990.5 230.9,990.4 231.7,990.3 232.6,990.3 233.4,990.2 234.2,990.1 235.0,990.0 235.8,989.9 236.6,989.8 237.5,989.8 238.3,989.7 239.1,989.6 239.9,989.5 240.7,989.4 241.6,989.3 242.4,989.2 243.2,989.1 244.0,989.0 244.8,988.9 245.7,988.8 246.5,988.7 247.3,988.6 248.1,988.5 248.9,988.4 249.8,988.2 250.6,988.1 251.4,988.0 252.2,987.9 253.0,987.8 253.9,987.7 254.7,987.6 255.5,987.5 256.3,987.4 257.1,987.2 257.9,987.1 258.8,987.0 259.6,986.9 260.4,986.8 261.2,986.7 262.0,986.6 262.9,986.5 263.7,986.4 264.5,986.3 265.3,986.1 266.1,986.0 267.0,985.9 267.8,985.8 268.6,985.8 269.4,985.7 270.2,985.6 271.1,985.5 271.9,985.4 272.7,985.3 273.5,985.2 274.3,985.2 275.1,985.1 276.0,985.0 276.8,985.0 277.6,984.9 278.4,984.8 279.2,984.8 280.1,984.7 280.9,984.7 281.7,984.6 282.5,984.6 283.3,984.6 284.2,984.5 285.0,984.5 285.8,984.5 286.6,984.5 287.4,984.5 288.3,984.5 289.1,984.5 289.9,984.5 290.7,984.5 291.5,984.5 292.3,984.5 293.2,984.6 294.0,984.6 294.8,984.6 295.6,984.7 296.4,984.7 297.3,984.8 298.1,984.9 298.9,984.9 299.7,985.0 300.5,985.1 301.4,985.2 302.2,985.2 303.0,985.3 303.8,985.4 304.6,985.5 305.5,985.6 306.3,985.7 307.1,985.8 307.9,986.0 308.7,986.1 309.5,986.2 310.4,986.3 311.2,986.4 312.0,986.6 312.8,986.7 313.6,986.8 314.5,987.0 315.3,987.1 316.1,987.2 316.9,987.4 317.7,987.5 318.6,987.7 319.4,987.8 320.2,987.9 321.0,988.1 321.8,988.2 322.7,988.4 323.5,988.5 324.3,988.6 325.1,988.8 325.9,988.9 326.7,989.1 327.6,989.2 328.4,989.3 329.2,989.5 330.0,989.6 330.8,989.7 331.7,989.9 332.5,990.0 333.3,990.1 334.1,990.2 334.9,990.4 335.8,990.5 336.6,990.6 337.4,990.7 338.2,990.8 339.0,991.0 339.9,991.1 340.7,991.2 341.5,991.3 342.3,991.4 343.1,991.5 344.0,991.6 344.8,991.7 345.6,991.8 346.4,991.9 347.2,992.0 348.0,992.0 348.9,992.1 349.7,992.2 350.5,992.3 351.3,992.4 352.1,992.5 353.0,992.5 353.8,992.6 354.6,992.7 355.4,992.8 356.2,992.8 357.1,992.9 357.9,993.0 358.7,993.0 359.5,993.1 360.3,993.1 361.2,993.2 362.0,993.2 362.8,993.3 363.6,993.3 364.4,993.4 365.2,993.4 366.1,993.5 366.9,993.5 367.7,993.6 368.5,993.6 369.3,993.7 370.2,993.7 371.0,993.7 371.8,993.8 372.6,993.8 373.4,993.8 374.3,993.8 375.1,993.9 375.9,993.9 376.7,993.9 377.5,993.9 378.4,994.0 379.2,994.0 380.0,994.0 380.8,994.0 381.6,994.0 382.4,994.0 383.3,994.1 384.1,994.1 384.9,994.1 385.7,994.1 386.5,994.1 387.4,994.1 388.2,994.1 389.0,994.1 389.8,994.1 390.6,994.1 391.5,994.1 392.3,994.1 393.1,994.1 393.9,994.1 394.7,994.1 395.6,994.1 396.4,994.1 397.2,994.1 398.0,994.1 398.8,994.0 399.6,994.0 400.5,994.0 401.3,994.0 402.1,994.0 402.9,994.0 403.7,994.0 404.6,994.0 405.4,993.9 406.2,993.9 407.0,993.9 407.8,993.9 408.7,993.9 409.5,993.9 410.3,993.9 411.1,993.8 411.9,993.8 412.8,993.8 413.6,993.8 414.4,993.8 415.2,993.8 416.0,993.7 416.9,993.7 417.7,993.7" fill="none" stroke="#7030A0" stroke-width="2.7" stroke-linejoin="round" stroke-linecap="round"/>
<polyline points="90.8,992.8 91.7,992.8 92.5,992.8 93.3,992.8 94.1,992.9 94.9,992.9 95.8,992.9 96.6,992.9 97.4,992.9 98.2,992.9 99.0,992.9 99.9,992.9 100.7,992.9 101.5,992.9 102.3,992.9 103.1,992.9 104.0,992.9 104.8,992.9 105.6,992.9 106.4,992.9 107.2,993.0 108.1,993.0 108.9,993.0 109.7,993.0 110.5,993.0 111.3,993.0 112.1,993.0 113.0,993.0 113.8,993.0 114.6,993.0 115.4,993.0 116.2,993.0 117.1,993.0 117.9,993.0 118.7,993.0 119.5,993.0 120.3,993.0 121.2,993.1 122.0,993.1 122.8,993.1 123.6,993.1 124.4,993.1 125.3,993.1 126.1,993.1 126.9,993.1 127.7,993.1 128.5,993.1 129.3,993.1 130.2,993.1 131.0,993.1 131.8,993.1 132.6,993.1 133.4,993.1 134.3,993.1 135.1,993.1 135.9,993.1 136.7,993.1 137.5,993.1 138.4,993.1 139.2,993.1 140.0,993.1 140.8,993.1 141.6,993.1 142.5,993.1 143.3,993.1 144.1,993.1 144.9,993.1 145.7,993.1 146.5,993.1 147.4,993.1 148.2,993.1 149.0,993.1 149.8,993.1 150.6,993.1 151.5,993.1 152.3,993.1 153.1,993.1 153.9,993.1 154.7,993.1 155.6,993.1 156.4,993.1 157.2,993.1 158.0,993.1 158.8,993.1 159.7,993.0 160.5,993.0 161.3,993.0 162.1,993.0 162.9,993.0 163.7,993.0 164.6,993.0 165.4,993.0 166.2,993.0 167.0,992.9 167.8,992.9 168.7,992.9 169.5,992.9 170.3,992.9 171.1,992.9 171.9,992.9 172.8,992.8 173.6,992.8 174.4,992.8 175.2,992.8 176.0,992.8 176.9,992.7 177.7,992.7 178.5,992.7 179.3,992.7 180.1,992.6 181.0,992.6 181.8,992.6 182.6,992.6 183.4,992.5 184.2,992.5 185.0,992.5 185.9,992.5 186.7,992.4 187.5,992.4 188.3,992.4 189.1,992.3 190.0,992.3 190.8,992.3 191.6,992.2 192.4,992.2 193.2,992.1 194.1,992.1 194.9,992.1 195.7,992.0 196.5,992.0 197.3,991.9 198.2,991.9 199.0,991.8 199.8,991.8 200.6,991.7 201.4,991.7 202.2,991.6 203.1,991.6 203.9,991.5 204.7,991.5 205.5,991.4 206.3,991.3 207.2,991.3 208.0,991.2 208.8,991.2 209.6,991.1 210.4,991.0 211.3,991.0 212.1,990.9 212.9,990.8 213.7,990.7 214.5,990.6 215.4,990.6 216.2,990.5 217.0,990.4 217.8,990.3 218.6,990.2 219.4,990.1 220.3,990.0 221.1,989.9 221.9,989.8 222.7,989.7 223.5,989.6 224.4,989.5 225.2,989.4 226.0,989.2 226.8,989.1 227.6,989.0 228.5,988.9 229.3,988.7 230.1,988.6 230.9,988.4 231.7,988.3 232.6,988.2 233.4,988.0 234.2,987.8 235.0,987.7 235.8,987.5 236.6,987.3 237.5,987.2 238.3,987.0 239.1,986.8 239.9,986.6 240.7,986.4 241.6,986.2 242.4,986.0 243.2,985.8 244.0,985.6 244.8,985.4 245.7,985.2 246.5,985.0 247.3,984.8 248.1,984.5 248.9,984.3 249.8,984.1 250.6,983.8 251.4,983.6 252.2,983.4 253.0,983.1 253.9,982.9 254.7,982.6 255.5,982.4 256.3,982.2 257.1,981.9 257.9,981.7 258.8,981.4 259.6,981.2 260.4,980.9 261.2,980.7 262.0,980.4 262.9,980.2 263.7,979.9 264.5,979.7 265.3,979.5 266.1,979.2 267.0,979.0 267.8,978.8 268.6,978.6 269.4,978.3 270.2,978.1 271.1,977.9 271.9,977.7 272.7,977.5 273.5,977.4 274.3,977.2 275.1,977.0 276.0,976.8 276.8,976.7 277.6,976.5 278.4,976.4 279.2,976.3 280.1,976.2 280.9,976.1 281.7,976.0 282.5,975.9 283.3,975.8 284.2,975.7 285.0,975.7 285.8,975.6 286.6,975.6 287.4,975.6 288.3,975.6 289.1,975.6 289.9,975.6 290.7,975.6 291.5,975.6 292.3,975.7 293.2,975.8 294.0,975.8 294.8,975.9 295.6,976.0 296.4,976.2 297.3,976.3 298.1,976.5 298.9,976.6 299.7,976.8 300.5,977.0 301.4,977.2 302.2,977.4 303.0,977.6 303.8,977.8 304.6,978.0 305.5,978.3 306.3,978.5 307.1,978.8 307.9,979.1 308.7,979.3 309.5,979.6 310.4,979.9 311.2,980.2 312.0,980.5 312.8,980.8 313.6,981.1 314.5,981.4 315.3,981.7 316.1,982.0 316.9,982.3 317.7,982.6 318.6,982.9 319.4,983.2 320.2,983.5 321.0,983.8 321.8,984.1 322.7,984.5 323.5,984.8 324.3,985.1 325.1,985.4 325.9,985.7 326.7,985.9 327.6,986.2 328.4,986.5 329.2,986.8 330.0,987.1 330.8,987.4 331.7,987.6 332.5,987.9 333.3,988.2 334.1,988.4 334.9,988.7 335.8,988.9 336.6,989.1 337.4,989.4 338.2,989.6 339.0,989.8 339.9,990.1 340.7,990.3 341.5,990.5 342.3,990.7 343.1,990.9 344.0,991.1 344.8,991.3 345.6,991.5 346.4,991.7 347.2,991.8 348.0,992.0 348.9,992.2 349.7,992.3 350.5,992.5 351.3,992.7 352.1,992.8 353.0,993.0 353.8,993.1 354.6,993.3 355.4,993.4 356.2,993.5 357.1,993.7 357.9,993.8 358.7,993.9 359.5,994.0 360.3,994.1 361.2,994.2 362.0,994.4 362.8,994.5 363.6,994.6 364.4,994.7 365.2,994.8 366.1,994.8 366.9,994.9 367.7,995.0 368.5,995.1 369.3,995.2 370.2,995.3 371.0,995.3 371.8,995.4 372.6,995.5 373.4,995.5 374.3,995.6 375.1,995.6 375.9,995.7 376.7,995.7 377.5,995.8 378.4,995.8 379.2,995.8 380.0,995.9 380.8,995.9 381.6,995.9 382.4,996.0 383.3,996.0 384.1,996.0 384.9,996.0 385.7,996.0 386.5,996.0 387.4,996.0 388.2,996.0 389.0,996.0 389.8,996.0 390.6,996.0 391.5,996.0 392.3,996.0 393.1,996.0 393.9,995.9 394.7,995.9 395.6,995.9 396.4,995.9 397.2,995.8 398.0,995.8 398.8,995.8 399.6,995.7 400.5,995.7 401.3,995.7 402.1,995.6 402.9,995.6 403.7,995.6 404.6,995.5 405.4,995.5 406.2,995.4 407.0,995.4 407.8,995.3 408.7,995.3 409.5,995.2 410.3,995.2 411.1,995.1 411.9,995.1 412.8,995.1 413.6,995.0 414.4,995.0 415.2,994.9 416.0,994.9 416.9,994.8 417.7,994.8" fill="none" stroke="#1F3070" stroke-width="2.7" stroke-linejoin="round" stroke-linecap="round"/>
<polyline points="90.8,992.5 91.7,992.5 92.5,992.5 93.3,992.5 94.1,992.5 94.9,992.5 95.8,992.5 96.6,992.6 97.4,992.6 98.2,992.6 99.0,992.6 99.9,992.6 100.7,992.6 101.5,992.6 102.3,992.6 103.1,992.7 104.0,992.7 104.8,992.7 105.6,992.7 106.4,992.7 107.2,992.7 108.1,992.7 108.9,992.8 109.7,992.8 110.5,992.8 111.3,992.8 112.1,992.8 113.0,992.8 113.8,992.8 114.6,992.8 115.4,992.9 116.2,992.9 117.1,992.9 117.9,992.9 118.7,992.9 119.5,992.9 120.3,992.9 121.2,992.9 122.0,993.0 122.8,993.0 123.6,993.0 124.4,993.0 125.3,993.0 126.1,993.0 126.9,993.0 127.7,993.0 128.5,993.1 129.3,993.1 130.2,993.1 131.0,993.1 131.8,993.1 132.6,993.1 133.4,993.1 134.3,993.1 135.1,993.1 135.9,993.1 136.7,993.1 137.5,993.2 138.4,993.2 139.2,993.2 140.0,993.2 140.8,993.2 141.6,993.2 142.5,993.2 143.3,993.2 144.1,993.2 144.9,993.2 145.7,993.2 146.5,993.2 147.4,993.2 148.2,993.2 149.0,993.2 149.8,993.2 150.6,993.2 151.5,993.2 152.3,993.2 153.1,993.2 153.9,993.2 154.7,993.2 155.6,993.2 156.4,993.2 157.2,993.2 158.0,993.2 158.8,993.2 159.7,993.2 160.5,993.1 161.3,993.1 162.1,993.1 162.9,993.1 163.7,993.1 164.6,993.1 165.4,993.1 166.2,993.1 167.0,993.0 167.8,993.0 168.7,993.0 169.5,993.0 170.3,993.0 171.1,992.9 171.9,992.9 172.8,992.9 173.6,992.9 174.4,992.9 175.2,992.8 176.0,992.8 176.9,992.8 177.7,992.7 178.5,992.7 179.3,992.7 180.1,992.6 181.0,992.6 181.8,992.6 182.6,992.5 183.4,992.5 184.2,992.4 185.0,992.4 185.9,992.4 186.7,992.3 187.5,992.3 188.3,992.2 189.1,992.2 190.0,992.1 190.8,992.1 191.6,992.0 192.4,991.9 193.2,991.9 194.1,991.8 194.9,991.8 195.7,991.7 196.5,991.6 197.3,991.6 198.2,991.5 199.0,991.4 199.8,991.4 200.6,991.3 201.4,991.2 202.2,991.1 203.1,991.1 203.9,991.0 204.7,990.9 205.5,990.8 206.3,990.7 207.2,990.6 208.0,990.5 208.8,990.4 209.6,990.3 210.4,990.2 211.3,990.1 212.1,990.0 212.9,989.9 213.7,989.8 214.5,989.6 215.4,989.5 216.2,989.4 217.0,989.2 217.8,989.1 218.6,989.0 219.4,988.8 220.3,988.7 221.1,988.5 221.9,988.4 222.7,988.2 223.5,988.0 224.4,987.9 225.2,987.7 226.0,987.5 226.8,987.3 227.6,987.1 228.5,986.9 229.3,986.7 230.1,986.5 230.9,986.3 231.7,986.0 232.6,985.8 233.4,985.6 234.2,985.3 235.0,985.1 235.8,984.8 236.6,984.5 237.5,984.3 238.3,984.0 239.1,983.7 239.9,983.4 240.7,983.1 241.6,982.8 242.4,982.5 243.2,982.1 244.0,981.8 244.8,981.5 245.7,981.1 246.5,980.8 247.3,980.4 248.1,980.0 248.9,979.7 249.8,979.3 250.6,978.9 251.4,978.5 252.2,978.1 253.0,977.7 253.9,977.3 254.7,976.9 255.5,976.5 256.3,976.1 257.1,975.7 257.9,975.2 258.8,974.8 259.6,974.4 260.4,974.0 261.2,973.6 262.0,973.2 262.9,972.7 263.7,972.3 264.5,971.9 265.3,971.5 266.1,971.1 267.0,970.7 267.8,970.3 268.6,970.0 269.4,969.6 270.2,969.2 271.1,968.9 271.9,968.5 272.7,968.2 273.5,967.9 274.3,967.5 275.1,967.3 276.0,967.0 276.8,966.7 277.6,966.4 278.4,966.2 279.2,966.0 280.1,965.8 280.9,965.6 281.7,965.4 282.5,965.3 283.3,965.1 284.2,965.0 285.0,964.9 285.8,964.8 286.6,964.8 287.4,964.7 288.3,964.7 289.1,964.7 289.9,964.7 290.7,964.8 291.5,964.8 292.3,964.9 293.2,965.1 294.0,965.2 294.8,965.4 295.6,965.6 296.4,965.8 297.3,966.0 298.1,966.3 298.9,966.6 299.7,966.9 300.5,967.2 301.4,967.5 302.2,967.9 303.0,968.2 303.8,968.6 304.6,969.0 305.5,969.5 306.3,969.9 307.1,970.3 307.9,970.8 308.7,971.3 309.5,971.7 310.4,972.2 311.2,972.7 312.0,973.2 312.8,973.7 313.6,974.2 314.5,974.8 315.3,975.3 316.1,975.8 316.9,976.3 317.7,976.8 318.6,977.4 319.4,977.9 320.2,978.4 321.0,978.9 321.8,979.4 322.7,979.9 323.5,980.4 324.3,980.9 325.1,981.4 325.9,981.9 326.7,982.4 327.6,982.8 328.4,983.3 329.2,983.8 330.0,984.2 330.8,984.6 331.7,985.1 332.5,985.5 333.3,985.9 334.1,986.3 334.9,986.7 335.8,987.1 336.6,987.4 337.4,987.8 338.2,988.2 339.0,988.5 339.9,988.9 340.7,989.2 341.5,989.5 342.3,989.8 343.1,990.1 344.0,990.4 344.8,990.7 345.6,991.0 346.4,991.2 347.2,991.5 348.0,991.8 348.9,992.0 349.7,992.3 350.5,992.5 351.3,992.7 352.1,992.9 353.0,993.1 353.8,993.4 354.6,993.6 355.4,993.8 356.2,993.9 357.1,994.1 357.9,994.3 358.7,994.5 359.5,994.7 360.3,994.8 361.2,995.0 362.0,995.1 362.8,995.3 363.6,995.4 364.4,995.6 365.2,995.7 366.1,995.8 366.9,995.9 367.7,996.1 368.5,996.2 369.3,996.3 370.2,996.4 371.0,996.5 371.8,996.6 372.6,996.7 373.4,996.8 374.3,996.8 375.1,996.9 375.9,997.0 376.7,997.1 377.5,997.1 378.4,997.2 379.2,997.2 380.0,997.3 380.8,997.3 381.6,997.3 382.4,997.4 383.3,997.4 384.1,997.4 384.9,997.4 385.7,997.4 386.5,997.4 387.4,997.4 388.2,997.4 389.0,997.4 389.8,997.4 390.6,997.4 391.5,997.4 392.3,997.3 393.1,997.3 393.9,997.3 394.7,997.3 395.6,997.2 396.4,997.2 397.2,997.1 398.0,997.1 398.8,997.1 399.6,997.0 400.5,997.0 401.3,996.9 402.1,996.8 402.9,996.8 403.7,996.7 404.6,996.7 405.4,996.6 406.2,996.5 407.0,996.5 407.8,996.4 408.7,996.3 409.5,996.3 410.3,996.2 411.1,996.1 411.9,996.0 412.8,996.0 413.6,995.9 414.4,995.8 415.2,995.7 416.0,995.7 416.9,995.6 417.7,995.5" fill="none" stroke="#1F6FB8" stroke-width="2.7" stroke-linejoin="round" stroke-linecap="round"/>
<polyline points="90.8,991.7 91.7,991.8 92.5,991.8 93.3,991.8 94.1,991.8 94.9,991.9 95.8,991.9 96.6,991.9 97.4,991.9 98.2,992.0 99.0,992.0 99.9,992.0 100.7,992.1 101.5,992.1 102.3,992.1 103.1,992.1 104.0,992.2 104.8,992.2 105.6,992.2 106.4,992.2 107.2,992.3 108.1,992.3 108.9,992.3 109.7,992.4 110.5,992.4 111.3,992.4 112.1,992.4 113.0,992.5 113.8,992.5 114.6,992.5 115.4,992.6 116.2,992.6 117.1,992.6 117.9,992.6 118.7,992.7 119.5,992.7 120.3,992.7 121.2,992.7 122.0,992.8 122.8,992.8 123.6,992.8 124.4,992.8 125.3,992.9 126.1,992.9 126.9,992.9 127.7,992.9 128.5,993.0 129.3,993.0 130.2,993.0 131.0,993.0 131.8,993.1 132.6,993.1 133.4,993.1 134.3,993.1 135.1,993.2 135.9,993.2 136.7,993.2 137.5,993.2 138.4,993.2 139.2,993.3 140.0,993.3 140.8,993.3 141.6,993.3 142.5,993.3 143.3,993.3 144.1,993.3 144.9,993.4 145.7,993.4 146.5,993.4 147.4,993.4 148.2,993.4 149.0,993.4 149.8,993.4 150.6,993.4 151.5,993.4 152.3,993.4 153.1,993.4 153.9,993.4 154.7,993.5 155.6,993.5 156.4,993.4 157.2,993.4 158.0,993.4 158.8,993.4 159.7,993.4 160.5,993.4 161.3,993.4 162.1,993.4 162.9,993.4 163.7,993.4 164.6,993.4 165.4,993.4 166.2,993.3 167.0,993.3 167.8,993.3 168.7,993.3 169.5,993.2 170.3,993.2 171.1,993.2 171.9,993.2 172.8,993.1 173.6,993.1 174.4,993.1 175.2,993.0 176.0,993.0 176.9,992.9 177.7,992.9 178.5,992.8 179.3,992.8 180.1,992.7 181.0,992.7 181.8,992.6 182.6,992.6 183.4,992.5 184.2,992.5 185.0,992.4 185.9,992.3 186.7,992.3 187.5,992.2 188.3,992.1 189.1,992.0 190.0,992.0 190.8,991.9 191.6,991.8 192.4,991.7 193.2,991.6 194.1,991.5 194.9,991.4 195.7,991.3 196.5,991.2 197.3,991.1 198.2,991.0 199.0,990.9 199.8,990.8 200.6,990.7 201.4,990.6 202.2,990.4 203.1,990.3 203.9,990.2 204.7,990.0 205.5,989.9 206.3,989.8 207.2,989.6 208.0,989.5 208.8,989.3 209.6,989.1 210.4,989.0 211.3,988.8 212.1,988.6 212.9,988.5 213.7,988.3 214.5,988.1 215.4,987.9 216.2,987.7 217.0,987.5 217.8,987.3 218.6,987.1 219.4,986.8 220.3,986.6 221.1,986.3 221.9,986.1 222.7,985.8 223.5,985.6 224.4,985.3 225.2,985.0 226.0,984.7 226.8,984.4 227.6,984.1 228.5,983.8 229.3,983.5 230.1,983.2 230.9,982.8 231.7,982.4 232.6,982.1 233.4,981.7 234.2,981.3 235.0,980.9 235.8,980.5 236.6,980.0 237.5,979.6 238.3,979.1 239.1,978.7 239.9,978.2 240.7,977.7 241.6,977.2 242.4,976.7 243.2,976.1 244.0,975.6 244.8,975.0 245.7,974.4 246.5,973.8 247.3,973.2 248.1,972.6 248.9,972.0 249.8,971.4 250.6,970.7 251.4,970.0 252.2,969.4 253.0,968.7 253.9,968.0 254.7,967.3 255.5,966.5 256.3,965.8 257.1,965.1 257.9,964.4 258.8,963.6 259.6,962.9 260.4,962.1 261.2,961.4 262.0,960.6 262.9,959.9 263.7,959.1 264.5,958.4 265.3,957.6 266.1,956.9 267.0,956.1 267.8,955.4 268.6,954.7 269.4,954.0 270.2,953.3 271.1,952.6 271.9,951.9 272.7,951.3 273.5,950.7 274.3,950.1 275.1,949.5 276.0,948.9 276.8,948.4 277.6,947.8 278.4,947.3 279.2,946.9 280.1,946.4 280.9,946.0 281.7,945.7 282.5,945.3 283.3,945.0 284.2,944.7 285.0,944.5 285.8,944.3 286.6,944.1 287.4,943.9 288.3,943.8 289.1,943.8 289.9,943.7 290.7,943.8 291.5,943.8 292.3,943.9 293.2,944.1 294.0,944.3 294.8,944.5 295.6,944.8 296.4,945.1 297.3,945.5 298.1,945.9 298.9,946.3 299.7,946.8 300.5,947.4 301.4,947.9 302.2,948.5 303.0,949.2 303.8,949.8 304.6,950.5 305.5,951.3 306.3,952.0 307.1,952.8 307.9,953.6 308.7,954.4 309.5,955.3 310.4,956.2 311.2,957.0 312.0,957.9 312.8,958.8 313.6,959.7 314.5,960.7 315.3,961.6 316.1,962.5 316.9,963.5 317.7,964.4 318.6,965.3 319.4,966.3 320.2,967.2 321.0,968.1 321.8,969.0 322.7,970.0 323.5,970.9 324.3,971.7 325.1,972.6 325.9,973.5 326.7,974.3 327.6,975.2 328.4,976.0 329.2,976.8 330.0,977.6 330.8,978.4 331.7,979.2 332.5,979.9 333.3,980.6 334.1,981.4 334.9,982.1 335.8,982.7 336.6,983.4 337.4,984.0 338.2,984.7 339.0,985.3 339.9,985.9 340.7,986.4 341.5,987.0 342.3,987.5 343.1,988.0 344.0,988.6 344.8,989.0 345.6,989.5 346.4,990.0 347.2,990.4 348.0,990.9 348.9,991.3 349.7,991.7 350.5,992.1 351.3,992.5 352.1,992.8 353.0,993.2 353.8,993.6 354.6,993.9 355.4,994.2 356.2,994.5 357.1,994.8 357.9,995.1 358.7,995.4 359.5,995.7 360.3,996.0 361.2,996.2 362.0,996.5 362.8,996.7 363.6,997.0 364.4,997.2 365.2,997.4 366.1,997.6 366.9,997.8 367.7,998.0 368.5,998.2 369.3,998.4 370.2,998.6 371.0,998.7 371.8,998.9 372.6,999.0 373.4,999.2 374.3,999.3 375.1,999.4 375.9,999.5 376.7,999.6 377.5,999.7 378.4,999.8 379.2,999.9 380.0,1000.0 380.8,1000.0 381.6,1000.1 382.4,1000.1 383.3,1000.2 384.1,1000.2 384.9,1000.2 385.7,1000.2 386.5,1000.2 387.4,1000.2 388.2,1000.2 389.0,1000.2 389.8,1000.2 390.6,1000.2 391.5,1000.1 392.3,1000.1 393.1,1000.1 393.9,1000.0 394.7,1000.0 395.6,999.9 396.4,999.8 397.2,999.8 398.0,999.7 398.8,999.6 399.6,999.5 400.5,999.4 401.3,999.3 402.1,999.2 402.9,999.1 403.7,999.0 404.6,998.9 405.4,998.8 406.2,998.7 407.0,998.6 407.8,998.5 408.7,998.4 409.5,998.3 410.3,998.1 411.1,998.0 411.9,997.9 412.8,997.8 413.6,997.7 414.4,997.5 415.2,997.4 416.0,997.3 416.9,997.2 417.7,997.1" fill="none" stroke="#00B0F0" stroke-width="2.7" stroke-linejoin="round" stroke-linecap="round"/>
<polyline points="90.8,991.0 91.7,991.0 92.5,991.1 93.3,991.1 94.1,991.2 94.9,991.2 95.8,991.2 96.6,991.3 97.4,991.3 98.2,991.4 99.0,991.4 99.9,991.4 100.7,991.5 101.5,991.5 102.3,991.6 103.1,991.6 104.0,991.7 104.8,991.7 105.6,991.7 106.4,991.8 107.2,991.8 108.1,991.9 108.9,991.9 109.7,991.9 110.5,992.0 111.3,992.0 112.1,992.1 113.0,992.1 113.8,992.2 114.6,992.2 115.4,992.2 116.2,992.3 117.1,992.3 117.9,992.4 118.7,992.4 119.5,992.4 120.3,992.5 121.2,992.5 122.0,992.6 122.8,992.6 123.6,992.6 124.4,992.7 125.3,992.7 126.1,992.8 126.9,992.8 127.7,992.8 128.5,992.9 129.3,992.9 130.2,993.0 131.0,993.0 131.8,993.0 132.6,993.1 133.4,993.1 134.3,993.1 135.1,993.2 135.9,993.2 136.7,993.2 137.5,993.3 138.4,993.3 139.2,993.3 140.0,993.3 140.8,993.4 141.6,993.4 142.5,993.4 143.3,993.4 144.1,993.5 144.9,993.5 145.7,993.5 146.5,993.5 147.4,993.6 148.2,993.6 149.0,993.6 149.8,993.6 150.6,993.6 151.5,993.6 152.3,993.6 153.1,993.6 153.9,993.7 154.7,993.7 155.6,993.7 156.4,993.7 157.2,993.7 158.0,993.7 158.8,993.7 159.7,993.7 160.5,993.6 161.3,993.6 162.1,993.6 162.9,993.6 163.7,993.6 164.6,993.6 165.4,993.6 166.2,993.5 167.0,993.5 167.8,993.5 168.7,993.5 169.5,993.4 170.3,993.4 171.1,993.4 171.9,993.3 172.8,993.3 173.6,993.2 174.4,993.2 175.2,993.1 176.0,993.1 176.9,993.0 177.7,993.0 178.5,992.9 179.3,992.8 180.1,992.8 181.0,992.7 181.8,992.6 182.6,992.5 183.4,992.5 184.2,992.4 185.0,992.3 185.9,992.2 186.7,992.1 187.5,992.0 188.3,991.9 189.1,991.8 190.0,991.7 190.8,991.6 191.6,991.5 192.4,991.4 193.2,991.2 194.1,991.1 194.9,991.0 195.7,990.8 196.5,990.7 197.3,990.5 198.2,990.4 199.0,990.2 199.8,990.1 200.6,989.9 201.4,989.8 202.2,989.6 203.1,989.4 203.9,989.2 204.7,989.0 205.5,988.9 206.3,988.7 207.2,988.5 208.0,988.2 208.8,988.0 209.6,987.8 210.4,987.6 211.3,987.3 212.1,987.1 212.9,986.9 213.7,986.6 214.5,986.3 215.4,986.1 216.2,985.8 217.0,985.5 217.8,985.2 218.6,984.9 219.4,984.6 220.3,984.3 221.1,983.9 221.9,983.6 222.7,983.2 223.5,982.9 224.4,982.5 225.2,982.1 226.0,981.7 226.8,981.3 227.6,980.9 228.5,980.4 229.3,980.0 230.1,979.5 230.9,979.0 231.7,978.5 232.6,978.0 233.4,977.5 234.2,976.9 235.0,976.4 235.8,975.8 236.6,975.2 237.5,974.6 238.3,973.9 239.1,973.3 239.9,972.6 240.7,971.9 241.6,971.2 242.4,970.5 243.2,969.7 244.0,969.0 244.8,968.2 245.7,967.4 246.5,966.5 247.3,965.7 248.1,964.8 248.9,964.0 249.8,963.1 250.6,962.1 251.4,961.2 252.2,960.3 253.0,959.3 253.9,958.3 254.7,957.3 255.5,956.3 256.3,955.3 257.1,954.3 257.9,953.2 258.8,952.2 259.6,951.1 260.4,950.1 261.2,949.0 262.0,947.9 262.9,946.9 263.7,945.8 264.5,944.7 265.3,943.7 266.1,942.6 267.0,941.6 267.8,940.6 268.6,939.5 269.4,938.5 270.2,937.6 271.1,936.6 271.9,935.6 272.7,934.7 273.5,933.8 274.3,933.0 275.1,932.1 276.0,931.3 276.8,930.5 277.6,929.8 278.4,929.1 279.2,928.4 280.1,927.8 280.9,927.2 281.7,926.7 282.5,926.2 283.3,925.8 284.2,925.4 285.0,925.0 285.8,924.7 286.6,924.5 287.4,924.3 288.3,924.1 289.1,924.0 289.9,924.0 290.7,924.0 291.5,924.1 292.3,924.2 293.2,924.4 294.0,924.7 294.8,925.0 295.6,925.4 296.4,925.9 297.3,926.4 298.1,927.0 298.9,927.7 299.7,928.4 300.5,929.1 301.4,929.9 302.2,930.8 303.0,931.7 303.8,932.7 304.6,933.7 305.5,934.7 306.3,935.8 307.1,936.9 307.9,938.0 308.7,939.2 309.5,940.4 310.4,941.6 311.2,942.9 312.0,944.1 312.8,945.4 313.6,946.7 314.5,948.0 315.3,949.3 316.1,950.6 316.9,952.0 317.7,953.3 318.6,954.6 319.4,955.9 320.2,957.2 321.0,958.5 321.8,959.8 322.7,961.1 323.5,962.4 324.3,963.6 325.1,964.9 325.9,966.1 326.7,967.3 327.6,968.5 328.4,969.7 329.2,970.8 330.0,971.9 330.8,973.0 331.7,974.1 332.5,975.1 333.3,976.1 334.1,977.1 334.9,978.1 335.8,979.0 336.6,980.0 337.4,980.9 338.2,981.7 339.0,982.6 339.9,983.4 340.7,984.2 341.5,985.0 342.3,985.7 343.1,986.4 344.0,987.2 344.8,987.8 345.6,988.5 346.4,989.1 347.2,989.8 348.0,990.4 348.9,991.0 349.7,991.5 350.5,992.1 351.3,992.6 352.1,993.1 353.0,993.6 353.8,994.1 354.6,994.6 355.4,995.0 356.2,995.5 357.1,995.9 357.9,996.3 358.7,996.7 359.5,997.1 360.3,997.5 361.2,997.9 362.0,998.2 362.8,998.6 363.6,998.9 364.4,999.2 365.2,999.5 366.1,999.8 366.9,1000.1 367.7,1000.4 368.5,1000.7 369.3,1000.9 370.2,1001.2 371.0,1001.4 371.8,1001.6 372.6,1001.8 373.4,1002.0 374.3,1002.2 375.1,1002.4 375.9,1002.5 376.7,1002.7 377.5,1002.8 378.4,1003.0 379.2,1003.1 380.0,1003.2 380.8,1003.3 381.6,1003.3 382.4,1003.4 383.3,1003.5 384.1,1003.5 384.9,1003.5 385.7,1003.5 386.5,1003.5 387.4,1003.5 388.2,1003.5 389.0,1003.5 389.8,1003.5 390.6,1003.4 391.5,1003.4 392.3,1003.3 393.1,1003.3 393.9,1003.2 394.7,1003.1 395.6,1003.0 396.4,1002.9 397.2,1002.8 398.0,1002.7 398.8,1002.6 399.6,1002.5 400.5,1002.3 401.3,1002.2 402.1,1002.1 402.9,1001.9 403.7,1001.8 404.6,1001.6 405.4,1001.5 406.2,1001.3 407.0,1001.1 407.8,1001.0 408.7,1000.8 409.5,1000.6 410.3,1000.5 411.1,1000.3 411.9,1000.1 412.8,999.9 413.6,999.7 414.4,999.6 415.2,999.4 416.0,999.2 416.9,999.0 417.7,998.8" fill="none" stroke="#9DC3E6" stroke-width="2.7" stroke-linejoin="round" stroke-linecap="round"/>
<polyline points="90.8,989.7 91.7,989.7 92.5,989.8 93.3,989.9 94.1,989.9 94.9,990.0 95.8,990.1 96.6,990.2 97.4,990.2 98.2,990.3 99.0,990.4 99.9,990.4 100.7,990.5 101.5,990.6 102.3,990.7 103.1,990.7 104.0,990.8 104.8,990.9 105.6,991.0 106.4,991.0 107.2,991.1 108.1,991.2 108.9,991.3 109.7,991.3 110.5,991.4 111.3,991.5 112.1,991.6 113.0,991.6 113.8,991.7 114.6,991.8 115.4,991.9 116.2,991.9 117.1,992.0 117.9,992.1 118.7,992.2 119.5,992.2 120.3,992.3 121.2,992.4 122.0,992.5 122.8,992.5 123.6,992.6 124.4,992.7 125.3,992.8 126.1,992.8 126.9,992.9 127.7,993.0 128.5,993.1 129.3,993.1 130.2,993.2 131.0,993.3 131.8,993.3 132.6,993.4 133.4,993.5 134.3,993.5 135.1,993.6 135.9,993.7 136.7,993.7 137.5,993.8 138.4,993.8 139.2,993.9 140.0,994.0 140.8,994.0 141.6,994.1 142.5,994.1 143.3,994.2 144.1,994.2 144.9,994.3 145.7,994.3 146.5,994.4 147.4,994.4 148.2,994.4 149.0,994.5 149.8,994.5 150.6,994.6 151.5,994.6 152.3,994.6 153.1,994.7 153.9,994.7 154.7,994.7 155.6,994.7 156.4,994.7 157.2,994.8 158.0,994.8 158.8,994.8 159.7,994.8 160.5,994.8 161.3,994.8 162.1,994.8 162.9,994.8 163.7,994.8 164.6,994.8 165.4,994.8 166.2,994.7 167.0,994.7 167.8,994.7 168.7,994.7 169.5,994.6 170.3,994.6 171.1,994.6 171.9,994.5 172.8,994.5 173.6,994.4 174.4,994.4 175.2,994.3 176.0,994.2 176.9,994.2 177.7,994.1 178.5,994.0 179.3,993.9 180.1,993.9 181.0,993.8 181.8,993.7 182.6,993.6 183.4,993.5 184.2,993.4 185.0,993.2 185.9,993.1 186.7,993.0 187.5,992.9 188.3,992.7 189.1,992.6 190.0,992.4 190.8,992.3 191.6,992.1 192.4,992.0 193.2,991.8 194.1,991.6 194.9,991.4 195.7,991.3 196.5,991.1 197.3,990.9 198.2,990.7 199.0,990.5 199.8,990.2 200.6,990.0 201.4,989.8 202.2,989.5 203.1,989.3 203.9,989.1 204.7,988.8 205.5,988.5 206.3,988.3 207.2,988.0 208.0,987.7 208.8,987.4 209.6,987.1 210.4,986.8 211.3,986.4 212.1,986.1 212.9,985.8 213.7,985.4 214.5,985.0 215.4,984.7 216.2,984.3 217.0,983.9 217.8,983.5 218.6,983.1 219.4,982.6 220.3,982.2 221.1,981.7 221.9,981.2 222.7,980.8 223.5,980.3 224.4,979.7 225.2,979.2 226.0,978.6 226.8,978.1 227.6,977.5 228.5,976.9 229.3,976.3 230.1,975.6 230.9,974.9 231.7,974.3 232.6,973.5 233.4,972.8 234.2,972.0 235.0,971.3 235.8,970.5 236.6,969.6 237.5,968.8 238.3,967.9 239.1,967.0 239.9,966.0 240.7,965.1 241.6,964.1 242.4,963.1 243.2,962.0 244.0,960.9 244.8,959.8 245.7,958.7 246.5,957.5 247.3,956.3 248.1,955.1 248.9,953.9 249.8,952.6 250.6,951.3 251.4,949.9 252.2,948.6 253.0,947.2 253.9,945.8 254.7,944.4 255.5,942.9 256.3,941.5 257.1,940.0 257.9,938.5 258.8,937.0 259.6,935.4 260.4,933.9 261.2,932.3 262.0,930.8 262.9,929.2 263.7,927.7 264.5,926.1 265.3,924.6 266.1,923.0 267.0,921.5 267.8,920.0 268.6,918.5 269.4,917.0 270.2,915.5 271.1,914.1 271.9,912.7 272.7,911.3 273.5,910.0 274.3,908.7 275.1,907.5 276.0,906.3 276.8,905.1 277.6,904.0 278.4,903.0 279.2,902.0 280.1,901.0 280.9,900.2 281.7,899.4 282.5,898.6 283.3,897.9 284.2,897.3 285.0,896.8 285.8,896.4 286.6,896.0 287.4,895.7 288.3,895.5 289.1,895.3 289.9,895.3 290.7,895.3 291.5,895.4 292.3,895.6 293.2,895.9 294.0,896.3 294.8,896.9 295.6,897.5 296.4,898.2 297.3,899.0 298.1,899.8 298.9,900.8 299.7,901.9 300.5,903.0 301.4,904.2 302.2,905.5 303.0,906.8 303.8,908.3 304.6,909.7 305.5,911.3 306.3,912.9 307.1,914.5 307.9,916.2 308.7,918.0 309.5,919.8 310.4,921.6 311.2,923.4 312.0,925.3 312.8,927.2 313.6,929.1 314.5,931.0 315.3,933.0 316.1,934.9 316.9,936.8 317.7,938.8 318.6,940.7 319.4,942.7 320.2,944.6 321.0,946.5 321.8,948.4 322.7,950.2 323.5,952.1 324.3,953.9 325.1,955.7 325.9,957.5 326.7,959.2 327.6,960.9 328.4,962.6 329.2,964.3 330.0,965.9 330.8,967.5 331.7,969.0 332.5,970.5 333.3,972.0 334.1,973.4 334.9,974.8 335.8,976.2 336.6,977.5 337.4,978.8 338.2,980.1 339.0,981.3 339.9,982.5 340.7,983.6 341.5,984.8 342.3,985.9 343.1,986.9 344.0,988.0 344.8,989.0 345.6,989.9 346.4,990.9 347.2,991.8 348.0,992.7 348.9,993.6 349.7,994.4 350.5,995.3 351.3,996.1 352.1,996.8 353.0,997.6 353.8,998.3 354.6,999.0 355.4,999.7 356.2,1000.4 357.1,1001.1 357.9,1001.7 358.7,1002.3 359.5,1002.9 360.3,1003.5 361.2,1004.1 362.0,1004.6 362.8,1005.1 363.6,1005.7 364.4,1006.1 365.2,1006.6 366.1,1007.1 366.9,1007.5 367.7,1007.9 368.5,1008.3 369.3,1008.7 370.2,1009.1 371.0,1009.4 371.8,1009.7 372.6,1010.0 373.4,1010.3 374.3,1010.6 375.1,1010.8 375.9,1011.0 376.7,1011.2 377.5,1011.4 378.4,1011.6 379.2,1011.7 380.0,1011.8 380.8,1011.9 381.6,1012.0 382.4,1012.0 383.3,1012.1 384.1,1012.1 384.9,1012.1 385.7,1012.0 386.5,1012.0 387.4,1011.9 388.2,1011.9 389.0,1011.8 389.8,1011.7 390.6,1011.6 391.5,1011.4 392.3,1011.3 393.1,1011.1 393.9,1010.9 394.7,1010.8 395.6,1010.6 396.4,1010.3 397.2,1010.1 398.0,1009.9 398.8,1009.6 399.6,1009.4 400.5,1009.1 401.3,1008.9 402.1,1008.6 402.9,1008.3 403.7,1008.0 404.6,1007.7 405.4,1007.4 406.2,1007.1 407.0,1006.8 407.8,1006.5 408.7,1006.1 409.5,1005.8 410.3,1005.5 411.1,1005.2 411.9,1004.8 412.8,1004.5 413.6,1004.2 414.4,1003.9 415.2,1003.5 416.0,1003.2 416.9,1002.9 417.7,1002.6" fill="none" stroke="#4F7F1F" stroke-width="2.7" stroke-linejoin="round" stroke-linecap="round"/>
<polyline points="90.8,989.4 91.7,989.5 92.5,989.6 93.3,989.7 94.1,989.7 94.9,989.8 95.8,989.9 96.6,990.0 97.4,990.1 98.2,990.1 99.0,990.2 99.9,990.3 100.7,990.4 101.5,990.5 102.3,990.6 103.1,990.6 104.0,990.7 104.8,990.8 105.6,990.9 106.4,991.0 107.2,991.1 108.1,991.2 108.9,991.2 109.7,991.3 110.5,991.4 111.3,991.5 112.1,991.6 113.0,991.7 113.8,991.8 114.6,991.9 115.4,991.9 116.2,992.0 117.1,992.1 117.9,992.2 118.7,992.3 119.5,992.4 120.3,992.5 121.2,992.6 122.0,992.6 122.8,992.7 123.6,992.8 124.4,992.9 125.3,993.0 126.1,993.1 126.9,993.1 127.7,993.2 128.5,993.3 129.3,993.4 130.2,993.5 131.0,993.6 131.8,993.6 132.6,993.7 133.4,993.8 134.3,993.9 135.1,993.9 135.9,994.0 136.7,994.1 137.5,994.1 138.4,994.2 139.2,994.3 140.0,994.4 140.8,994.4 141.6,994.5 142.5,994.5 143.3,994.6 144.1,994.7 144.9,994.7 145.7,994.8 146.5,994.8 147.4,994.9 148.2,994.9 149.0,995.0 149.8,995.0 150.6,995.0 151.5,995.1 152.3,995.1 153.1,995.1 153.9,995.2 154.7,995.2 155.6,995.2 156.4,995.2 157.2,995.3 158.0,995.3 158.8,995.3 159.7,995.3 160.5,995.3 161.3,995.3 162.1,995.3 162.9,995.3 163.7,995.3 164.6,995.2 165.4,995.2 166.2,995.2 167.0,995.2 167.8,995.1 168.7,995.1 169.5,995.1 170.3,995.0 171.1,995.0 171.9,994.9 172.8,994.9 173.6,994.8 174.4,994.7 175.2,994.7 176.0,994.6 176.9,994.5 177.7,994.4 178.5,994.3 179.3,994.2 180.1,994.1 181.0,994.0 181.8,993.9 182.6,993.8 183.4,993.6 184.2,993.5 185.0,993.4 185.9,993.2 186.7,993.1 187.5,992.9 188.3,992.8 189.1,992.6 190.0,992.4 190.8,992.2 191.6,992.0 192.4,991.8 193.2,991.6 194.1,991.4 194.9,991.2 195.7,991.0 196.5,990.8 197.3,990.5 198.2,990.3 199.0,990.0 199.8,989.8 200.6,989.5 201.4,989.2 202.2,988.9 203.1,988.6 203.9,988.3 204.7,988.0 205.5,987.7 206.3,987.4 207.2,987.0 208.0,986.7 208.8,986.3 209.6,986.0 210.4,985.6 211.3,985.2 212.1,984.8 212.9,984.4 213.7,984.0 214.5,983.5 215.4,983.1 216.2,982.6 217.0,982.1 217.8,981.6 218.6,981.1 219.4,980.6 220.3,980.1 221.1,979.5 221.9,979.0 222.7,978.4 223.5,977.8 224.4,977.2 225.2,976.5 226.0,975.8 226.8,975.2 227.6,974.5 228.5,973.7 229.3,973.0 230.1,972.2 230.9,971.4 231.7,970.6 232.6,969.7 233.4,968.8 234.2,967.9 235.0,967.0 235.8,966.0 236.6,965.0 237.5,964.0 238.3,963.0 239.1,961.9 239.9,960.7 240.7,959.6 241.6,958.4 242.4,957.2 243.2,955.9 244.0,954.6 244.8,953.3 245.7,951.9 246.5,950.5 247.3,949.1 248.1,947.6 248.9,946.1 249.8,944.6 250.6,943.0 251.4,941.4 252.2,939.8 253.0,938.1 253.9,936.5 254.7,934.8 255.5,933.0 256.3,931.3 257.1,929.5 257.9,927.7 258.8,925.9 259.6,924.0 260.4,922.2 261.2,920.3 262.0,918.5 262.9,916.6 263.7,914.7 264.5,912.9 265.3,911.0 266.1,909.2 267.0,907.3 267.8,905.5 268.6,903.7 269.4,901.9 270.2,900.2 271.1,898.5 271.9,896.8 272.7,895.1 273.5,893.6 274.3,892.0 275.1,890.5 276.0,889.1 276.8,887.7 277.6,886.3 278.4,885.1 279.2,883.9 280.1,882.8 280.9,881.7 281.7,880.8 282.5,879.9 283.3,879.1 284.2,878.4 285.0,877.7 285.8,877.2 286.6,876.7 287.4,876.4 288.3,876.1 289.1,875.9 289.9,875.9 290.7,875.9 291.5,876.0 292.3,876.3 293.2,876.7 294.0,877.2 294.8,877.8 295.6,878.5 296.4,879.3 297.3,880.3 298.1,881.4 298.9,882.5 299.7,883.8 300.5,885.1 301.4,886.6 302.2,888.1 303.0,889.8 303.8,891.5 304.6,893.2 305.5,895.1 306.3,897.0 307.1,899.0 307.9,901.0 308.7,903.1 309.5,905.3 310.4,907.5 311.2,909.7 312.0,911.9 312.8,914.2 313.6,916.5 314.5,918.8 315.3,921.1 316.1,923.4 316.9,925.8 317.7,928.1 318.6,930.4 319.4,932.7 320.2,935.1 321.0,937.3 321.8,939.6 322.7,941.9 323.5,944.1 324.3,946.3 325.1,948.4 325.9,950.6 326.7,952.6 327.6,954.7 328.4,956.7 329.2,958.7 330.0,960.6 330.8,962.5 331.7,964.4 332.5,966.2 333.3,968.0 334.1,969.7 334.9,971.4 335.8,973.0 336.6,974.6 337.4,976.2 338.2,977.7 339.0,979.2 339.9,980.6 340.7,982.0 341.5,983.3 342.3,984.7 343.1,985.9 344.0,987.2 344.8,988.4 345.6,989.5 346.4,990.7 347.2,991.8 348.0,992.8 348.9,993.9 349.7,994.9 350.5,995.9 351.3,996.8 352.1,997.7 353.0,998.6 353.8,999.5 354.6,1000.3 355.4,1001.2 356.2,1002.0 357.1,1002.7 357.9,1003.5 358.7,1004.2 359.5,1004.9 360.3,1005.6 361.2,1006.2 362.0,1006.8 362.8,1007.5 363.6,1008.0 364.4,1008.6 365.2,1009.1 366.1,1009.7 366.9,1010.1 367.7,1010.6 368.5,1011.1 369.3,1011.5 370.2,1011.9 371.0,1012.3 371.8,1012.6 372.6,1012.9 373.4,1013.2 374.3,1013.5 375.1,1013.8 375.9,1014.0 376.7,1014.2 377.5,1014.4 378.4,1014.5 379.2,1014.6 380.0,1014.7 380.8,1014.8 381.6,1014.9 382.4,1014.9 383.3,1014.9 384.1,1014.9 384.9,1014.8 385.7,1014.8 386.5,1014.7 387.4,1014.6 388.2,1014.5 389.0,1014.4 389.8,1014.2 390.6,1014.1 391.5,1013.9 392.3,1013.7 393.1,1013.5 393.9,1013.3 394.7,1013.1 395.6,1012.8 396.4,1012.6 397.2,1012.3 398.0,1012.0 398.8,1011.7 399.6,1011.4 400.5,1011.1 401.3,1010.8 402.1,1010.4 402.9,1010.1 403.7,1009.7 404.6,1009.4 405.4,1009.0 406.2,1008.7 407.0,1008.3 407.8,1007.9 408.7,1007.6 409.5,1007.2 410.3,1006.8 411.1,1006.4 411.9,1006.1 412.8,1005.7 413.6,1005.3 414.4,1004.9 415.2,1004.6 416.0,1004.2 416.9,1003.8 417.7,1003.5" fill="none" stroke="#109A10" stroke-width="2.7" stroke-linejoin="round" stroke-linecap="round"/>
<polyline points="90.8,989.2 91.7,989.3 92.5,989.3 93.3,989.4 94.1,989.5 94.9,989.6 95.8,989.7 96.6,989.8 97.4,989.9 98.2,990.0 99.0,990.1 99.9,990.2 100.7,990.3 101.5,990.4 102.3,990.5 103.1,990.6 104.0,990.7 104.8,990.7 105.6,990.8 106.4,990.9 107.2,991.0 108.1,991.1 108.9,991.2 109.7,991.3 110.5,991.4 111.3,991.5 112.1,991.6 113.0,991.7 113.8,991.8 114.6,991.9 115.4,992.0 116.2,992.1 117.1,992.2 117.9,992.3 118.7,992.4 119.5,992.5 120.3,992.6 121.2,992.7 122.0,992.8 122.8,992.9 123.6,993.0 124.4,993.1 125.3,993.2 126.1,993.3 126.9,993.4 127.7,993.5 128.5,993.6 129.3,993.7 130.2,993.7 131.0,993.8 131.8,993.9 132.6,994.0 133.4,994.1 134.3,994.2 135.1,994.3 135.9,994.4 136.7,994.4 137.5,994.5 138.4,994.6 139.2,994.7 140.0,994.7 140.8,994.8 141.6,994.9 142.5,994.9 143.3,995.0 144.1,995.1 144.9,995.1 145.7,995.2 146.5,995.3 147.4,995.3 148.2,995.4 149.0,995.4 149.8,995.5 150.6,995.5 151.5,995.5 152.3,995.6 153.1,995.6 153.9,995.6 154.7,995.7 155.6,995.7 156.4,995.7 157.2,995.7 158.0,995.7 158.8,995.7 159.7,995.7 160.5,995.7 161.3,995.7 162.1,995.7 162.9,995.7 163.7,995.7 164.6,995.7 165.4,995.7 166.2,995.6 167.0,995.6 167.8,995.6 168.7,995.5 169.5,995.5 170.3,995.4 171.1,995.3 171.9,995.3 172.8,995.2 173.6,995.1 174.4,995.0 175.2,995.0 176.0,994.9 176.9,994.8 177.7,994.7 178.5,994.5 179.3,994.4 180.1,994.3 181.0,994.2 181.8,994.0 182.6,993.9 183.4,993.7 184.2,993.6 185.0,993.4 185.9,993.2 186.7,993.0 187.5,992.9 188.3,992.7 189.1,992.5 190.0,992.3 190.8,992.0 191.6,991.8 192.4,991.6 193.2,991.3 194.1,991.1 194.9,990.8 195.7,990.6 196.5,990.3 197.3,990.0 198.2,989.7 199.0,989.4 199.8,989.1 200.6,988.8 201.4,988.4 202.2,988.1 203.1,987.8 203.9,987.4 204.7,987.0 205.5,986.7 206.3,986.3 207.2,985.9 208.0,985.4 208.8,985.0 209.6,984.6 210.4,984.1 211.3,983.7 212.1,983.2 212.9,982.7 213.7,982.2 214.5,981.7 215.4,981.2 216.2,980.6 217.0,980.0 217.8,979.5 218.6,978.9 219.4,978.2 220.3,977.6 221.1,976.9 221.9,976.3 222.7,975.6 223.5,974.9 224.4,974.1 225.2,973.3 226.0,972.6 226.8,971.7 227.6,970.9 228.5,970.0 229.3,969.1 230.1,968.2 230.9,967.3 231.7,966.3 232.6,965.3 233.4,964.2 234.2,963.1 235.0,962.0 235.8,960.9 236.6,959.7 237.5,958.5 238.3,957.2 239.1,955.9 239.9,954.6 240.7,953.2 241.6,951.8 242.4,950.3 243.2,948.8 244.0,947.3 244.8,945.7 245.7,944.1 246.5,942.4 247.3,940.7 248.1,939.0 248.9,937.2 249.8,935.4 250.6,933.5 251.4,931.6 252.2,929.7 253.0,927.7 253.9,925.7 254.7,923.7 255.5,921.6 256.3,919.6 257.1,917.4 257.9,915.3 258.8,913.2 259.6,911.0 260.4,908.8 261.2,906.6 262.0,904.4 262.9,902.2 263.7,900.0 264.5,897.8 265.3,895.6 266.1,893.4 267.0,891.2 267.8,889.1 268.6,887.0 269.4,884.9 270.2,882.8 271.1,880.8 271.9,878.8 272.7,876.9 273.5,875.0 274.3,873.2 275.1,871.4 276.0,869.8 276.8,868.1 277.6,866.6 278.4,865.1 279.2,863.7 280.1,862.4 280.9,861.2 281.7,860.1 282.5,859.1 283.3,858.1 284.2,857.3 285.0,856.6 285.8,856.0 286.6,855.5 287.4,855.1 288.3,854.8 289.1,854.6 289.9,854.5 290.7,854.6 291.5,854.8 292.3,855.1 293.2,855.6 294.0,856.2 294.8,857.0 295.6,857.9 296.4,858.9 297.3,860.1 298.1,861.3 298.9,862.7 299.7,864.3 300.5,865.9 301.4,867.7 302.2,869.5 303.0,871.5 303.8,873.5 304.6,875.6 305.5,877.9 306.3,880.2 307.1,882.5 307.9,885.0 308.7,887.4 309.5,890.0 310.4,892.6 311.2,895.2 312.0,897.9 312.8,900.6 313.6,903.3 314.5,906.1 315.3,908.9 316.1,911.6 316.9,914.4 317.7,917.2 318.6,919.9 319.4,922.7 320.2,925.4 321.0,928.1 321.8,930.8 322.7,933.5 323.5,936.1 324.3,938.7 325.1,941.3 325.9,943.8 326.7,946.3 327.6,948.8 328.4,951.2 329.2,953.5 330.0,955.8 330.8,958.1 331.7,960.3 332.5,962.4 333.3,964.5 334.1,966.6 334.9,968.6 335.8,970.5 336.6,972.4 337.4,974.2 338.2,976.0 339.0,977.8 339.9,979.4 340.7,981.1 341.5,982.7 342.3,984.2 343.1,985.7 344.0,987.2 344.8,988.6 345.6,989.9 346.4,991.2 347.2,992.5 348.0,993.8 348.9,995.0 349.7,996.1 350.5,997.2 351.3,998.3 352.1,999.4 353.0,1000.4 353.8,1001.3 354.6,1002.3 355.4,1003.2 356.2,1004.1 357.1,1004.9 357.9,1005.7 358.7,1006.5 359.5,1007.2 360.3,1008.0 361.2,1008.6 362.0,1009.3 362.8,1009.9 363.6,1010.5 364.4,1011.1 365.2,1011.6 366.1,1012.1 366.9,1012.6 367.7,1013.0 368.5,1013.4 369.3,1013.8 370.2,1014.2 371.0,1014.5 371.8,1014.8 372.6,1015.1 373.4,1015.3 374.3,1015.5 375.1,1015.7 375.9,1015.8 376.7,1015.9 377.5,1016.0 378.4,1016.1 379.2,1016.1 380.0,1016.1 380.8,1016.1 381.6,1016.1 382.4,1016.1 383.3,1016.0 384.1,1015.9 384.9,1015.8 385.7,1015.6 386.5,1015.5 387.4,1015.3 388.2,1015.1 389.0,1014.9 389.8,1014.7 390.6,1014.5 391.5,1014.2 392.3,1014.0 393.1,1013.7 393.9,1013.4 394.7,1013.1 395.6,1012.8 396.4,1012.5 397.2,1012.1 398.0,1011.8 398.8,1011.4 399.6,1011.1 400.5,1010.7 401.3,1010.3 402.1,1009.9 402.9,1009.5 403.7,1009.2 404.6,1008.8 405.4,1008.4 406.2,1008.0 407.0,1007.6 407.8,1007.2 408.7,1006.8 409.5,1006.4 410.3,1006.0 411.1,1005.6 411.9,1005.2 412.8,1004.8 413.6,1004.4 414.4,1004.0 415.2,1003.6 416.0,1003.3 416.9,1002.9 417.7,1002.5" fill="none" stroke="#00B050" stroke-width="2.7" stroke-linejoin="round" stroke-linecap="round"/>
<polyline points="90.8,988.6 91.7,988.7 92.5,988.8 93.3,988.9 94.1,989.0 94.9,989.1 95.8,989.2 96.6,989.3 97.4,989.4 98.2,989.5 99.0,989.6 99.9,989.8 100.7,989.9 101.5,990.0 102.3,990.1 103.1,990.2 104.0,990.3 104.8,990.4 105.6,990.5 106.4,990.7 107.2,990.8 108.1,990.9 108.9,991.0 109.7,991.1 110.5,991.2 111.3,991.4 112.1,991.5 113.0,991.6 113.8,991.7 114.6,991.8 115.4,992.0 116.2,992.1 117.1,992.2 117.9,992.3 118.7,992.4 119.5,992.5 120.3,992.7 121.2,992.8 122.0,992.9 122.8,993.0 123.6,993.1 124.4,993.2 125.3,993.4 126.1,993.5 126.9,993.6 127.7,993.7 128.5,993.8 129.3,993.9 130.2,994.0 131.0,994.1 131.8,994.2 132.6,994.3 133.4,994.4 134.3,994.5 135.1,994.6 135.9,994.7 136.7,994.8 137.5,994.9 138.4,995.0 139.2,995.1 140.0,995.2 140.8,995.3 141.6,995.4 142.5,995.5 143.3,995.5 144.1,995.6 144.9,995.7 145.7,995.8 146.5,995.8 147.4,995.9 148.2,996.0 149.0,996.0 149.8,996.1 150.6,996.1 151.5,996.2 152.3,996.2 153.1,996.3 153.9,996.3 154.7,996.3 155.6,996.4 156.4,996.4 157.2,996.4 158.0,996.4 158.8,996.5 159.7,996.5 160.5,996.5 161.3,996.5 162.1,996.5 162.9,996.4 163.7,996.4 164.6,996.4 165.4,996.4 166.2,996.4 167.0,996.3 167.8,996.3 168.7,996.2 169.5,996.2 170.3,996.1 171.1,996.0 171.9,996.0 172.8,995.9 173.6,995.8 174.4,995.7 175.2,995.6 176.0,995.5 176.9,995.4 177.7,995.2 178.5,995.1 179.3,995.0 180.1,994.8 181.0,994.7 181.8,994.5 182.6,994.3 183.4,994.2 184.2,994.0 185.0,993.8 185.9,993.6 186.7,993.4 187.5,993.2 188.3,992.9 189.1,992.7 190.0,992.4 190.8,992.2 191.6,991.9 192.4,991.7 193.2,991.4 194.1,991.1 194.9,990.8 195.7,990.5 196.5,990.1 197.3,989.8 198.2,989.5 199.0,989.1 199.8,988.8 200.6,988.4 201.4,988.0 202.2,987.6 203.1,987.2 203.9,986.8 204.7,986.3 205.5,985.9 206.3,985.4 207.2,985.0 208.0,984.5 208.8,984.0 209.6,983.5 210.4,982.9 211.3,982.4 212.1,981.8 212.9,981.3 213.7,980.7 214.5,980.1 215.4,979.4 216.2,978.8 217.0,978.1 217.8,977.5 218.6,976.8 219.4,976.1 220.3,975.3 221.1,974.6 221.9,973.8 222.7,973.0 223.5,972.1 224.4,971.3 225.2,970.4 226.0,969.5 226.8,968.5 227.6,967.6 228.5,966.6 229.3,965.5 230.1,964.5 230.9,963.4 231.7,962.2 232.6,961.0 233.4,959.8 234.2,958.6 235.0,957.3 235.8,956.0 236.6,954.6 237.5,953.2 238.3,951.7 239.1,950.2 239.9,948.7 240.7,947.1 241.6,945.4 242.4,943.7 243.2,942.0 244.0,940.2 244.8,938.3 245.7,936.4 246.5,934.5 247.3,932.5 248.1,930.4 248.9,928.3 249.8,926.2 250.6,924.0 251.4,921.7 252.2,919.4 253.0,917.0 253.9,914.7 254.7,912.2 255.5,909.7 256.3,907.2 257.1,904.7 257.9,902.1 258.8,899.4 259.6,896.8 260.4,894.1 261.2,891.4 262.0,888.7 262.9,885.9 263.7,883.2 264.5,880.4 265.3,877.7 266.1,874.9 267.0,872.2 267.8,869.4 268.6,866.7 269.4,864.0 270.2,861.4 271.1,858.7 271.9,856.1 272.7,853.6 273.5,851.1 274.3,848.7 275.1,846.3 276.0,844.0 276.8,841.7 277.6,839.6 278.4,837.5 279.2,835.5 280.1,833.7 280.9,831.9 281.7,830.2 282.5,828.6 283.3,827.2 284.2,825.9 285.0,824.6 285.8,823.6 286.6,822.6 287.4,821.8 288.3,821.1 289.1,820.5 289.9,820.1 290.7,819.8 291.5,819.6 292.3,819.6 293.2,819.8 294.0,820.2 294.8,820.7 295.6,821.4 296.4,822.2 297.3,823.3 298.1,824.5 298.9,825.8 299.7,827.4 300.5,829.0 301.4,830.9 302.2,832.8 303.0,834.9 303.8,837.2 304.6,839.5 305.5,842.0 306.3,844.6 307.1,847.3 307.9,850.1 308.7,853.0 309.5,856.0 310.4,859.0 311.2,862.1 312.0,865.3 312.8,868.5 313.6,871.8 314.5,875.1 315.3,878.4 316.1,881.8 316.9,885.2 317.7,888.6 318.6,891.9 319.4,895.3 320.2,898.7 321.0,902.0 321.8,905.4 322.7,908.7 323.5,911.9 324.3,915.2 325.1,918.4 325.9,921.5 326.7,924.6 327.6,927.6 328.4,930.6 329.2,933.5 330.0,936.4 330.8,939.2 331.7,941.9 332.5,944.5 333.3,947.1 334.1,949.6 334.9,952.1 335.8,954.4 336.6,956.7 337.4,959.0 338.2,961.1 339.0,963.2 339.9,965.2 340.7,967.2 341.5,969.1 342.3,970.9 343.1,972.6 344.0,974.3 344.8,976.0 345.6,977.5 346.4,979.0 347.2,980.5 348.0,981.9 348.9,983.2 349.7,984.5 350.5,985.8 351.3,987.0 352.1,988.1 353.0,989.2 353.8,990.3 354.6,991.3 355.4,992.3 356.2,993.2 357.1,994.2 357.9,995.0 358.7,995.9 359.5,996.7 360.3,997.5 361.2,998.3 362.0,999.0 362.8,999.7 363.6,1000.4 364.4,1001.0 365.2,1001.7 366.1,1002.3 366.9,1002.9 367.7,1003.4 368.5,1004.0 369.3,1004.5 370.2,1005.0 371.0,1005.5 371.8,1006.0 372.6,1006.4 373.4,1006.8 374.3,1007.2 375.1,1007.6 375.9,1008.0 376.7,1008.3 377.5,1008.6 378.4,1008.9 379.2,1009.2 380.0,1009.5 380.8,1009.7 381.6,1009.9 382.4,1010.1 383.3,1010.3 384.1,1010.5 384.9,1010.6 385.7,1010.7 386.5,1010.8 387.4,1010.9 388.2,1010.9 389.0,1011.0 389.8,1011.0 390.6,1011.0 391.5,1010.9 392.3,1010.9 393.1,1010.9 393.9,1010.8 394.7,1010.7 395.6,1010.6 396.4,1010.5 397.2,1010.4 398.0,1010.2 398.8,1010.1 399.6,1009.9 400.5,1009.8 401.3,1009.6 402.1,1009.4 402.9,1009.2 403.7,1008.9 404.6,1008.7 405.4,1008.5 406.2,1008.2 407.0,1008.0 407.8,1007.7 408.7,1007.4 409.5,1007.2 410.3,1006.9 411.1,1006.6 411.9,1006.3 412.8,1006.0 413.6,1005.7 414.4,1005.4 415.2,1005.1 416.0,1004.8 416.9,1004.5 417.7,1004.2" fill="none" stroke="#A9D18E" stroke-width="2.7" stroke-linejoin="round" stroke-linecap="round"/>
<polyline points="90.8,988.1 91.7,988.2 92.5,988.3 93.3,988.4 94.1,988.6 94.9,988.7 95.8,988.8 96.6,989.0 97.4,989.1 98.2,989.2 99.0,989.4 99.9,989.5 100.7,989.6 101.5,989.8 102.3,989.9 103.1,990.0 104.0,990.2 104.8,990.3 105.6,990.4 106.4,990.6 107.2,990.7 108.1,990.9 108.9,991.0 109.7,991.1 110.5,991.3 111.3,991.4 112.1,991.6 113.0,991.7 113.8,991.8 114.6,992.0 115.4,992.1 116.2,992.3 117.1,992.4 117.9,992.5 118.7,992.7 119.5,992.8 120.3,993.0 121.2,993.1 122.0,993.2 122.8,993.4 123.6,993.5 124.4,993.7 125.3,993.8 126.1,993.9 126.9,994.1 127.7,994.2 128.5,994.3 129.3,994.5 130.2,994.6 131.0,994.7 131.8,994.9 132.6,995.0 133.4,995.1 134.3,995.2 135.1,995.4 135.9,995.5 136.7,995.6 137.5,995.7 138.4,995.8 139.2,995.9 140.0,996.0 140.8,996.1 141.6,996.2 142.5,996.3 143.3,996.4 144.1,996.5 144.9,996.6 145.7,996.7 146.5,996.8 147.4,996.9 148.2,997.0 149.0,997.0 149.8,997.1 150.6,997.2 151.5,997.2 152.3,997.3 153.1,997.3 153.9,997.4 154.7,997.4 155.6,997.5 156.4,997.5 157.2,997.5 158.0,997.6 158.8,997.6 159.7,997.6 160.5,997.6 161.3,997.6 162.1,997.6 162.9,997.6 163.7,997.6 164.6,997.5 165.4,997.5 166.2,997.5 167.0,997.4 167.8,997.4 168.7,997.3 169.5,997.3 170.3,997.2 171.1,997.1 171.9,997.0 172.8,996.9 173.6,996.8 174.4,996.7 175.2,996.6 176.0,996.5 176.9,996.4 177.7,996.2 178.5,996.1 179.3,995.9 180.1,995.7 181.0,995.6 181.8,995.4 182.6,995.2 183.4,995.0 184.2,994.7 185.0,994.5 185.9,994.3 186.7,994.0 187.5,993.8 188.3,993.5 189.1,993.2 190.0,993.0 190.8,992.7 191.6,992.4 192.4,992.0 193.2,991.7 194.1,991.4 194.9,991.0 195.7,990.6 196.5,990.3 197.3,989.9 198.2,989.5 199.0,989.1 199.8,988.6 200.6,988.2 201.4,987.7 202.2,987.3 203.1,986.8 203.9,986.3 204.7,985.8 205.5,985.3 206.3,984.7 207.2,984.2 208.0,983.6 208.8,983.1 209.6,982.5 210.4,981.8 211.3,981.2 212.1,980.6 212.9,979.9 213.7,979.2 214.5,978.5 215.4,977.8 216.2,977.0 217.0,976.3 217.8,975.5 218.6,974.7 219.4,973.8 220.3,973.0 221.1,972.1 221.9,971.2 222.7,970.2 223.5,969.3 224.4,968.3 225.2,967.2 226.0,966.2 226.8,965.1 227.6,964.0 228.5,962.8 229.3,961.6 230.1,960.4 230.9,959.1 231.7,957.8 232.6,956.4 233.4,955.0 234.2,953.6 235.0,952.1 235.8,950.5 236.6,948.9 237.5,947.3 238.3,945.6 239.1,943.9 239.9,942.1 240.7,940.2 241.6,938.3 242.4,936.3 243.2,934.3 244.0,932.2 244.8,930.1 245.7,927.9 246.5,925.6 247.3,923.3 248.1,920.9 248.9,918.5 249.8,916.0 250.6,913.4 251.4,910.8 252.2,908.1 253.0,905.4 253.9,902.6 254.7,899.7 255.5,896.9 256.3,893.9 257.1,890.9 257.9,887.9 258.8,884.8 259.6,881.7 260.4,878.6 261.2,875.4 262.0,872.2 262.9,869.0 263.7,865.7 264.5,862.5 265.3,859.2 266.1,856.0 267.0,852.7 267.8,849.5 268.6,846.3 269.4,843.1 270.2,839.9 271.1,836.8 271.9,833.7 272.7,830.6 273.5,827.7 274.3,824.7 275.1,821.9 276.0,819.1 276.8,816.4 277.6,813.8 278.4,811.3 279.2,808.9 280.1,806.6 280.9,804.4 281.7,802.4 282.5,800.4 283.3,798.6 284.2,797.0 285.0,795.5 285.8,794.1 286.6,792.8 287.4,791.8 288.3,790.8 289.1,790.1 289.9,789.5 290.7,789.0 291.5,788.7 292.3,788.6 293.2,788.6 294.0,788.9 294.8,789.3 295.6,789.8 296.4,790.6 297.3,791.5 298.1,792.5 298.9,793.8 299.7,795.2 300.5,796.7 301.4,798.4 302.2,800.3 303.0,802.3 303.8,804.4 304.6,806.7 305.5,809.1 306.3,811.6 307.1,814.2 307.9,817.0 308.7,819.9 309.5,822.8 310.4,825.9 311.2,829.0 312.0,832.2 312.8,835.5 313.6,838.9 314.5,842.3 315.3,845.8 316.1,849.3 316.9,852.8 317.7,856.4 318.6,860.0 319.4,863.7 320.2,867.3 321.0,870.9 321.8,874.6 322.7,878.3 323.5,881.9 324.3,885.5 325.1,889.1 325.9,892.7 326.7,896.2 327.6,899.8 328.4,903.2 329.2,906.7 330.0,910.1 330.8,913.4 331.7,916.7 332.5,919.9 333.3,923.1 334.1,926.3 334.9,929.3 335.8,932.3 336.6,935.3 337.4,938.1 338.2,940.9 339.0,943.7 339.9,946.3 340.7,949.0 341.5,951.5 342.3,954.0 343.1,956.4 344.0,958.7 344.8,961.0 345.6,963.2 346.4,965.3 347.2,967.4 348.0,969.4 348.9,971.4 349.7,973.3 350.5,975.1 351.3,976.9 352.1,978.6 353.0,980.3 353.8,981.9 354.6,983.4 355.4,984.9 356.2,986.4 357.1,987.8 357.9,989.2 358.7,990.5 359.5,991.8 360.3,993.0 361.2,994.2 362.0,995.3 362.8,996.4 363.6,997.5 364.4,998.5 365.2,999.5 366.1,1000.4 366.9,1001.3 367.7,1002.2 368.5,1003.1 369.3,1003.9 370.2,1004.6 371.0,1005.4 371.8,1006.1 372.6,1006.8 373.4,1007.4 374.3,1008.0 375.1,1008.6 375.9,1009.2 376.7,1009.7 377.5,1010.2 378.4,1010.6 379.2,1011.0 380.0,1011.4 380.8,1011.8 381.6,1012.1 382.4,1012.4 383.3,1012.7 384.1,1013.0 384.9,1013.2 385.7,1013.4 386.5,1013.5 387.4,1013.7 388.2,1013.8 389.0,1013.8 389.8,1013.9 390.6,1013.9 391.5,1013.9 392.3,1013.9 393.1,1013.9 393.9,1013.8 394.7,1013.8 395.6,1013.7 396.4,1013.5 397.2,1013.4 398.0,1013.3 398.8,1013.1 399.6,1012.9 400.5,1012.7 401.3,1012.5 402.1,1012.3 402.9,1012.1 403.7,1011.8 404.6,1011.5 405.4,1011.3 406.2,1011.0 407.0,1010.7 407.8,1010.4 408.7,1010.1 409.5,1009.7 410.3,1009.4 411.1,1009.1 411.9,1008.7 412.8,1008.4 413.6,1008.0 414.4,1007.7 415.2,1007.3 416.0,1006.9 416.9,1006.6 417.7,1006.2" fill="none" stroke="#BF9000" stroke-width="2.7" stroke-linejoin="round" stroke-linecap="round"/>
<polyline points="90.8,987.1 91.7,987.2 92.5,987.4 93.3,987.6 94.1,987.7 94.9,987.9 95.8,988.1 96.6,988.2 97.4,988.4 98.2,988.6 99.0,988.8 99.9,988.9 100.7,989.1 101.5,989.3 102.3,989.5 103.1,989.7 104.0,989.8 104.8,990.0 105.6,990.2 106.4,990.4 107.2,990.6 108.1,990.8 108.9,990.9 109.7,991.1 110.5,991.3 111.3,991.5 112.1,991.7 113.0,991.9 113.8,992.1 114.6,992.2 115.4,992.4 116.2,992.6 117.1,992.8 117.9,993.0 118.7,993.2 119.5,993.4 120.3,993.6 121.2,993.7 122.0,993.9 122.8,994.1 123.6,994.3 124.4,994.5 125.3,994.7 126.1,994.8 126.9,995.0 127.7,995.2 128.5,995.4 129.3,995.6 130.2,995.7 131.0,995.9 131.8,996.1 132.6,996.2 133.4,996.4 134.3,996.6 135.1,996.7 135.9,996.9 136.7,997.0 137.5,997.2 138.4,997.3 139.2,997.5 140.0,997.6 140.8,997.8 141.6,997.9 142.5,998.0 143.3,998.2 144.1,998.3 144.9,998.4 145.7,998.5 146.5,998.7 147.4,998.8 148.2,998.9 149.0,999.0 149.8,999.1 150.6,999.2 151.5,999.2 152.3,999.3 153.1,999.4 153.9,999.5 154.7,999.5 155.6,999.6 156.4,999.6 157.2,999.7 158.0,999.7 158.8,999.7 159.7,999.7 160.5,999.8 161.3,999.8 162.1,999.8 162.9,999.8 163.7,999.7 164.6,999.7 165.4,999.7 166.2,999.6 167.0,999.6 167.8,999.5 168.7,999.5 169.5,999.4 170.3,999.3 171.1,999.2 171.9,999.1 172.8,999.0 173.6,998.9 174.4,998.7 175.2,998.6 176.0,998.5 176.9,998.3 177.7,998.1 178.5,997.9 179.3,997.7 180.1,997.5 181.0,997.3 181.8,997.1 182.6,996.9 183.4,996.6 184.2,996.3 185.0,996.1 185.9,995.8 186.7,995.5 187.5,995.2 188.3,994.9 189.1,994.5 190.0,994.2 190.8,993.8 191.6,993.4 192.4,993.1 193.2,992.7 194.1,992.2 194.9,991.8 195.7,991.4 196.5,990.9 197.3,990.5 198.2,990.0 199.0,989.5 199.8,989.0 200.6,988.4 201.4,987.9 202.2,987.3 203.1,986.8 203.9,986.2 204.7,985.6 205.5,985.0 206.3,984.3 207.2,983.7 208.0,983.0 208.8,982.3 209.6,981.6 210.4,980.9 211.3,980.1 212.1,979.3 212.9,978.5 213.7,977.7 214.5,976.9 215.4,976.0 216.2,975.2 217.0,974.3 217.8,973.3 218.6,972.4 219.4,971.4 220.3,970.4 221.1,969.3 221.9,968.3 222.7,967.2 223.5,966.1 224.4,964.9 225.2,963.7 226.0,962.5 226.8,961.2 227.6,959.9 228.5,958.5 229.3,957.2 230.1,955.7 230.9,954.3 231.7,952.7 232.6,951.2 233.4,949.6 234.2,947.9 235.0,946.2 235.8,944.4 236.6,942.6 237.5,940.7 238.3,938.8 239.1,936.8 239.9,934.8 240.7,932.7 241.6,930.5 242.4,928.3 243.2,926.0 244.0,923.7 244.8,921.2 245.7,918.8 246.5,916.2 247.3,913.6 248.1,910.9 248.9,908.2 249.8,905.3 250.6,902.5 251.4,899.5 252.2,896.5 253.0,893.5 253.9,890.3 254.7,887.1 255.5,883.9 256.3,880.6 257.1,877.2 257.9,873.8 258.8,870.4 259.6,866.9 260.4,863.4 261.2,859.8 262.0,856.2 262.9,852.6 263.7,848.9 264.5,845.3 265.3,841.6 266.1,837.9 267.0,834.2 267.8,830.6 268.6,826.9 269.4,823.3 270.2,819.6 271.1,816.0 271.9,812.5 272.7,809.0 273.5,805.5 274.3,802.1 275.1,798.8 276.0,795.6 276.8,792.4 277.6,789.3 278.4,786.3 279.2,783.5 280.1,780.7 280.9,778.0 281.7,775.5 282.5,773.1 283.3,770.8 284.2,768.7 285.0,766.7 285.8,764.9 286.6,763.2 287.4,761.7 288.3,760.3 289.1,759.1 289.9,758.1 290.7,757.2 291.5,756.6 292.3,756.1 293.2,755.8 294.0,755.6 294.8,755.7 295.6,755.9 296.4,756.2 297.3,756.7 298.1,757.3 298.9,758.1 299.7,759.1 300.5,760.2 301.4,761.4 302.2,762.8 303.0,764.3 303.8,766.0 304.6,767.8 305.5,769.7 306.3,771.8 307.1,773.9 307.9,776.2 308.7,778.6 309.5,781.2 310.4,783.8 311.2,786.5 312.0,789.3 312.8,792.2 313.6,795.2 314.5,798.3 315.3,801.5 316.1,804.7 316.9,808.0 317.7,811.4 318.6,814.8 319.4,818.2 320.2,821.8 321.0,825.3 321.8,828.9 322.7,832.5 323.5,836.1 324.3,839.8 325.1,843.4 325.9,847.1 326.7,850.8 327.6,854.4 328.4,858.1 329.2,861.8 330.0,865.4 330.8,869.0 331.7,872.6 332.5,876.2 333.3,879.8 334.1,883.3 334.9,886.8 335.8,890.2 336.6,893.6 337.4,897.0 338.2,900.3 339.0,903.5 339.9,906.8 340.7,909.9 341.5,913.0 342.3,916.1 343.1,919.1 344.0,922.0 344.8,924.8 345.6,927.7 346.4,930.4 347.2,933.1 348.0,935.7 348.9,938.3 349.7,940.8 350.5,943.2 351.3,945.6 352.1,947.9 353.0,950.1 353.8,952.3 354.6,954.5 355.4,956.5 356.2,958.5 357.1,960.5 357.9,962.4 358.7,964.2 359.5,966.0 360.3,967.7 361.2,969.4 362.0,971.0 362.8,972.6 363.6,974.1 364.4,975.6 365.2,977.0 366.1,978.4 366.9,979.7 367.7,981.0 368.5,982.3 369.3,983.5 370.2,984.6 371.0,985.8 371.8,986.8 372.6,987.9 373.4,988.9 374.3,989.9 375.1,990.8 375.9,991.7 376.7,992.6 377.5,993.4 378.4,994.3 379.2,995.0 380.0,995.8 380.8,996.5 381.6,997.2 382.4,997.9 383.3,998.5 384.1,999.1 384.9,999.7 385.7,1000.3 386.5,1000.8 387.4,1001.3 388.2,1001.8 389.0,1002.2 389.8,1002.6 390.6,1003.0 391.5,1003.4 392.3,1003.8 393.1,1004.1 393.9,1004.4 394.7,1004.7 395.6,1005.0 396.4,1005.2 397.2,1005.4 398.0,1005.6 398.8,1005.8 399.6,1005.9 400.5,1006.0 401.3,1006.1 402.1,1006.2 402.9,1006.3 403.7,1006.3 404.6,1006.4 405.4,1006.4 406.2,1006.4 407.0,1006.4 407.8,1006.4 408.7,1006.4 409.5,1006.4 410.3,1006.4 411.1,1006.3 411.9,1006.2 412.8,1006.2 413.6,1006.1 414.4,1006.0 415.2,1005.9 416.0,1005.8 416.9,1005.7 417.7,1005.6" fill="none" stroke="#FFC000" stroke-width="2.7" stroke-linejoin="round" stroke-linecap="round"/>
<polyline points="90.8,977.1 91.7,977.4 92.5,977.8 93.3,978.2 94.1,978.5 94.9,978.9 95.8,979.3 96.6,979.6 97.4,980.0 98.2,980.4 99.0,980.8 99.9,981.1 100.7,981.5 101.5,981.9 102.3,982.3 103.1,982.7 104.0,983.1 104.8,983.5 105.6,983.9 106.4,984.2 107.2,984.6 108.1,985.0 108.9,985.4 109.7,985.8 110.5,986.2 111.3,986.6 112.1,987.0 113.0,987.4 113.8,987.8 114.6,988.2 115.4,988.7 116.2,989.1 117.1,989.5 117.9,989.9 118.7,990.3 119.5,990.7 120.3,991.1 121.2,991.5 122.0,991.9 122.8,992.3 123.6,992.7 124.4,993.1 125.3,993.5 126.1,993.9 126.9,994.3 127.7,994.7 128.5,995.1 129.3,995.4 130.2,995.8 131.0,996.2 131.8,996.6 132.6,997.0 133.4,997.3 134.3,997.7 135.1,998.1 135.9,998.4 136.7,998.8 137.5,999.1 138.4,999.5 139.2,999.8 140.0,1000.2 140.8,1000.5 141.6,1000.8 142.5,1001.1 143.3,1001.5 144.1,1001.8 144.9,1002.1 145.7,1002.4 146.5,1002.7 147.4,1002.9 148.2,1003.2 149.0,1003.5 149.8,1003.7 150.6,1004.0 151.5,1004.2 152.3,1004.4 153.1,1004.7 153.9,1004.9 154.7,1005.1 155.6,1005.3 156.4,1005.4 157.2,1005.6 158.0,1005.8 158.8,1005.9 159.7,1006.1 160.5,1006.2 161.3,1006.3 162.1,1006.4 162.9,1006.5 163.7,1006.6 164.6,1006.6 165.4,1006.7 166.2,1006.7 167.0,1006.8 167.8,1006.8 168.7,1006.8 169.5,1006.8 170.3,1006.7 171.1,1006.7 171.9,1006.6 172.8,1006.6 173.6,1006.5 174.4,1006.4 175.2,1006.3 176.0,1006.1 176.9,1006.0 177.7,1005.8 178.5,1005.6 179.3,1005.4 180.1,1005.2 181.0,1005.0 181.8,1004.7 182.6,1004.5 183.4,1004.2 184.2,1003.9 185.0,1003.6 185.9,1003.2 186.7,1002.9 187.5,1002.5 188.3,1002.1 189.1,1001.7 190.0,1001.3 190.8,1000.8 191.6,1000.4 192.4,999.9 193.2,999.4 194.1,998.9 194.9,998.3 195.7,997.8 196.5,997.2 197.3,996.6 198.2,996.0 199.0,995.3 199.8,994.7 200.6,994.0 201.4,993.3 202.2,992.6 203.1,991.8 203.9,991.1 204.7,990.3 205.5,989.5 206.3,988.6 207.2,987.8 208.0,986.9 208.8,986.0 209.6,985.0 210.4,984.1 211.3,983.1 212.1,982.1 212.9,981.0 213.7,980.0 214.5,978.9 215.4,977.7 216.2,976.6 217.0,975.4 217.8,974.1 218.6,972.9 219.4,971.6 220.3,970.3 221.1,968.9 221.9,967.5 222.7,966.0 223.5,964.5 224.4,963.0 225.2,961.4 226.0,959.8 226.8,958.1 227.6,956.4 228.5,954.6 229.3,952.8 230.1,950.9 230.9,948.9 231.7,946.9 232.6,944.8 233.4,942.7 234.2,940.5 235.0,938.2 235.8,935.9 236.6,933.5 237.5,931.0 238.3,928.5 239.1,925.8 239.9,923.1 240.7,920.3 241.6,917.5 242.4,914.5 243.2,911.5 244.0,908.4 244.8,905.2 245.7,901.9 246.5,898.6 247.3,895.2 248.1,891.6 248.9,888.0 249.8,884.4 250.6,880.6 251.4,876.8 252.2,872.9 253.0,868.9 253.9,864.8 254.7,860.7 255.5,856.6 256.3,852.3 257.1,848.1 257.9,843.7 258.8,839.4 259.6,834.9 260.4,830.5 261.2,826.0 262.0,821.6 262.9,817.1 263.7,812.6 264.5,808.1 265.3,803.6 266.1,799.2 267.0,794.8 267.8,790.4 268.6,786.1 269.4,781.8 270.2,777.6 271.1,773.5 271.9,769.4 272.7,765.5 273.5,761.6 274.3,757.9 275.1,754.3 276.0,750.9 276.8,747.5 277.6,744.4 278.4,741.4 279.2,738.5 280.1,735.9 280.9,733.4 281.7,731.1 282.5,729.0 283.3,727.1 284.2,725.4 285.0,723.9 285.8,722.7 286.6,721.7 287.4,720.8 288.3,720.2 289.1,719.9 289.9,719.8 290.7,719.9 291.5,720.3 292.3,721.0 293.2,722.0 294.0,723.3 294.8,724.9 295.6,726.7 296.4,728.8 297.3,731.2 298.1,733.8 298.9,736.7 299.7,739.8 300.5,743.1 301.4,746.7 302.2,750.4 303.0,754.4 303.8,758.5 304.6,762.8 305.5,767.3 306.3,772.0 307.1,776.7 307.9,781.6 308.7,786.6 309.5,791.8 310.4,796.9 311.2,802.2 312.0,807.6 312.8,812.9 313.6,818.4 314.5,823.8 315.3,829.3 316.1,834.8 316.9,840.2 317.7,845.7 318.6,851.1 319.4,856.5 320.2,861.8 321.0,867.1 321.8,872.4 322.7,877.5 323.5,882.6 324.3,887.7 325.1,892.6 325.9,897.4 326.7,902.2 327.6,906.9 328.4,911.4 329.2,915.9 330.0,920.2 330.8,924.5 331.7,928.6 332.5,932.7 333.3,936.6 334.1,940.4 334.9,944.1 335.8,947.7 336.6,951.3 337.4,954.7 338.2,958.0 339.0,961.2 339.9,964.3 340.7,967.3 341.5,970.2 342.3,973.0 343.1,975.8 344.0,978.5 344.8,981.0 345.6,983.5 346.4,986.0 347.2,988.3 348.0,990.6 348.9,992.8 349.7,995.0 350.5,997.1 351.3,999.1 352.1,1001.1 353.0,1003.0 353.8,1004.9 354.6,1006.7 355.4,1008.4 356.2,1010.2 357.1,1011.8 357.9,1013.4 358.7,1015.0 359.5,1016.5 360.3,1018.0 361.2,1019.5 362.0,1020.8 362.8,1022.2 363.6,1023.5 364.4,1024.8 365.2,1026.0 366.1,1027.1 366.9,1028.3 367.7,1029.3 368.5,1030.4 369.3,1031.3 370.2,1032.3 371.0,1033.2 371.8,1034.0 372.6,1034.8 373.4,1035.5 374.3,1036.2 375.1,1036.8 375.9,1037.4 376.7,1037.9 377.5,1038.3 378.4,1038.7 379.2,1039.1 380.0,1039.4 380.8,1039.6 381.6,1039.8 382.4,1039.9 383.3,1040.0 384.1,1040.0 384.9,1040.0 385.7,1039.9 386.5,1039.7 387.4,1039.5 388.2,1039.2 389.0,1038.9 389.8,1038.6 390.6,1038.1 391.5,1037.7 392.3,1037.2 393.1,1036.6 393.9,1036.0 394.7,1035.4 395.6,1034.7 396.4,1034.0 397.2,1033.3 398.0,1032.5 398.8,1031.7 399.6,1030.9 400.5,1030.0 401.3,1029.1 402.1,1028.2 402.9,1027.3 403.7,1026.4 404.6,1025.5 405.4,1024.5 406.2,1023.6 407.0,1022.6 407.8,1021.6 408.7,1020.7 409.5,1019.7 410.3,1018.7 411.1,1017.8 411.9,1016.8 412.8,1015.9 413.6,1015.0 414.4,1014.1 415.2,1013.2 416.0,1012.3 416.9,1011.4 417.7,1010.5" fill="none" stroke="#FF9999" stroke-width="2.7" stroke-linejoin="round" stroke-linecap="round"/>
<polyline points="90.8,975.6 91.7,976.0 92.5,976.4 93.3,976.8 94.1,977.2 94.9,977.6 95.8,978.0 96.6,978.4 97.4,978.8 98.2,979.2 99.0,979.6 99.9,980.0 100.7,980.4 101.5,980.8 102.3,981.2 103.1,981.6 104.0,982.0 104.8,982.5 105.6,982.9 106.4,983.3 107.2,983.7 108.1,984.2 108.9,984.6 109.7,985.0 110.5,985.4 111.3,985.9 112.1,986.3 113.0,986.7 113.8,987.2 114.6,987.6 115.4,988.0 116.2,988.5 117.1,988.9 117.9,989.3 118.7,989.8 119.5,990.2 120.3,990.6 121.2,991.1 122.0,991.5 122.8,991.9 123.6,992.4 124.4,992.8 125.3,993.2 126.1,993.6 126.9,994.1 127.7,994.5 128.5,994.9 129.3,995.3 130.2,995.7 131.0,996.1 131.8,996.5 132.6,996.9 133.4,997.3 134.3,997.7 135.1,998.1 135.9,998.5 136.7,998.9 137.5,999.3 138.4,999.6 139.2,1000.0 140.0,1000.4 140.8,1000.7 141.6,1001.1 142.5,1001.4 143.3,1001.8 144.1,1002.1 144.9,1002.4 145.7,1002.7 146.5,1003.0 147.4,1003.3 148.2,1003.6 149.0,1003.9 149.8,1004.2 150.6,1004.4 151.5,1004.7 152.3,1004.9 153.1,1005.2 153.9,1005.4 154.7,1005.6 155.6,1005.8 156.4,1006.0 157.2,1006.2 158.0,1006.4 158.8,1006.5 159.7,1006.7 160.5,1006.8 161.3,1006.9 162.1,1007.0 162.9,1007.1 163.7,1007.2 164.6,1007.3 165.4,1007.3 166.2,1007.4 167.0,1007.4 167.8,1007.4 168.7,1007.4 169.5,1007.4 170.3,1007.4 171.1,1007.3 171.9,1007.3 172.8,1007.2 173.6,1007.1 174.4,1007.0 175.2,1006.8 176.0,1006.7 176.9,1006.5 177.7,1006.4 178.5,1006.2 179.3,1005.9 180.1,1005.7 181.0,1005.5 181.8,1005.2 182.6,1004.9 183.4,1004.6 184.2,1004.3 185.0,1003.9 185.9,1003.6 186.7,1003.2 187.5,1002.8 188.3,1002.3 189.1,1001.9 190.0,1001.4 190.8,1001.0 191.6,1000.5 192.4,999.9 193.2,999.4 194.1,998.8 194.9,998.2 195.7,997.6 196.5,997.0 197.3,996.3 198.2,995.7 199.0,995.0 199.8,994.3 200.6,993.5 201.4,992.7 202.2,992.0 203.1,991.1 203.9,990.3 204.7,989.5 205.5,988.6 206.3,987.7 207.2,986.7 208.0,985.8 208.8,984.8 209.6,983.7 210.4,982.7 211.3,981.6 212.1,980.5 212.9,979.4 213.7,978.2 214.5,977.0 215.4,975.8 216.2,974.5 217.0,973.2 217.8,971.9 218.6,970.5 219.4,969.1 220.3,967.7 221.1,966.2 221.9,964.6 222.7,963.1 223.5,961.4 224.4,959.8 225.2,958.0 226.0,956.3 226.8,954.4 227.6,952.6 228.5,950.6 229.3,948.6 230.1,946.6 230.9,944.5 231.7,942.3 232.6,940.0 233.4,937.7 234.2,935.3 235.0,932.8 235.8,930.3 236.6,927.7 237.5,925.0 238.3,922.2 239.1,919.3 239.9,916.4 240.7,913.3 241.6,910.2 242.4,907.0 243.2,903.7 244.0,900.3 244.8,896.8 245.7,893.2 246.5,889.5 247.3,885.8 248.1,881.9 248.9,878.0 249.8,873.9 250.6,869.8 251.4,865.6 252.2,861.3 253.0,856.9 253.9,852.5 254.7,847.9 255.5,843.3 256.3,838.6 257.1,833.9 257.9,829.1 258.8,824.3 259.6,819.4 260.4,814.5 261.2,809.5 262.0,804.5 262.9,799.5 263.7,794.5 264.5,789.5 265.3,784.5 266.1,779.6 267.0,774.6 267.8,769.7 268.6,764.8 269.4,760.0 270.2,755.3 271.1,750.6 271.9,746.1 272.7,741.6 273.5,737.2 274.3,733.0 275.1,728.9 276.0,724.9 276.8,721.1 277.6,717.5 278.4,714.0 279.2,710.7 280.1,707.6 280.9,704.7 281.7,702.0 282.5,699.5 283.3,697.3 284.2,695.3 285.0,693.5 285.8,691.9 286.6,690.6 287.4,689.5 288.3,688.7 289.1,688.1 289.9,687.8 290.7,687.8 291.5,688.0 292.3,688.6 293.2,689.5 294.0,690.8 294.8,692.3 295.6,694.2 296.4,696.3 297.3,698.8 298.1,701.5 298.9,704.5 299.7,707.8 300.5,711.4 301.4,715.2 302.2,719.3 303.0,723.5 303.8,728.0 304.6,732.8 305.5,737.6 306.3,742.7 307.1,748.0 307.9,753.3 308.7,758.9 309.5,764.5 310.4,770.2 311.2,776.1 312.0,782.0 312.8,788.0 313.6,794.0 314.5,800.1 315.3,806.2 316.1,812.3 316.9,818.5 317.7,824.6 318.6,830.7 319.4,836.7 320.2,842.7 321.0,848.7 321.8,854.6 322.7,860.4 323.5,866.2 324.3,871.9 325.1,877.5 325.9,883.0 326.7,888.3 327.6,893.6 328.4,898.8 329.2,903.9 330.0,908.8 330.8,913.7 331.7,918.4 332.5,923.0 333.3,927.5 334.1,931.9 334.9,936.1 335.8,940.2 336.6,944.3 337.4,948.2 338.2,951.9 339.0,955.6 339.9,959.2 340.7,962.6 341.5,966.0 342.3,969.2 343.1,972.4 344.0,975.4 344.8,978.4 345.6,981.3 346.4,984.0 347.2,986.7 348.0,989.4 348.9,991.9 349.7,994.4 350.5,996.8 351.3,999.1 352.1,1001.4 353.0,1003.6 353.8,1005.7 354.6,1007.8 355.4,1009.8 356.2,1011.7 357.1,1013.6 357.9,1015.5 358.7,1017.3 359.5,1019.0 360.3,1020.7 361.2,1022.3 362.0,1023.9 362.8,1025.4 363.6,1026.9 364.4,1028.3 365.2,1029.7 366.1,1031.0 366.9,1032.3 367.7,1033.5 368.5,1034.7 369.3,1035.8 370.2,1036.9 371.0,1037.9 371.8,1038.8 372.6,1039.7 373.4,1040.5 374.3,1041.3 375.1,1042.0 375.9,1042.6 376.7,1043.2 377.5,1043.7 378.4,1044.2 379.2,1044.6 380.0,1044.9 380.8,1045.2 381.6,1045.4 382.4,1045.5 383.3,1045.6 384.1,1045.6 384.9,1045.6 385.7,1045.5 386.5,1045.3 387.4,1045.0 388.2,1044.8 389.0,1044.4 389.8,1044.0 390.6,1043.5 391.5,1043.0 392.3,1042.5 393.1,1041.8 393.9,1041.2 394.7,1040.5 395.6,1039.7 396.4,1038.9 397.2,1038.1 398.0,1037.2 398.8,1036.3 399.6,1035.4 400.5,1034.4 401.3,1033.5 402.1,1032.5 402.9,1031.4 403.7,1030.4 404.6,1029.4 405.4,1028.3 406.2,1027.2 407.0,1026.2 407.8,1025.1 408.7,1024.0 409.5,1022.9 410.3,1021.8 411.1,1020.8 411.9,1019.7 412.8,1018.7 413.6,1017.6 414.4,1016.6 415.2,1015.6 416.0,1014.6 416.9,1013.6 417.7,1012.7" fill="none" stroke="#FF0066" stroke-width="2.7" stroke-linejoin="round" stroke-linecap="round"/>
<polyline points="90.8,976.6 91.7,977.0 92.5,977.3 93.3,977.7 94.1,978.1 94.9,978.5 95.8,978.9 96.6,979.3 97.4,979.7 98.2,980.1 99.0,980.5 99.9,980.9 100.7,981.3 101.5,981.7 102.3,982.1 103.1,982.5 104.0,982.9 104.8,983.3 105.6,983.7 106.4,984.2 107.2,984.6 108.1,985.0 108.9,985.4 109.7,985.8 110.5,986.3 111.3,986.7 112.1,987.1 113.0,987.5 113.8,988.0 114.6,988.4 115.4,988.8 116.2,989.3 117.1,989.7 117.9,990.1 118.7,990.5 119.5,991.0 120.3,991.4 121.2,991.8 122.0,992.2 122.8,992.7 123.6,993.1 124.4,993.5 125.3,993.9 126.1,994.4 126.9,994.8 127.7,995.2 128.5,995.6 129.3,996.0 130.2,996.4 131.0,996.8 131.8,997.2 132.6,997.6 133.4,998.0 134.3,998.4 135.1,998.8 135.9,999.2 136.7,999.6 137.5,999.9 138.4,1000.3 139.2,1000.7 140.0,1001.0 140.8,1001.4 141.6,1001.7 142.5,1002.1 143.3,1002.4 144.1,1002.7 144.9,1003.0 145.7,1003.3 146.5,1003.7 147.4,1003.9 148.2,1004.2 149.0,1004.5 149.8,1004.8 150.6,1005.0 151.5,1005.3 152.3,1005.5 153.1,1005.8 153.9,1006.0 154.7,1006.2 155.6,1006.4 156.4,1006.6 157.2,1006.8 158.0,1006.9 158.8,1007.1 159.7,1007.2 160.5,1007.4 161.3,1007.5 162.1,1007.6 162.9,1007.7 163.7,1007.8 164.6,1007.8 165.4,1007.9 166.2,1007.9 167.0,1007.9 167.8,1008.0 168.7,1007.9 169.5,1007.9 170.3,1007.9 171.1,1007.8 171.9,1007.8 172.8,1007.7 173.6,1007.6 174.4,1007.5 175.2,1007.3 176.0,1007.2 176.9,1007.0 177.7,1006.8 178.5,1006.6 179.3,1006.4 180.1,1006.2 181.0,1005.9 181.8,1005.6 182.6,1005.3 183.4,1005.0 184.2,1004.7 185.0,1004.3 185.9,1004.0 186.7,1003.6 187.5,1003.2 188.3,1002.7 189.1,1002.3 190.0,1001.8 190.8,1001.3 191.6,1000.8 192.4,1000.3 193.2,999.7 194.1,999.1 194.9,998.5 195.7,997.9 196.5,997.3 197.3,996.6 198.2,995.9 199.0,995.2 199.8,994.5 200.6,993.7 201.4,992.9 202.2,992.1 203.1,991.3 203.9,990.5 204.7,989.6 205.5,988.7 206.3,987.7 207.2,986.8 208.0,985.8 208.8,984.8 209.6,983.8 210.4,982.7 211.3,981.6 212.1,980.5 212.9,979.3 213.7,978.1 214.5,976.9 215.4,975.7 216.2,974.4 217.0,973.1 217.8,971.7 218.6,970.3 219.4,968.9 220.3,967.4 221.1,965.9 221.9,964.4 222.7,962.8 223.5,961.1 224.4,959.4 225.2,957.7 226.0,955.9 226.8,954.0 227.6,952.1 228.5,950.2 229.3,948.2 230.1,946.1 230.9,943.9 231.7,941.7 232.6,939.4 233.4,937.1 234.2,934.7 235.0,932.2 235.8,929.6 236.6,926.9 237.5,924.2 238.3,921.4 239.1,918.5 239.9,915.5 240.7,912.4 241.6,909.2 242.4,906.0 243.2,902.6 244.0,899.2 244.8,895.6 245.7,891.9 246.5,888.2 247.3,884.3 248.1,880.4 248.9,876.4 249.8,872.2 250.6,868.0 251.4,863.6 252.2,859.2 253.0,854.7 253.9,850.1 254.7,845.4 255.5,840.6 256.3,835.7 257.1,830.8 257.9,825.8 258.8,820.7 259.6,815.6 260.4,810.4 261.2,805.1 262.0,799.9 262.9,794.6 263.7,789.2 264.5,783.9 265.3,778.5 266.1,773.2 267.0,767.9 267.8,762.6 268.6,757.3 269.4,752.1 270.2,746.9 271.1,741.8 271.9,736.7 272.7,731.8 273.5,726.9 274.3,722.2 275.1,717.6 276.0,713.1 276.8,708.8 277.6,704.6 278.4,700.6 279.2,696.8 280.1,693.1 280.9,689.7 281.7,686.4 282.5,683.4 283.3,680.6 284.2,678.1 285.0,675.7 285.8,673.6 286.6,671.8 287.4,670.2 288.3,668.9 289.1,667.9 289.9,667.1 290.7,666.6 291.5,666.4 292.3,666.4 293.2,666.8 294.0,667.6 294.8,668.7 295.6,670.1 296.4,671.9 297.3,674.0 298.1,676.4 298.9,679.2 299.7,682.2 300.5,685.6 301.4,689.2 302.2,693.1 303.0,697.3 303.8,701.7 304.6,706.4 305.5,711.3 306.3,716.4 307.1,721.7 307.9,727.2 308.7,732.9 309.5,738.7 310.4,744.7 311.2,750.8 312.0,757.0 312.8,763.3 313.6,769.7 314.5,776.2 315.3,782.7 316.1,789.2 316.9,795.8 317.7,802.3 318.6,808.9 319.4,815.5 320.2,822.0 321.0,828.5 321.8,834.9 322.7,841.3 323.5,847.7 324.3,853.9 325.1,860.1 325.9,866.2 326.7,872.1 327.6,878.0 328.4,883.8 329.2,889.5 330.0,895.0 330.8,900.4 331.7,905.7 332.5,910.9 333.3,916.0 334.1,920.9 334.9,925.7 335.8,930.4 336.6,934.9 337.4,939.4 338.2,943.7 339.0,947.8 339.9,951.9 340.7,955.8 341.5,959.6 342.3,963.3 343.1,966.9 344.0,970.4 344.8,973.8 345.6,977.1 346.4,980.3 347.2,983.4 348.0,986.3 348.9,989.2 349.7,992.1 350.5,994.8 351.3,997.4 352.1,1000.0 353.0,1002.5 353.8,1004.9 354.6,1007.3 355.4,1009.5 356.2,1011.7 357.1,1013.9 357.9,1016.0 358.7,1018.0 359.5,1019.9 360.3,1021.8 361.2,1023.6 362.0,1025.4 362.8,1027.1 363.6,1028.8 364.4,1030.4 365.2,1031.9 366.1,1033.4 366.9,1034.8 367.7,1036.1 368.5,1037.4 369.3,1038.6 370.2,1039.8 371.0,1040.9 371.8,1042.0 372.6,1042.9 373.4,1043.8 374.3,1044.7 375.1,1045.5 375.9,1046.2 376.7,1046.8 377.5,1047.4 378.4,1047.9 379.2,1048.3 380.0,1048.7 380.8,1049.0 381.6,1049.2 382.4,1049.4 383.3,1049.5 384.1,1049.5 384.9,1049.4 385.7,1049.3 386.5,1049.1 387.4,1048.9 388.2,1048.6 389.0,1048.2 389.8,1047.8 390.6,1047.3 391.5,1046.7 392.3,1046.1 393.1,1045.5 393.9,1044.8 394.7,1044.0 395.6,1043.2 396.4,1042.4 397.2,1041.5 398.0,1040.5 398.8,1039.6 399.6,1038.6 400.5,1037.6 401.3,1036.5 402.1,1035.4 402.9,1034.3 403.7,1033.2 404.6,1032.1 405.4,1031.0 406.2,1029.8 407.0,1028.7 407.8,1027.5 408.7,1026.4 409.5,1025.2 410.3,1024.0 411.1,1022.9 411.9,1021.8 412.8,1020.6 413.6,1019.5 414.4,1018.4 415.2,1017.3 416.0,1016.3 416.9,1015.2 417.7,1014.2" fill="none" stroke="#CC0099" stroke-width="2.7" stroke-linejoin="round" stroke-linecap="round"/>
<polyline points="90.8,979.5 91.7,979.8 92.5,980.1 93.3,980.4 94.1,980.6 94.9,980.9 95.8,981.2 96.6,981.5 97.4,981.8 98.2,982.1 99.0,982.4 99.9,982.7 100.7,983.1 101.5,983.4 102.3,983.7 103.1,984.0 104.0,984.3 104.8,984.6 105.6,984.9 106.4,985.2 107.2,985.6 108.1,985.9 108.9,986.2 109.7,986.5 110.5,986.8 111.3,987.2 112.1,987.5 113.0,987.8 113.8,988.1 114.6,988.5 115.4,988.8 116.2,989.1 117.1,989.4 117.9,989.8 118.7,990.1 119.5,990.4 120.3,990.7 121.2,991.0 122.0,991.4 122.8,991.7 123.6,992.0 124.4,992.3 125.3,992.6 126.1,992.9 126.9,993.2 127.7,993.5 128.5,993.8 129.3,994.1 130.2,994.3 131.0,994.6 131.8,994.9 132.6,995.2 133.4,995.4 134.3,995.7 135.1,995.9 135.9,996.2 136.7,996.4 137.5,996.7 138.4,996.9 139.2,997.1 140.0,997.4 140.8,997.6 141.6,997.8 142.5,998.0 143.3,998.2 144.1,998.4 144.9,998.6 145.7,998.8 146.5,999.0 147.4,999.1 148.2,999.3 149.0,999.5 149.8,999.6 150.6,999.8 151.5,999.9 152.3,1000.1 153.1,1000.2 153.9,1000.3 154.7,1000.4 155.6,1000.4 156.4,1000.5 157.2,1000.5 158.0,1000.5 158.8,1000.5 159.7,1000.5 160.5,1000.4 161.3,1000.4 162.1,1000.3 162.9,1000.2 163.7,1000.0 164.6,999.9 165.4,999.8 166.2,999.6 167.0,999.4 167.8,999.2 168.7,999.0 169.5,998.7 170.3,998.5 171.1,998.2 171.9,997.9 172.8,997.6 173.6,997.3 174.4,997.0 175.2,996.7 176.0,996.3 176.9,996.0 177.7,995.6 178.5,995.2 179.3,994.8 180.1,994.4 181.0,993.9 181.8,993.5 182.6,993.1 183.4,992.6 184.2,992.1 185.0,991.6 185.9,991.0 186.7,990.4 187.5,989.7 188.3,989.0 189.1,988.3 190.0,987.6 190.8,986.8 191.6,986.0 192.4,985.2 193.2,984.3 194.1,983.5 194.9,982.6 195.7,981.6 196.5,980.7 197.3,979.7 198.2,978.7 199.0,977.7 199.8,976.7 200.6,975.7 201.4,974.6 202.2,973.5 203.1,972.5 203.9,971.4 204.7,970.3 205.5,969.1 206.3,968.0 207.2,966.9 208.0,965.8 208.8,964.6 209.6,963.5 210.4,962.3 211.3,961.2 212.1,960.0 212.9,958.8 213.7,957.6 214.5,956.4 215.4,955.2 216.2,953.9 217.0,952.6 217.8,951.3 218.6,949.9 219.4,948.5 220.3,947.1 221.1,945.6 221.9,944.1 222.7,942.5 223.5,940.9 224.4,939.2 225.2,937.5 226.0,935.7 226.8,933.8 227.6,931.9 228.5,929.8 229.3,927.5 230.1,925.1 230.9,922.6 231.7,919.9 232.6,917.1 233.4,914.2 234.2,911.2 235.0,908.2 235.8,905.0 236.6,901.8 237.5,898.5 238.3,895.2 239.1,891.8 239.9,888.4 240.7,884.9 241.6,881.5 242.4,877.9 243.2,874.2 244.0,870.5 244.8,866.6 245.7,862.6 246.5,858.6 247.3,854.4 248.1,850.1 248.9,845.7 249.8,841.1 250.6,836.4 251.4,831.6 252.2,826.6 253.0,821.5 253.9,816.2 254.7,810.5 255.5,804.4 256.3,798.0 257.1,791.4 257.9,784.6 258.8,777.7 259.6,770.6 260.4,763.5 261.2,756.3 262.0,748.7 262.9,740.4 263.7,731.7 264.5,723.1 265.3,714.9 266.1,707.6 267.0,701.5 267.8,696.8 268.6,692.9 269.4,689.1 270.2,685.2 271.1,681.5 271.9,677.7 272.7,673.8 273.5,669.7 274.3,665.2 275.1,661.0 276.0,657.3 276.8,653.8 277.6,650.9 278.4,648.4 279.2,646.2 280.1,644.3 280.9,642.7 281.7,641.5 282.5,640.5 283.3,639.5 284.2,638.7 285.0,637.9 285.8,637.4 286.6,637.0 287.4,636.6 288.3,636.2 289.1,635.9 289.9,635.6 290.7,635.4 291.5,635.2 292.3,635.1 293.2,635.1 294.0,635.3 294.8,635.6 295.6,636.0 296.4,636.6 297.3,637.5 298.1,640.0 298.9,643.2 299.7,646.5 300.5,650.1 301.4,653.8 302.2,657.7 303.0,661.9 303.8,666.3 304.6,671.0 305.5,675.5 306.3,680.0 307.1,684.5 307.9,689.2 308.7,694.0 309.5,699.0 310.4,704.4 311.2,710.3 312.0,716.4 312.8,722.7 313.6,729.0 314.5,735.2 315.3,741.2 316.1,746.8 316.9,752.3 317.7,757.7 318.6,763.0 319.4,768.2 320.2,773.4 321.0,778.6 321.8,783.7 322.7,788.8 323.5,794.0 324.3,799.2 325.1,804.5 325.9,809.9 326.7,815.4 327.6,821.0 328.4,826.8 329.2,832.8 330.0,838.9 330.8,845.1 331.7,851.3 332.5,857.6 333.3,863.7 334.1,869.8 334.9,875.8 335.8,881.6 336.6,887.1 337.4,892.5 338.2,897.6 339.0,902.7 339.9,907.8 340.7,912.7 341.5,917.6 342.3,922.4 343.1,927.0 344.0,931.5 344.8,935.9 345.6,940.2 346.4,944.2 347.2,948.3 348.0,952.3 348.9,956.4 349.7,960.4 350.5,964.2 351.3,967.7 352.1,970.9 353.0,973.7 353.8,975.9 354.6,978.0 355.4,980.0 356.2,981.9 357.1,983.9 357.9,985.8 358.7,987.6 359.5,989.4 360.3,991.2 361.2,992.9 362.0,994.5 362.8,996.1 363.6,997.6 364.4,999.1 365.2,1000.5 366.1,1001.8 366.9,1003.1 367.7,1004.3 368.5,1005.4 369.3,1006.5 370.2,1007.5 371.0,1008.4 371.8,1009.4 372.6,1010.3 373.4,1011.2 374.3,1012.2 375.1,1013.1 375.9,1014.0 376.7,1014.9 377.5,1015.7 378.4,1016.6 379.2,1017.4 380.0,1018.2 380.8,1019.0 381.6,1019.8 382.4,1020.5 383.3,1021.2 384.1,1021.9 384.9,1022.6 385.7,1023.2 386.5,1023.8 387.4,1024.4 388.2,1024.9 389.0,1025.4 389.8,1025.9 390.6,1026.3 391.5,1026.7 392.3,1027.1 393.1,1027.4 393.9,1027.7 394.7,1027.9 395.6,1028.1 396.4,1028.3 397.2,1028.4 398.0,1028.5 398.8,1028.5 399.6,1028.5 400.5,1028.5 401.3,1028.5 402.1,1028.5 402.9,1028.4 403.7,1028.3 404.6,1028.2 405.4,1028.1 406.2,1028.0 407.0,1027.8 407.8,1027.6 408.7,1027.4 409.5,1027.2 410.3,1026.9 411.1,1026.7 411.9,1026.4 412.8,1026.1 413.6,1025.8 414.4,1025.4 415.2,1025.1 416.0,1024.7 416.9,1024.4 417.7,1024.0" fill="none" stroke="#C00000" stroke-width="2.7" stroke-linejoin="round" stroke-linecap="round"/>
<polyline points="90.8,977.1 91.7,977.4 92.5,977.8 93.3,978.2 94.1,978.5 94.9,978.9 95.8,979.3 96.6,979.6 97.4,980.0 98.2,980.4 99.0,980.8 99.9,981.2 100.7,981.5 101.5,981.9 102.3,982.3 103.1,982.7 104.0,983.1 104.8,983.5 105.6,983.9 106.4,984.3 107.2,984.7 108.1,985.0 108.9,985.4 109.7,985.8 110.5,986.2 111.3,986.6 112.1,987.0 113.0,987.5 113.8,987.9 114.6,988.3 115.4,988.7 116.2,989.1 117.1,989.5 117.9,989.9 118.7,990.3 119.5,990.7 120.3,991.1 121.2,991.5 122.0,991.9 122.8,992.3 123.6,992.7 124.4,993.1 125.3,993.5 126.1,993.9 126.9,994.3 127.7,994.7 128.5,995.1 129.3,995.5 130.2,995.9 131.0,996.3 131.8,996.7 132.6,997.1 133.4,997.5 134.3,997.8 135.1,998.2 135.9,998.6 136.7,999.0 137.5,999.3 138.4,999.7 139.2,1000.1 140.0,1000.4 140.8,1000.7 141.6,1001.1 142.5,1001.4 143.3,1001.7 144.1,1002.0 144.9,1002.3 145.7,1002.6 146.5,1002.9 147.4,1003.2 148.2,1003.4 149.0,1003.7 149.8,1003.9 150.6,1004.2 151.5,1004.4 152.3,1004.6 153.1,1004.8 153.9,1005.0 154.7,1005.2 155.6,1005.4 156.4,1005.6 157.2,1005.7 158.0,1005.9 158.8,1006.0 159.7,1006.2 160.5,1006.3 161.3,1006.4 162.1,1006.5 162.9,1006.6 163.7,1006.7 164.6,1006.7 165.4,1006.8 166.2,1006.9 167.0,1006.9 167.8,1006.9 168.7,1006.9 169.5,1006.9 170.3,1006.8 171.1,1006.7 171.9,1006.6 172.8,1006.5 173.6,1006.3 174.4,1006.1 175.2,1005.9 176.0,1005.7 176.9,1005.4 177.7,1005.1 178.5,1004.8 179.3,1004.5 180.1,1004.1 181.0,1003.8 181.8,1003.4 182.6,1003.0 183.4,1002.5 184.2,1002.1 185.0,1001.6 185.9,1001.1 186.7,1000.6 187.5,1000.1 188.3,999.5 189.1,999.0 190.0,998.4 190.8,997.8 191.6,997.2 192.4,996.6 193.2,995.9 194.1,995.3 194.9,994.6 195.7,993.9 196.5,993.1 197.3,992.3 198.2,991.5 199.0,990.6 199.8,989.6 200.6,988.7 201.4,987.6 202.2,986.6 203.1,985.5 203.9,984.4 204.7,983.2 205.5,982.1 206.3,980.9 207.2,979.6 208.0,978.4 208.8,977.1 209.6,975.8 210.4,974.5 211.3,973.1 212.1,971.8 212.9,970.4 213.7,969.1 214.5,967.7 215.4,966.3 216.2,964.9 217.0,963.5 217.8,962.1 218.6,960.7 219.4,959.2 220.3,957.8 221.1,956.3 221.9,954.9 222.7,953.4 223.5,951.9 224.4,950.3 225.2,948.7 226.0,947.0 226.8,945.4 227.6,943.6 228.5,941.8 229.3,940.0 230.1,938.0 230.9,936.1 231.7,934.0 232.6,931.9 233.4,929.6 234.2,927.3 235.0,924.8 235.8,922.0 236.6,919.1 237.5,916.0 238.3,912.7 239.1,909.3 239.9,905.8 240.7,902.1 241.6,898.3 242.4,894.4 243.2,890.5 244.0,886.4 244.8,882.4 245.7,878.3 246.5,874.1 247.3,869.9 248.1,865.5 248.9,861.0 249.8,856.3 250.6,851.5 251.4,846.6 252.2,841.5 253.0,836.2 253.9,830.8 254.7,825.2 255.5,819.4 256.3,813.4 257.1,807.3 257.9,800.7 258.8,793.6 259.6,786.1 260.4,778.3 261.2,770.2 262.0,761.8 262.9,753.4 263.7,744.8 264.5,736.2 265.3,726.6 266.1,716.3 267.0,705.9 267.8,695.9 268.6,687.0 269.4,679.7 270.2,674.3 271.1,669.7 271.9,665.1 272.7,660.5 273.5,656.0 274.3,651.4 275.1,646.5 276.0,641.1 276.8,636.1 277.6,631.8 278.4,627.8 279.2,624.6 280.1,621.9 280.9,619.5 281.7,617.5 282.5,616.0 283.3,614.7 284.2,613.6 285.0,612.7 285.8,611.9 286.6,611.3 287.4,610.8 288.3,610.4 289.1,610.0 289.9,609.7 290.7,609.4 291.5,609.2 292.3,609.2 293.2,609.3 294.0,609.6 294.8,610.1 295.6,610.8 296.4,611.9 297.3,615.1 298.1,619.0 298.9,623.1 299.7,627.5 300.5,632.2 301.4,637.1 302.2,642.4 303.0,648.0 303.8,653.4 304.6,658.9 305.5,664.4 306.3,670.1 307.1,676.0 307.9,682.5 308.7,689.5 309.5,696.9 310.4,704.6 311.2,712.2 312.0,719.7 312.8,726.7 313.6,733.5 314.5,740.2 315.3,746.7 316.1,753.1 316.9,759.5 317.7,765.8 318.6,772.2 319.4,778.5 320.2,784.9 321.0,791.5 321.8,798.1 322.7,804.9 323.5,811.9 324.3,819.2 325.1,826.7 325.9,834.3 326.7,842.1 327.6,849.9 328.4,857.6 329.2,865.3 330.0,872.9 330.8,880.2 331.7,887.2 332.5,894.0 333.3,900.6 334.1,907.1 334.9,913.6 335.8,919.9 336.6,926.2 337.4,932.3 338.2,938.2 339.0,944.0 339.9,949.6 340.7,955.0 341.5,960.5 342.3,966.0 343.1,971.4 344.0,976.6 344.8,981.4 345.6,985.8 346.4,989.6 347.2,992.8 348.0,995.8 348.9,998.9 349.7,1001.9 350.5,1004.8 351.3,1007.7 352.1,1010.5 353.0,1013.2 353.8,1015.9 354.6,1018.5 355.4,1021.0 356.2,1023.4 357.1,1025.7 357.9,1027.9 358.7,1030.0 359.5,1032.0 360.3,1033.8 361.2,1035.6 362.0,1037.2 362.8,1038.8 363.6,1040.4 364.4,1042.0 365.2,1043.5 366.1,1044.9 366.9,1046.3 367.7,1047.7 368.5,1049.0 369.3,1050.2 370.2,1051.4 371.0,1052.5 371.8,1053.6 372.6,1054.6 373.4,1055.5 374.3,1056.4 375.1,1057.2 375.9,1057.9 376.7,1058.5 377.5,1059.0 378.4,1059.5 379.2,1059.9 380.0,1060.2 380.8,1060.4 381.6,1060.6 382.4,1060.6 383.3,1060.6 384.1,1060.5 384.9,1060.4 385.7,1060.1 386.5,1059.8 387.4,1059.4 388.2,1058.9 389.0,1058.4 389.8,1057.8 390.6,1057.1 391.5,1056.4 392.3,1055.6 393.1,1054.7 393.9,1053.8 394.7,1052.8 395.6,1051.8 396.4,1050.7 397.2,1049.6 398.0,1048.5 398.8,1047.3 399.6,1046.0 400.5,1044.8 401.3,1043.5 402.1,1042.2 402.9,1040.8 403.7,1039.5 404.6,1038.1 405.4,1036.8 406.2,1035.4 407.0,1034.0 407.8,1032.6 408.7,1031.2 409.5,1029.9 410.3,1028.5 411.1,1027.2 411.9,1025.8 412.8,1024.5 413.6,1023.2 414.4,1021.9 415.2,1020.6 416.0,1019.4 416.9,1018.2 417.7,1017.0" fill="none" stroke="#C00000" stroke-width="2.7" stroke-linejoin="round" stroke-linecap="round"/>
<line x1="90.85" y1="604.1" x2="90.85" y2="1078.2" stroke="#000" stroke-width="2.8"/>
<line x1="89.6" y1="1070.8" x2="418" y2="1070.8" stroke="#000" stroke-width="2.8"/>
<line x1="82.6" y1="1070.78" x2="90.85" y2="1070.78" stroke="#000" stroke-width="2.4"/>
<text x="66.9" y="1079.68" font-size="26" text-anchor="end">-8</text>
<line x1="82.6" y1="993.2" x2="90.85" y2="993.2" stroke="#000" stroke-width="2.4"/>
<text x="66.9" y="1002.1" font-size="26" text-anchor="end">0</text>
<line x1="82.6" y1="915.62" x2="90.85" y2="915.62" stroke="#000" stroke-width="2.4"/>
<text x="66.9" y="924.52" font-size="26" text-anchor="end">8</text>
<line x1="82.6" y1="838.05" x2="90.85" y2="838.05" stroke="#000" stroke-width="2.4"/>
<text x="66.9" y="846.95" font-size="26" text-anchor="end">16</text>
<line x1="82.6" y1="760.47" x2="90.85" y2="760.47" stroke="#000" stroke-width="2.4"/>
<text x="66.9" y="769.37" font-size="26" text-anchor="end">24</text>
<line x1="82.6" y1="682.9" x2="90.85" y2="682.9" stroke="#000" stroke-width="2.4"/>
<text x="66.9" y="691.8" font-size="26" text-anchor="end">32</text>
<line x1="82.6" y1="605.32" x2="90.85" y2="605.32" stroke="#000" stroke-width="2.4"/>
<text x="66.9" y="614.22" font-size="26" text-anchor="end">40</text>
<line x1="90.85" y1="1070.8" x2="90.85" y2="1078.2" stroke="#000" stroke-width="2.4"/>
<text x="91.15" y="1112" font-size="26" text-anchor="middle" textLength="47.5" lengthAdjust="spacingAndGlyphs">0.45</text>
<line x1="207.78" y1="1070.8" x2="207.78" y2="1078.2" stroke="#000" stroke-width="2.4"/>
<text x="208.08" y="1112" font-size="26" text-anchor="middle" textLength="47.5" lengthAdjust="spacingAndGlyphs">0.55</text>
<line x1="324.71" y1="1070.8" x2="324.71" y2="1078.2" stroke="#000" stroke-width="2.4"/>
<text x="325.01" y="1112" font-size="26" text-anchor="middle" textLength="47.5" lengthAdjust="spacingAndGlyphs">0.65</text>
<text x="138.2" y="1144.5" font-size="29" textLength="217.8" lengthAdjust="spacingAndGlyphs">E/V vs. Ag/AgCl</text>
<text x="26.2" y="870.6" font-size="29.5" textLength="59.5" lengthAdjust="spacingAndGlyphs" transform="rotate(-90 26.2 870.6)">I/μA</text>
<text x="112" y="658.2" font-size="37.5" textLength="24" lengthAdjust="spacingAndGlyphs">B</text>
<line x1="414.85" y1="637.7" x2="414.85" y2="955.9" stroke="#000" stroke-width="2.8"/>
<line x1="413.6" y1="954.7" x2="660.2" y2="954.7" stroke="#000" stroke-width="2.8"/>
<text x="394.4" y="962.6" font-size="23" text-anchor="end">0</text>
<line x1="407.3" y1="891.53" x2="414.85" y2="891.53" stroke="#000" stroke-width="2.4"/>
<text x="394.4" y="899.43" font-size="23" text-anchor="end">10</text>
<line x1="407.3" y1="828.36" x2="414.85" y2="828.36" stroke="#000" stroke-width="2.4"/>
<text x="394.4" y="836.26" font-size="23" text-anchor="end">20</text>
<line x1="407.3" y1="765.19" x2="414.85" y2="765.19" stroke="#000" stroke-width="2.4"/>
<text x="394.4" y="773.09" font-size="23" text-anchor="end">30</text>
<line x1="407.3" y1="702.02" x2="414.85" y2="702.02" stroke="#000" stroke-width="2.4"/>
<text x="394.4" y="709.92" font-size="23" text-anchor="end">40</text>
<line x1="407.3" y1="638.85" x2="414.85" y2="638.85" stroke="#000" stroke-width="2.4"/>
<text x="394.4" y="646.75" font-size="23" text-anchor="end">50</text>
<text x="414.85" y="989.6" font-size="23" text-anchor="middle">0</text>
<line x1="476.05" y1="954.7" x2="476.05" y2="961.8" stroke="#000" stroke-width="2.4"/>
<text x="476.05" y="989.6" font-size="23" text-anchor="middle">50</text>
<line x1="537.25" y1="954.7" x2="537.25" y2="961.8" stroke="#000" stroke-width="2.4"/>
<text x="537.25" y="989.6" font-size="23" text-anchor="middle">100</text>
<line x1="598.45" y1="954.7" x2="598.45" y2="961.8" stroke="#000" stroke-width="2.4"/>
<text x="598.45" y="989.6" font-size="23" text-anchor="middle">150</text>
<line x1="659.65" y1="954.7" x2="659.65" y2="961.8" stroke="#000" stroke-width="2.4"/>
<text x="659.65" y="989.6" font-size="23" text-anchor="middle">200</text>
<path d="M414.5 943.1V965.1M412.8 943.1h3.4M412.8 965.1h3.4" stroke="#888" stroke-width="1.6" fill="none"/>
<path d="M417.1 936.5V958.5M415.4 936.5h3.4M415.4 958.5h3.4" stroke="#888" stroke-width="1.6" fill="none"/>
<path d="M420.5 932.0V954.0M418.8 932.0h3.4M418.8 954.0h3.4" stroke="#888" stroke-width="1.6" fill="none"/>
<path d="M423.7 927.3V949.3M422.0 927.3h3.4M422.0 949.3h3.4" stroke="#888" stroke-width="1.6" fill="none"/>
<path d="M426.3 916.2V938.2M424.6 916.2h3.4M424.6 938.2h3.4" stroke="#888" stroke-width="1.6" fill="none"/>
<path d="M451.2 887.2V909.2M449.5 887.2h3.4M449.5 909.2h3.4" stroke="#888" stroke-width="1.6" fill="none"/>
<path d="M475.5 871.5V893.5M473.8 871.5h3.4M473.8 893.5h3.4" stroke="#888" stroke-width="1.6" fill="none"/>
<path d="M500.0 849.0V871.0M498.3 849.0h3.4M498.3 871.0h3.4" stroke="#888" stroke-width="1.6" fill="none"/>
<path d="M524.6 825.8V847.8M522.9 825.8h3.4M522.9 847.8h3.4" stroke="#888" stroke-width="1.6" fill="none"/>
<path d="M537.0 811.6V833.6M535.3 811.6h3.4M535.3 833.6h3.4" stroke="#888" stroke-width="1.6" fill="none"/>
<path d="M561.6 783.6V805.6M559.9 783.6h3.4M559.9 805.6h3.4" stroke="#888" stroke-width="1.6" fill="none"/>
<path d="M573.5 771.7V793.7M571.8 771.7h3.4M571.8 793.7h3.4" stroke="#888" stroke-width="1.6" fill="none"/>
<path d="M585.3 751.3V773.3M583.6 751.3h3.4M583.6 773.3h3.4" stroke="#888" stroke-width="1.6" fill="none"/>
<path d="M598.1 736.1V758.1M596.4 736.1h3.4M596.4 758.1h3.4" stroke="#888" stroke-width="1.6" fill="none"/>
<path d="M610.0 721.9V743.9M608.3 721.9h3.4M608.3 743.9h3.4" stroke="#888" stroke-width="1.6" fill="none"/>
<path d="M622.3 709.6V731.6M620.6 709.6h3.4M620.6 731.6h3.4" stroke="#888" stroke-width="1.6" fill="none"/>
<circle cx="414.5" cy="954.1" r="6.3" fill="url(#sph2)"/>
<circle cx="417.1" cy="947.5" r="6.3" fill="url(#sph2)"/>
<circle cx="420.5" cy="943.0" r="6.3" fill="url(#sph2)"/>
<circle cx="423.7" cy="938.3" r="6.3" fill="url(#sph2)"/>
<circle cx="426.3" cy="927.2" r="6.3" fill="url(#sph2)"/>
<circle cx="451.2" cy="898.2" r="6.3" fill="url(#sph2)"/>
<circle cx="475.5" cy="882.5" r="6.3" fill="url(#sph2)"/>
<circle cx="500.0" cy="860.0" r="6.3" fill="url(#sph2)"/>
<circle cx="524.6" cy="836.8" r="6.3" fill="url(#sph2)"/>
<circle cx="537.0" cy="822.6" r="6.3" fill="url(#sph2)"/>
<circle cx="561.6" cy="794.6" r="6.3" fill="url(#sph2)"/>
<circle cx="573.5" cy="782.7" r="6.3" fill="url(#sph2)"/>
<circle cx="585.3" cy="762.3" r="6.3" fill="url(#sph2)"/>
<circle cx="598.1" cy="747.1" r="6.3" fill="url(#sph2)"/>
<circle cx="610.0" cy="732.9" r="6.3" fill="url(#sph2)"/>
<circle cx="622.3" cy="720.6" r="6.3" fill="url(#sph2)"/>
<line x1="414.85" y1="949.1" x2="629.05" y2="718.05" stroke="#111" stroke-width="2.4" stroke-dasharray="5.5 3.2"/>
<text x="491.8" y="909.2" font-size="21.5" textLength="187.6" lengthAdjust="spacingAndGlyphs">y = 0.209x + 0.8869</text>
<text x="529.8" y="935.4" font-size="22.5" textLength="111.5" lengthAdjust="spacingAndGlyphs">R<tspan font-size="20.5" dy="-1.5">²</tspan><tspan dy="1.5"> = 0.9957</tspan></text>
<text x="486.2" y="1023.2" font-size="27.5" textLength="19.8" lengthAdjust="spacingAndGlyphs">C</text>
<text x="505.4" y="1029.5" font-size="17" textLength="31" lengthAdjust="spacingAndGlyphs">DIC</text>
<text x="538.4" y="1023.4" font-size="22.5" textLength="7.4" lengthAdjust="spacingAndGlyphs">/</text>
<text x="554.4" y="1023.4" font-size="22.5" textLength="37.6" lengthAdjust="spacingAndGlyphs">μM</text>
<text x="361.6" y="870.2" font-size="26.5" textLength="165" lengthAdjust="spacingAndGlyphs" transform="rotate(-90 361.6 870.2)">Δ Current/ μA</text>
</svg></body></html>
